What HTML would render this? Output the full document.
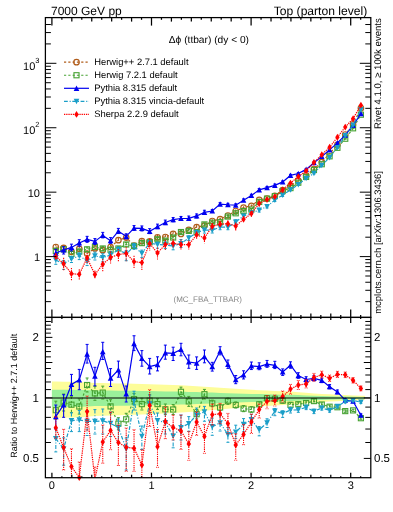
<!DOCTYPE html>
<html><head><meta charset="utf-8"><style>
html,body{margin:0;padding:0;background:#fff;width:393px;height:512px;overflow:hidden;}
svg{position:absolute;left:0;top:0;will-change:transform;}
svg text{font-family:"Liberation Sans", sans-serif;text-rendering:geometricPrecision;}
</style></head><body>
<svg width="393" height="512" viewBox="0 0 393 512"><defs><clipPath id="cm"><rect x="45.4" y="17.6" width="325.40000000000003" height="299.79999999999995"/></clipPath><clipPath id="cr"><rect x="45.4" y="317.4" width="325.40000000000003" height="160.3"/></clipPath></defs><g clip-path="url(#cr)"><polygon points="51.9,381.5 55.8,381.5 63.6,381.7 71.5,381.8 79.3,382.0 87.1,382.5 94.9,383.0 102.7,383.1 110.6,383.3 118.4,383.5 126.2,383.6 134.0,383.8 141.9,384.0 149.7,384.2 157.5,384.5 165.3,384.8 173.1,385.1 181.0,385.3 188.8,385.8 196.6,386.2 204.4,386.7 212.3,387.2 220.1,387.8 227.9,388.3 235.7,388.8 243.6,389.3 251.4,389.8 259.2,390.2 267.0,390.6 274.8,390.9 282.7,391.3 290.5,391.6 298.3,392.2 306.1,392.8 314.0,393.5 321.8,393.9 329.6,394.3 337.4,394.8 345.2,395.1 353.1,395.4 360.9,395.7 364.8,395.7 364.8,400.1 360.9,400.1 353.1,400.5 345.2,400.8 337.4,401.2 329.6,401.6 321.8,402.1 314.0,402.5 306.1,403.3 298.3,404.1 290.5,404.6 282.7,405.1 274.8,405.5 267.0,405.9 259.2,406.3 251.4,406.8 243.6,407.4 235.7,408.1 227.9,408.7 220.1,409.4 212.3,410.0 204.4,410.7 196.6,411.4 188.8,412.0 181.0,412.6 173.1,413.0 165.3,413.4 157.5,413.8 149.7,414.2 141.9,414.5 134.0,414.7 126.2,415.0 118.4,415.2 110.6,415.5 102.7,415.7 94.9,415.9 87.1,416.7 79.3,417.4 71.5,417.6 63.6,417.8 55.8,418.1 51.9,418.1" fill="#fdfd9a" stroke="none"/><polygon points="51.9,389.7 55.8,389.7 63.6,389.7 71.5,389.8 79.3,389.9 87.1,390.1 94.9,390.4 102.7,390.5 110.6,390.6 118.4,390.7 126.2,390.8 134.0,390.8 141.9,390.9 149.7,391.1 157.5,391.2 165.3,391.4 173.1,391.5 181.0,391.6 188.8,391.9 196.6,392.1 204.4,392.4 212.3,392.6 220.1,392.9 227.9,393.2 235.7,393.4 243.6,393.7 251.4,393.9 259.2,394.1 267.0,394.3 274.8,394.5 282.7,394.7 290.5,394.8 298.3,395.1 306.1,395.4 314.0,395.8 321.8,396.0 329.6,396.2 337.4,396.4 345.2,396.5 353.1,396.7 360.9,396.9 364.8,396.9 364.8,399.0 360.9,399.0 353.1,399.1 345.2,399.3 337.4,399.4 329.6,399.7 321.8,399.9 314.0,400.1 306.1,400.4 298.3,400.8 290.5,401.1 282.7,401.3 274.8,401.4 267.0,401.6 259.2,401.8 251.4,402.1 243.6,402.3 235.7,402.6 227.9,402.9 220.1,403.2 212.3,403.5 204.4,403.8 196.6,404.1 188.8,404.4 181.0,404.6 173.1,404.8 165.3,405.0 157.5,405.2 149.7,405.3 141.9,405.5 134.0,405.6 126.2,405.7 118.4,405.8 110.6,405.9 102.7,406.0 94.9,406.1 87.1,406.4 79.3,406.7 71.5,406.8 63.6,406.9 55.8,407.0 51.9,407.0" fill="#9af09a" stroke="none"/></g><g id="main"><g clip-path="url(#cm)"><polyline points="55.81,247.00 63.63,247.80 71.46,251.70 79.28,248.80 87.10,253.50 94.92,248.40 102.75,250.20 110.57,247.00 118.39,240.20 126.21,237.60 134.04,245.50 141.86,241.10 149.68,241.30 157.50,237.30 165.33,237.00 173.15,233.80 180.97,234.00 188.79,229.80 196.62,227.10 204.44,225.60 212.26,221.00 220.09,219.10 227.91,215.50 235.73,211.00 243.55,207.60 251.38,205.80 259.20,199.90 267.02,198.50 274.84,195.80 282.67,190.20 290.49,185.90 298.31,180.70 306.13,175.30 313.96,169.00 321.78,162.10 329.60,153.50 337.42,144.80 345.25,134.50 353.07,124.30 360.89,108.20" fill="none" stroke="#b05c1a" stroke-width="1.2" stroke-dasharray="2.2,2.1"/><line x1="55.81" y1="244.12" x2="55.81" y2="249.88" stroke="#b05c1a" stroke-width="1.1" stroke-dasharray="2.2,2.1"/><line x1="63.63" y1="244.95" x2="63.63" y2="250.65" stroke="#b05c1a" stroke-width="1.1" stroke-dasharray="2.2,2.1"/><line x1="71.46" y1="248.87" x2="71.46" y2="254.53" stroke="#b05c1a" stroke-width="1.1" stroke-dasharray="2.2,2.1"/><line x1="79.28" y1="246.00" x2="79.28" y2="251.60" stroke="#b05c1a" stroke-width="1.1" stroke-dasharray="2.2,2.1"/><line x1="87.10" y1="250.80" x2="87.10" y2="256.20" stroke="#b05c1a" stroke-width="1.1" stroke-dasharray="2.2,2.1"/><line x1="94.92" y1="245.79" x2="94.92" y2="251.01" stroke="#b05c1a" stroke-width="1.1" stroke-dasharray="2.2,2.1"/><line x1="102.75" y1="247.62" x2="102.75" y2="252.78" stroke="#b05c1a" stroke-width="1.1" stroke-dasharray="2.2,2.1"/><line x1="110.57" y1="244.46" x2="110.57" y2="249.54" stroke="#b05c1a" stroke-width="1.1" stroke-dasharray="2.2,2.1"/><line x1="118.39" y1="237.69" x2="118.39" y2="242.71" stroke="#b05c1a" stroke-width="1.1" stroke-dasharray="2.2,2.1"/><line x1="126.21" y1="235.12" x2="126.21" y2="240.08" stroke="#b05c1a" stroke-width="1.1" stroke-dasharray="2.2,2.1"/><line x1="134.04" y1="243.05" x2="134.04" y2="247.95" stroke="#b05c1a" stroke-width="1.1" stroke-dasharray="2.2,2.1"/><line x1="141.86" y1="238.68" x2="141.86" y2="243.52" stroke="#b05c1a" stroke-width="1.1" stroke-dasharray="2.2,2.1"/><line x1="149.68" y1="238.93" x2="149.68" y2="243.67" stroke="#b05c1a" stroke-width="1.1" stroke-dasharray="2.2,2.1"/><line x1="157.50" y1="234.98" x2="157.50" y2="239.62" stroke="#b05c1a" stroke-width="1.1" stroke-dasharray="2.2,2.1"/><line x1="165.33" y1="234.73" x2="165.33" y2="239.27" stroke="#b05c1a" stroke-width="1.1" stroke-dasharray="2.2,2.1"/><line x1="173.15" y1="231.59" x2="173.15" y2="236.01" stroke="#b05c1a" stroke-width="1.1" stroke-dasharray="2.2,2.1"/><line x1="180.97" y1="231.84" x2="180.97" y2="236.16" stroke="#b05c1a" stroke-width="1.1" stroke-dasharray="2.2,2.1"/><line x1="188.79" y1="227.72" x2="188.79" y2="231.88" stroke="#b05c1a" stroke-width="1.1" stroke-dasharray="2.2,2.1"/><line x1="196.62" y1="225.10" x2="196.62" y2="229.10" stroke="#b05c1a" stroke-width="1.1" stroke-dasharray="2.2,2.1"/><line x1="204.44" y1="223.69" x2="204.44" y2="227.51" stroke="#b05c1a" stroke-width="1.1" stroke-dasharray="2.2,2.1"/><line x1="212.26" y1="219.19" x2="212.26" y2="222.81" stroke="#b05c1a" stroke-width="1.1" stroke-dasharray="2.2,2.1"/><line x1="220.09" y1="217.38" x2="220.09" y2="220.82" stroke="#b05c1a" stroke-width="1.1" stroke-dasharray="2.2,2.1"/><line x1="227.91" y1="213.87" x2="227.91" y2="217.13" stroke="#b05c1a" stroke-width="1.1" stroke-dasharray="2.2,2.1"/><line x1="235.73" y1="209.47" x2="235.73" y2="212.53" stroke="#b05c1a" stroke-width="1.1" stroke-dasharray="2.2,2.1"/><line x1="243.55" y1="206.16" x2="243.55" y2="209.04" stroke="#b05c1a" stroke-width="1.1" stroke-dasharray="2.2,2.1"/><line x1="251.38" y1="204.44" x2="251.38" y2="207.16" stroke="#b05c1a" stroke-width="1.1" stroke-dasharray="2.2,2.1"/><line x1="259.20" y1="198.62" x2="259.20" y2="201.18" stroke="#b05c1a" stroke-width="1.1" stroke-dasharray="2.2,2.1"/><line x1="267.02" y1="197.28" x2="267.02" y2="199.72" stroke="#b05c1a" stroke-width="1.1" stroke-dasharray="2.2,2.1"/><line x1="274.84" y1="194.64" x2="274.84" y2="196.96" stroke="#b05c1a" stroke-width="1.1" stroke-dasharray="2.2,2.1"/><line x1="282.67" y1="189.10" x2="282.67" y2="191.30" stroke="#b05c1a" stroke-width="1.1" stroke-dasharray="2.2,2.1"/><line x1="290.49" y1="184.86" x2="290.49" y2="186.94" stroke="#b05c1a" stroke-width="1.1" stroke-dasharray="2.2,2.1"/><line x1="298.31" y1="179.75" x2="298.31" y2="181.65" stroke="#b05c1a" stroke-width="1.1" stroke-dasharray="2.2,2.1"/><line x1="306.13" y1="174.46" x2="306.13" y2="176.14" stroke="#b05c1a" stroke-width="1.1" stroke-dasharray="2.2,2.1"/><line x1="313.96" y1="168.28" x2="313.96" y2="169.72" stroke="#b05c1a" stroke-width="1.1" stroke-dasharray="2.2,2.1"/><line x1="321.78" y1="161.45" x2="321.78" y2="162.75" stroke="#b05c1a" stroke-width="1.1" stroke-dasharray="2.2,2.1"/><line x1="329.60" y1="152.92" x2="329.60" y2="154.08" stroke="#b05c1a" stroke-width="1.1" stroke-dasharray="2.2,2.1"/><line x1="337.42" y1="144.29" x2="337.42" y2="145.31" stroke="#b05c1a" stroke-width="1.1" stroke-dasharray="2.2,2.1"/><line x1="345.25" y1="134.04" x2="345.25" y2="134.96" stroke="#b05c1a" stroke-width="1.1" stroke-dasharray="2.2,2.1"/><line x1="353.07" y1="123.89" x2="353.07" y2="124.71" stroke="#b05c1a" stroke-width="1.1" stroke-dasharray="2.2,2.1"/><line x1="360.89" y1="107.85" x2="360.89" y2="108.55" stroke="#b05c1a" stroke-width="1.1" stroke-dasharray="2.2,2.1"/></g><circle cx="55.81" cy="247.00" r="2.75" fill="none" stroke="#b05c1a" stroke-width="1.2"/><circle cx="63.63" cy="247.80" r="2.75" fill="none" stroke="#b05c1a" stroke-width="1.2"/><circle cx="71.46" cy="251.70" r="2.75" fill="none" stroke="#b05c1a" stroke-width="1.2"/><circle cx="79.28" cy="248.80" r="2.75" fill="none" stroke="#b05c1a" stroke-width="1.2"/><circle cx="87.10" cy="253.50" r="2.75" fill="none" stroke="#b05c1a" stroke-width="1.2"/><circle cx="94.92" cy="248.40" r="2.75" fill="none" stroke="#b05c1a" stroke-width="1.2"/><circle cx="102.75" cy="250.20" r="2.75" fill="none" stroke="#b05c1a" stroke-width="1.2"/><circle cx="110.57" cy="247.00" r="2.75" fill="none" stroke="#b05c1a" stroke-width="1.2"/><circle cx="118.39" cy="240.20" r="2.75" fill="none" stroke="#b05c1a" stroke-width="1.2"/><circle cx="126.21" cy="237.60" r="2.75" fill="none" stroke="#b05c1a" stroke-width="1.2"/><circle cx="134.04" cy="245.50" r="2.75" fill="none" stroke="#b05c1a" stroke-width="1.2"/><circle cx="141.86" cy="241.10" r="2.75" fill="none" stroke="#b05c1a" stroke-width="1.2"/><circle cx="149.68" cy="241.30" r="2.75" fill="none" stroke="#b05c1a" stroke-width="1.2"/><circle cx="157.50" cy="237.30" r="2.75" fill="none" stroke="#b05c1a" stroke-width="1.2"/><circle cx="165.33" cy="237.00" r="2.75" fill="none" stroke="#b05c1a" stroke-width="1.2"/><circle cx="173.15" cy="233.80" r="2.75" fill="none" stroke="#b05c1a" stroke-width="1.2"/><circle cx="180.97" cy="234.00" r="2.75" fill="none" stroke="#b05c1a" stroke-width="1.2"/><circle cx="188.79" cy="229.80" r="2.75" fill="none" stroke="#b05c1a" stroke-width="1.2"/><circle cx="196.62" cy="227.10" r="2.75" fill="none" stroke="#b05c1a" stroke-width="1.2"/><circle cx="204.44" cy="225.60" r="2.75" fill="none" stroke="#b05c1a" stroke-width="1.2"/><circle cx="212.26" cy="221.00" r="2.75" fill="none" stroke="#b05c1a" stroke-width="1.2"/><circle cx="220.09" cy="219.10" r="2.75" fill="none" stroke="#b05c1a" stroke-width="1.2"/><circle cx="227.91" cy="215.50" r="2.75" fill="none" stroke="#b05c1a" stroke-width="1.2"/><circle cx="235.73" cy="211.00" r="2.75" fill="none" stroke="#b05c1a" stroke-width="1.2"/><circle cx="243.55" cy="207.60" r="2.75" fill="none" stroke="#b05c1a" stroke-width="1.2"/><circle cx="251.38" cy="205.80" r="2.75" fill="none" stroke="#b05c1a" stroke-width="1.2"/><circle cx="259.20" cy="199.90" r="2.75" fill="none" stroke="#b05c1a" stroke-width="1.2"/><circle cx="267.02" cy="198.50" r="2.75" fill="none" stroke="#b05c1a" stroke-width="1.2"/><circle cx="274.84" cy="195.80" r="2.75" fill="none" stroke="#b05c1a" stroke-width="1.2"/><circle cx="282.67" cy="190.20" r="2.75" fill="none" stroke="#b05c1a" stroke-width="1.2"/><circle cx="290.49" cy="185.90" r="2.75" fill="none" stroke="#b05c1a" stroke-width="1.2"/><circle cx="298.31" cy="180.70" r="2.75" fill="none" stroke="#b05c1a" stroke-width="1.2"/><circle cx="306.13" cy="175.30" r="2.75" fill="none" stroke="#b05c1a" stroke-width="1.2"/><circle cx="313.96" cy="169.00" r="2.75" fill="none" stroke="#b05c1a" stroke-width="1.2"/><circle cx="321.78" cy="162.10" r="2.75" fill="none" stroke="#b05c1a" stroke-width="1.2"/><circle cx="329.60" cy="153.50" r="2.75" fill="none" stroke="#b05c1a" stroke-width="1.2"/><circle cx="337.42" cy="144.80" r="2.75" fill="none" stroke="#b05c1a" stroke-width="1.2"/><circle cx="345.25" cy="134.50" r="2.75" fill="none" stroke="#b05c1a" stroke-width="1.2"/><circle cx="353.07" cy="124.30" r="2.75" fill="none" stroke="#b05c1a" stroke-width="1.2"/><circle cx="360.89" cy="108.20" r="2.75" fill="none" stroke="#b05c1a" stroke-width="1.2"/><g clip-path="url(#cm)"><polyline points="55.81,250.94 63.63,249.27 71.46,253.88 79.28,251.56 87.10,249.36 94.92,246.96 102.75,248.50 110.57,249.72 118.39,248.47 126.21,244.46 134.04,245.88 141.86,243.09 149.68,242.17 157.50,239.29 165.33,240.65 173.15,237.52 180.97,232.04 188.79,230.92 196.62,232.32 204.44,224.41 212.26,222.76 220.09,222.18 227.91,216.56 235.73,213.28 243.55,211.03 251.38,209.52 259.20,201.95 267.02,198.60 274.84,196.09 282.67,191.10 290.49,188.11 298.31,182.72 306.13,176.93 313.96,170.03 321.78,164.22 329.60,156.32 337.42,147.80 345.25,138.73 353.07,128.31 360.89,114.71" fill="none" stroke="#46a232" stroke-width="1.2" stroke-dasharray="2.2,2.1"/><line x1="55.81" y1="248.06" x2="55.81" y2="253.83" stroke="#46a232" stroke-width="1.1" stroke-dasharray="2.2,2.1"/><line x1="54.31" y1="248.06" x2="57.31" y2="248.06" stroke="#46a232" stroke-width="1"/><line x1="54.31" y1="253.83" x2="57.31" y2="253.83" stroke="#46a232" stroke-width="1"/><line x1="63.63" y1="246.56" x2="63.63" y2="251.99" stroke="#46a232" stroke-width="1.1" stroke-dasharray="2.2,2.1"/><line x1="62.13" y1="246.56" x2="65.13" y2="246.56" stroke="#46a232" stroke-width="1"/><line x1="62.13" y1="251.99" x2="65.13" y2="251.99" stroke="#46a232" stroke-width="1"/><line x1="71.46" y1="251.34" x2="71.46" y2="256.42" stroke="#46a232" stroke-width="1.1" stroke-dasharray="2.2,2.1"/><line x1="69.96" y1="251.34" x2="72.96" y2="251.34" stroke="#46a232" stroke-width="1"/><line x1="69.96" y1="256.42" x2="72.96" y2="256.42" stroke="#46a232" stroke-width="1"/><line x1="79.28" y1="249.12" x2="79.28" y2="254.00" stroke="#46a232" stroke-width="1.1" stroke-dasharray="2.2,2.1"/><line x1="77.78" y1="249.12" x2="80.78" y2="249.12" stroke="#46a232" stroke-width="1"/><line x1="77.78" y1="254.00" x2="80.78" y2="254.00" stroke="#46a232" stroke-width="1"/><line x1="87.10" y1="247.12" x2="87.10" y2="251.61" stroke="#46a232" stroke-width="1.1" stroke-dasharray="2.2,2.1"/><line x1="85.60" y1="247.12" x2="88.60" y2="247.12" stroke="#46a232" stroke-width="1"/><line x1="85.60" y1="251.61" x2="88.60" y2="251.61" stroke="#46a232" stroke-width="1"/><line x1="94.92" y1="244.74" x2="94.92" y2="249.18" stroke="#46a232" stroke-width="1.1" stroke-dasharray="2.2,2.1"/><line x1="93.42" y1="244.74" x2="96.42" y2="244.74" stroke="#46a232" stroke-width="1"/><line x1="93.42" y1="249.18" x2="96.42" y2="249.18" stroke="#46a232" stroke-width="1"/><line x1="102.75" y1="246.43" x2="102.75" y2="250.57" stroke="#46a232" stroke-width="1.1" stroke-dasharray="2.2,2.1"/><line x1="101.25" y1="246.43" x2="104.25" y2="246.43" stroke="#46a232" stroke-width="1"/><line x1="101.25" y1="250.57" x2="104.25" y2="250.57" stroke="#46a232" stroke-width="1"/><line x1="110.57" y1="247.57" x2="110.57" y2="251.88" stroke="#46a232" stroke-width="1.1" stroke-dasharray="2.2,2.1"/><line x1="109.07" y1="247.57" x2="112.07" y2="247.57" stroke="#46a232" stroke-width="1"/><line x1="109.07" y1="251.88" x2="112.07" y2="251.88" stroke="#46a232" stroke-width="1"/><line x1="118.39" y1="246.53" x2="118.39" y2="250.41" stroke="#46a232" stroke-width="1.1" stroke-dasharray="2.2,2.1"/><line x1="116.89" y1="246.53" x2="119.89" y2="246.53" stroke="#46a232" stroke-width="1"/><line x1="116.89" y1="250.41" x2="119.89" y2="250.41" stroke="#46a232" stroke-width="1"/><line x1="126.21" y1="242.54" x2="126.21" y2="246.38" stroke="#46a232" stroke-width="1.1" stroke-dasharray="2.2,2.1"/><line x1="124.71" y1="242.54" x2="127.71" y2="242.54" stroke="#46a232" stroke-width="1"/><line x1="124.71" y1="246.38" x2="127.71" y2="246.38" stroke="#46a232" stroke-width="1"/><line x1="134.04" y1="244.10" x2="134.04" y2="247.67" stroke="#46a232" stroke-width="1.1" stroke-dasharray="2.2,2.1"/><line x1="132.54" y1="244.10" x2="135.54" y2="244.10" stroke="#46a232" stroke-width="1"/><line x1="132.54" y1="247.67" x2="135.54" y2="247.67" stroke="#46a232" stroke-width="1"/><line x1="141.86" y1="241.21" x2="141.86" y2="244.96" stroke="#46a232" stroke-width="1.1" stroke-dasharray="2.2,2.1"/><line x1="140.36" y1="241.21" x2="143.36" y2="241.21" stroke="#46a232" stroke-width="1"/><line x1="140.36" y1="244.96" x2="143.36" y2="244.96" stroke="#46a232" stroke-width="1"/><line x1="149.68" y1="240.29" x2="149.68" y2="244.04" stroke="#46a232" stroke-width="1.1" stroke-dasharray="2.2,2.1"/><line x1="148.18" y1="240.29" x2="151.18" y2="240.29" stroke="#46a232" stroke-width="1"/><line x1="148.18" y1="244.04" x2="151.18" y2="244.04" stroke="#46a232" stroke-width="1"/><line x1="157.50" y1="237.59" x2="157.50" y2="240.98" stroke="#46a232" stroke-width="1.1" stroke-dasharray="2.2,2.1"/><line x1="156.00" y1="237.59" x2="159.00" y2="237.59" stroke="#46a232" stroke-width="1"/><line x1="156.00" y1="240.98" x2="159.00" y2="240.98" stroke="#46a232" stroke-width="1"/><line x1="165.33" y1="238.96" x2="165.33" y2="242.35" stroke="#46a232" stroke-width="1.1" stroke-dasharray="2.2,2.1"/><line x1="163.83" y1="238.96" x2="166.83" y2="238.96" stroke="#46a232" stroke-width="1"/><line x1="163.83" y1="242.35" x2="166.83" y2="242.35" stroke="#46a232" stroke-width="1"/><line x1="173.15" y1="235.92" x2="173.15" y2="239.12" stroke="#46a232" stroke-width="1.1" stroke-dasharray="2.2,2.1"/><line x1="171.65" y1="235.92" x2="174.65" y2="235.92" stroke="#46a232" stroke-width="1"/><line x1="171.65" y1="239.12" x2="174.65" y2="239.12" stroke="#46a232" stroke-width="1"/><line x1="180.97" y1="230.54" x2="180.97" y2="233.55" stroke="#46a232" stroke-width="1.1" stroke-dasharray="2.2,2.1"/><line x1="179.47" y1="230.54" x2="182.47" y2="230.54" stroke="#46a232" stroke-width="1"/><line x1="179.47" y1="233.55" x2="182.47" y2="233.55" stroke="#46a232" stroke-width="1"/><line x1="188.79" y1="229.32" x2="188.79" y2="232.52" stroke="#46a232" stroke-width="1.1" stroke-dasharray="2.2,2.1"/><line x1="187.29" y1="229.32" x2="190.29" y2="229.32" stroke="#46a232" stroke-width="1"/><line x1="187.29" y1="232.52" x2="190.29" y2="232.52" stroke="#46a232" stroke-width="1"/><line x1="196.62" y1="230.82" x2="196.62" y2="233.83" stroke="#46a232" stroke-width="1.1" stroke-dasharray="2.2,2.1"/><line x1="195.12" y1="230.82" x2="198.12" y2="230.82" stroke="#46a232" stroke-width="1"/><line x1="195.12" y1="233.83" x2="198.12" y2="233.83" stroke="#46a232" stroke-width="1"/><line x1="204.44" y1="222.88" x2="204.44" y2="225.95" stroke="#46a232" stroke-width="1.1" stroke-dasharray="2.2,2.1"/><line x1="202.94" y1="222.88" x2="205.94" y2="222.88" stroke="#46a232" stroke-width="1"/><line x1="202.94" y1="225.95" x2="205.94" y2="225.95" stroke="#46a232" stroke-width="1"/><line x1="212.26" y1="221.71" x2="212.26" y2="223.82" stroke="#46a232" stroke-width="1.1" stroke-dasharray="2.2,2.1"/><line x1="210.76" y1="221.71" x2="213.76" y2="221.71" stroke="#46a232" stroke-width="1"/><line x1="210.76" y1="223.82" x2="213.76" y2="223.82" stroke="#46a232" stroke-width="1"/><line x1="220.09" y1="221.20" x2="220.09" y2="223.16" stroke="#46a232" stroke-width="1.1" stroke-dasharray="2.2,2.1"/><line x1="218.59" y1="221.20" x2="221.59" y2="221.20" stroke="#46a232" stroke-width="1"/><line x1="218.59" y1="223.16" x2="221.59" y2="223.16" stroke="#46a232" stroke-width="1"/><line x1="227.91" y1="215.55" x2="227.91" y2="217.57" stroke="#46a232" stroke-width="1.1" stroke-dasharray="2.2,2.1"/><line x1="226.41" y1="215.55" x2="229.41" y2="215.55" stroke="#46a232" stroke-width="1"/><line x1="226.41" y1="217.57" x2="229.41" y2="217.57" stroke="#46a232" stroke-width="1"/><line x1="235.73" y1="212.30" x2="235.73" y2="214.26" stroke="#46a232" stroke-width="1.1" stroke-dasharray="2.2,2.1"/><line x1="234.23" y1="212.30" x2="237.23" y2="212.30" stroke="#46a232" stroke-width="1"/><line x1="234.23" y1="214.26" x2="237.23" y2="214.26" stroke="#46a232" stroke-width="1"/><line x1="243.55" y1="210.05" x2="243.55" y2="212.01" stroke="#46a232" stroke-width="1.1" stroke-dasharray="2.2,2.1"/><line x1="242.05" y1="210.05" x2="245.05" y2="210.05" stroke="#46a232" stroke-width="1"/><line x1="242.05" y1="212.01" x2="245.05" y2="212.01" stroke="#46a232" stroke-width="1"/><line x1="251.38" y1="208.61" x2="251.38" y2="210.42" stroke="#46a232" stroke-width="1.1" stroke-dasharray="2.2,2.1"/><line x1="249.88" y1="208.61" x2="252.88" y2="208.61" stroke="#46a232" stroke-width="1"/><line x1="249.88" y1="210.42" x2="252.88" y2="210.42" stroke="#46a232" stroke-width="1"/><line x1="259.20" y1="201.12" x2="259.20" y2="202.78" stroke="#46a232" stroke-width="1.1" stroke-dasharray="2.2,2.1"/><line x1="257.70" y1="201.12" x2="260.70" y2="201.12" stroke="#46a232" stroke-width="1"/><line x1="257.70" y1="202.78" x2="260.70" y2="202.78" stroke="#46a232" stroke-width="1"/><line x1="267.02" y1="197.77" x2="267.02" y2="199.42" stroke="#46a232" stroke-width="1.1" stroke-dasharray="2.2,2.1"/><line x1="265.52" y1="197.77" x2="268.52" y2="197.77" stroke="#46a232" stroke-width="1"/><line x1="265.52" y1="199.42" x2="268.52" y2="199.42" stroke="#46a232" stroke-width="1"/><line x1="274.84" y1="195.21" x2="274.84" y2="196.96" stroke="#46a232" stroke-width="1.1" stroke-dasharray="2.2,2.1"/><line x1="273.34" y1="195.21" x2="276.34" y2="195.21" stroke="#46a232" stroke-width="1"/><line x1="273.34" y1="196.96" x2="276.34" y2="196.96" stroke="#46a232" stroke-width="1"/><line x1="282.67" y1="190.31" x2="282.67" y2="191.88" stroke="#46a232" stroke-width="1.1" stroke-dasharray="2.2,2.1"/><line x1="281.17" y1="190.31" x2="284.17" y2="190.31" stroke="#46a232" stroke-width="1"/><line x1="281.17" y1="191.88" x2="284.17" y2="191.88" stroke="#46a232" stroke-width="1"/><line x1="290.49" y1="187.34" x2="290.49" y2="188.88" stroke="#46a232" stroke-width="1.1" stroke-dasharray="2.2,2.1"/><line x1="288.99" y1="187.34" x2="291.99" y2="187.34" stroke="#46a232" stroke-width="1"/><line x1="288.99" y1="188.88" x2="291.99" y2="188.88" stroke="#46a232" stroke-width="1"/><line x1="298.31" y1="182.05" x2="298.31" y2="183.39" stroke="#46a232" stroke-width="1.1" stroke-dasharray="2.2,2.1"/><line x1="296.81" y1="182.05" x2="299.81" y2="182.05" stroke="#46a232" stroke-width="1"/><line x1="296.81" y1="183.39" x2="299.81" y2="183.39" stroke="#46a232" stroke-width="1"/><line x1="306.13" y1="176.26" x2="306.13" y2="177.61" stroke="#46a232" stroke-width="1.1" stroke-dasharray="2.2,2.1"/><line x1="304.63" y1="176.26" x2="307.63" y2="176.26" stroke="#46a232" stroke-width="1"/><line x1="304.63" y1="177.61" x2="307.63" y2="177.61" stroke="#46a232" stroke-width="1"/><line x1="313.96" y1="169.40" x2="313.96" y2="170.65" stroke="#46a232" stroke-width="1.1" stroke-dasharray="2.2,2.1"/><line x1="312.46" y1="169.40" x2="315.46" y2="169.40" stroke="#46a232" stroke-width="1"/><line x1="312.46" y1="170.65" x2="315.46" y2="170.65" stroke="#46a232" stroke-width="1"/><line x1="321.78" y1="163.67" x2="321.78" y2="164.76" stroke="#46a232" stroke-width="1.1" stroke-dasharray="2.2,2.1"/><line x1="320.28" y1="163.67" x2="323.28" y2="163.67" stroke="#46a232" stroke-width="1"/><line x1="320.28" y1="164.76" x2="323.28" y2="164.76" stroke="#46a232" stroke-width="1"/><line x1="329.60" y1="155.80" x2="329.60" y2="156.84" stroke="#46a232" stroke-width="1.1" stroke-dasharray="2.2,2.1"/><line x1="328.10" y1="155.80" x2="331.10" y2="155.80" stroke="#46a232" stroke-width="1"/><line x1="328.10" y1="156.84" x2="331.10" y2="156.84" stroke="#46a232" stroke-width="1"/><line x1="337.42" y1="147.34" x2="337.42" y2="148.26" stroke="#46a232" stroke-width="1.1" stroke-dasharray="2.2,2.1"/><line x1="335.92" y1="147.34" x2="338.92" y2="147.34" stroke="#46a232" stroke-width="1"/><line x1="335.92" y1="148.26" x2="338.92" y2="148.26" stroke="#46a232" stroke-width="1"/><line x1="345.25" y1="138.33" x2="345.25" y2="139.14" stroke="#46a232" stroke-width="1.1" stroke-dasharray="2.2,2.1"/><line x1="343.75" y1="138.33" x2="346.75" y2="138.33" stroke="#46a232" stroke-width="1"/><line x1="343.75" y1="139.14" x2="346.75" y2="139.14" stroke="#46a232" stroke-width="1"/><line x1="353.07" y1="127.94" x2="353.07" y2="128.67" stroke="#46a232" stroke-width="1.1" stroke-dasharray="2.2,2.1"/><line x1="351.57" y1="127.94" x2="354.57" y2="127.94" stroke="#46a232" stroke-width="1"/><line x1="351.57" y1="128.67" x2="354.57" y2="128.67" stroke="#46a232" stroke-width="1"/><line x1="360.89" y1="114.37" x2="360.89" y2="115.04" stroke="#46a232" stroke-width="1.1" stroke-dasharray="2.2,2.1"/><line x1="359.39" y1="114.37" x2="362.39" y2="114.37" stroke="#46a232" stroke-width="1"/><line x1="359.39" y1="115.04" x2="362.39" y2="115.04" stroke="#46a232" stroke-width="1"/></g><rect x="53.26" y="248.39" width="5.1" height="5.1" fill="none" stroke="#46a232" stroke-width="1.1"/><rect x="61.08" y="246.72" width="5.1" height="5.1" fill="none" stroke="#46a232" stroke-width="1.1"/><rect x="68.91" y="251.33" width="5.1" height="5.1" fill="none" stroke="#46a232" stroke-width="1.1"/><rect x="76.73" y="249.01" width="5.1" height="5.1" fill="none" stroke="#46a232" stroke-width="1.1"/><rect x="84.55" y="246.81" width="5.1" height="5.1" fill="none" stroke="#46a232" stroke-width="1.1"/><rect x="92.37" y="244.41" width="5.1" height="5.1" fill="none" stroke="#46a232" stroke-width="1.1"/><rect x="100.20" y="245.95" width="5.1" height="5.1" fill="none" stroke="#46a232" stroke-width="1.1"/><rect x="108.02" y="247.17" width="5.1" height="5.1" fill="none" stroke="#46a232" stroke-width="1.1"/><rect x="115.84" y="245.92" width="5.1" height="5.1" fill="none" stroke="#46a232" stroke-width="1.1"/><rect x="123.66" y="241.91" width="5.1" height="5.1" fill="none" stroke="#46a232" stroke-width="1.1"/><rect x="131.49" y="243.33" width="5.1" height="5.1" fill="none" stroke="#46a232" stroke-width="1.1"/><rect x="139.31" y="240.54" width="5.1" height="5.1" fill="none" stroke="#46a232" stroke-width="1.1"/><rect x="147.13" y="239.62" width="5.1" height="5.1" fill="none" stroke="#46a232" stroke-width="1.1"/><rect x="154.95" y="236.74" width="5.1" height="5.1" fill="none" stroke="#46a232" stroke-width="1.1"/><rect x="162.78" y="238.10" width="5.1" height="5.1" fill="none" stroke="#46a232" stroke-width="1.1"/><rect x="170.60" y="234.97" width="5.1" height="5.1" fill="none" stroke="#46a232" stroke-width="1.1"/><rect x="178.42" y="229.49" width="5.1" height="5.1" fill="none" stroke="#46a232" stroke-width="1.1"/><rect x="186.24" y="228.37" width="5.1" height="5.1" fill="none" stroke="#46a232" stroke-width="1.1"/><rect x="194.07" y="229.77" width="5.1" height="5.1" fill="none" stroke="#46a232" stroke-width="1.1"/><rect x="201.89" y="221.86" width="5.1" height="5.1" fill="none" stroke="#46a232" stroke-width="1.1"/><rect x="209.71" y="220.21" width="5.1" height="5.1" fill="none" stroke="#46a232" stroke-width="1.1"/><rect x="217.54" y="219.63" width="5.1" height="5.1" fill="none" stroke="#46a232" stroke-width="1.1"/><rect x="225.36" y="214.01" width="5.1" height="5.1" fill="none" stroke="#46a232" stroke-width="1.1"/><rect x="233.18" y="210.73" width="5.1" height="5.1" fill="none" stroke="#46a232" stroke-width="1.1"/><rect x="241.00" y="208.48" width="5.1" height="5.1" fill="none" stroke="#46a232" stroke-width="1.1"/><rect x="248.83" y="206.97" width="5.1" height="5.1" fill="none" stroke="#46a232" stroke-width="1.1"/><rect x="256.65" y="199.40" width="5.1" height="5.1" fill="none" stroke="#46a232" stroke-width="1.1"/><rect x="264.47" y="196.05" width="5.1" height="5.1" fill="none" stroke="#46a232" stroke-width="1.1"/><rect x="272.29" y="193.54" width="5.1" height="5.1" fill="none" stroke="#46a232" stroke-width="1.1"/><rect x="280.12" y="188.55" width="5.1" height="5.1" fill="none" stroke="#46a232" stroke-width="1.1"/><rect x="287.94" y="185.56" width="5.1" height="5.1" fill="none" stroke="#46a232" stroke-width="1.1"/><rect x="295.76" y="180.17" width="5.1" height="5.1" fill="none" stroke="#46a232" stroke-width="1.1"/><rect x="303.58" y="174.38" width="5.1" height="5.1" fill="none" stroke="#46a232" stroke-width="1.1"/><rect x="311.41" y="167.48" width="5.1" height="5.1" fill="none" stroke="#46a232" stroke-width="1.1"/><rect x="319.23" y="161.67" width="5.1" height="5.1" fill="none" stroke="#46a232" stroke-width="1.1"/><rect x="327.05" y="153.77" width="5.1" height="5.1" fill="none" stroke="#46a232" stroke-width="1.1"/><rect x="334.87" y="145.25" width="5.1" height="5.1" fill="none" stroke="#46a232" stroke-width="1.1"/><rect x="342.70" y="136.18" width="5.1" height="5.1" fill="none" stroke="#46a232" stroke-width="1.1"/><rect x="350.52" y="125.76" width="5.1" height="5.1" fill="none" stroke="#46a232" stroke-width="1.1"/><rect x="358.34" y="112.16" width="5.1" height="5.1" fill="none" stroke="#46a232" stroke-width="1.1"/><g clip-path="url(#cm)"><polyline points="55.81,253.03 63.63,250.01 71.46,247.40 79.28,243.00 87.10,239.46 94.92,241.41 102.75,235.39 110.57,240.70 118.39,231.19 126.21,236.32 134.04,228.09 141.86,228.44 149.68,231.30 157.50,226.66 165.33,222.54 173.15,219.54 180.97,218.49 188.79,218.29 196.62,215.94 204.44,212.36 212.26,211.00 220.09,204.10 227.91,204.76 235.73,205.17 243.55,200.20 251.38,195.51 259.20,189.87 267.02,187.70 274.84,185.35 282.67,181.90 290.49,175.42 298.31,173.55 306.13,169.40 313.96,162.72 321.78,156.49 329.60,149.91 337.42,142.88 345.25,135.21 353.07,125.36 360.89,113.75" fill="none" stroke="#0000f0" stroke-width="1.2"/><line x1="55.81" y1="249.28" x2="55.81" y2="256.97" stroke="#0000f0" stroke-width="1.1"/><line x1="54.31" y1="249.28" x2="57.31" y2="249.28" stroke="#0000f0" stroke-width="1"/><line x1="54.31" y1="256.97" x2="57.31" y2="256.97" stroke="#0000f0" stroke-width="1"/><line x1="63.63" y1="246.77" x2="63.63" y2="254.02" stroke="#0000f0" stroke-width="1.1"/><line x1="62.13" y1="246.77" x2="65.13" y2="246.77" stroke="#0000f0" stroke-width="1"/><line x1="62.13" y1="254.02" x2="65.13" y2="254.02" stroke="#0000f0" stroke-width="1"/><line x1="71.46" y1="244.17" x2="71.46" y2="250.93" stroke="#0000f0" stroke-width="1.1"/><line x1="69.96" y1="244.17" x2="72.96" y2="244.17" stroke="#0000f0" stroke-width="1"/><line x1="69.96" y1="250.93" x2="72.96" y2="250.93" stroke="#0000f0" stroke-width="1"/><line x1="79.28" y1="239.66" x2="79.28" y2="246.17" stroke="#0000f0" stroke-width="1.1"/><line x1="77.78" y1="239.66" x2="80.78" y2="239.66" stroke="#0000f0" stroke-width="1"/><line x1="77.78" y1="246.17" x2="80.78" y2="246.17" stroke="#0000f0" stroke-width="1"/><line x1="87.10" y1="236.35" x2="87.10" y2="242.34" stroke="#0000f0" stroke-width="1.1"/><line x1="85.60" y1="236.35" x2="88.60" y2="236.35" stroke="#0000f0" stroke-width="1"/><line x1="85.60" y1="242.34" x2="88.60" y2="242.34" stroke="#0000f0" stroke-width="1"/><line x1="94.92" y1="238.59" x2="94.92" y2="244.51" stroke="#0000f0" stroke-width="1.1"/><line x1="93.42" y1="238.59" x2="96.42" y2="238.59" stroke="#0000f0" stroke-width="1"/><line x1="93.42" y1="244.51" x2="96.42" y2="244.51" stroke="#0000f0" stroke-width="1"/><line x1="102.75" y1="232.38" x2="102.75" y2="237.89" stroke="#0000f0" stroke-width="1.1"/><line x1="101.25" y1="232.38" x2="104.25" y2="232.38" stroke="#0000f0" stroke-width="1"/><line x1="101.25" y1="237.89" x2="104.25" y2="237.89" stroke="#0000f0" stroke-width="1"/><line x1="110.57" y1="237.61" x2="110.57" y2="243.35" stroke="#0000f0" stroke-width="1.1"/><line x1="109.07" y1="237.61" x2="112.07" y2="237.61" stroke="#0000f0" stroke-width="1"/><line x1="109.07" y1="243.35" x2="112.07" y2="243.35" stroke="#0000f0" stroke-width="1"/><line x1="118.39" y1="228.40" x2="118.39" y2="233.56" stroke="#0000f0" stroke-width="1.1"/><line x1="116.89" y1="228.40" x2="119.89" y2="228.40" stroke="#0000f0" stroke-width="1"/><line x1="116.89" y1="233.56" x2="119.89" y2="233.56" stroke="#0000f0" stroke-width="1"/><line x1="126.21" y1="233.79" x2="126.21" y2="238.91" stroke="#0000f0" stroke-width="1.1"/><line x1="124.71" y1="233.79" x2="127.71" y2="233.79" stroke="#0000f0" stroke-width="1"/><line x1="124.71" y1="238.91" x2="127.71" y2="238.91" stroke="#0000f0" stroke-width="1"/><line x1="134.04" y1="225.58" x2="134.04" y2="230.34" stroke="#0000f0" stroke-width="1.1"/><line x1="132.54" y1="225.58" x2="135.54" y2="225.58" stroke="#0000f0" stroke-width="1"/><line x1="132.54" y1="230.34" x2="135.54" y2="230.34" stroke="#0000f0" stroke-width="1"/><line x1="141.86" y1="225.94" x2="141.86" y2="230.94" stroke="#0000f0" stroke-width="1.1"/><line x1="140.36" y1="225.94" x2="143.36" y2="225.94" stroke="#0000f0" stroke-width="1"/><line x1="140.36" y1="230.94" x2="143.36" y2="230.94" stroke="#0000f0" stroke-width="1"/><line x1="149.68" y1="228.64" x2="149.68" y2="233.64" stroke="#0000f0" stroke-width="1.1"/><line x1="148.18" y1="228.64" x2="151.18" y2="228.64" stroke="#0000f0" stroke-width="1"/><line x1="148.18" y1="233.64" x2="151.18" y2="233.64" stroke="#0000f0" stroke-width="1"/><line x1="157.50" y1="224.13" x2="157.50" y2="228.65" stroke="#0000f0" stroke-width="1.1"/><line x1="156.00" y1="224.13" x2="159.00" y2="224.13" stroke="#0000f0" stroke-width="1"/><line x1="156.00" y1="228.65" x2="159.00" y2="228.65" stroke="#0000f0" stroke-width="1"/><line x1="165.33" y1="220.08" x2="165.33" y2="224.59" stroke="#0000f0" stroke-width="1.1"/><line x1="163.83" y1="220.08" x2="166.83" y2="220.08" stroke="#0000f0" stroke-width="1"/><line x1="163.83" y1="224.59" x2="166.83" y2="224.59" stroke="#0000f0" stroke-width="1"/><line x1="173.15" y1="217.55" x2="173.15" y2="221.81" stroke="#0000f0" stroke-width="1.1"/><line x1="171.65" y1="217.55" x2="174.65" y2="217.55" stroke="#0000f0" stroke-width="1"/><line x1="171.65" y1="221.81" x2="174.65" y2="221.81" stroke="#0000f0" stroke-width="1"/><line x1="180.97" y1="216.50" x2="180.97" y2="220.50" stroke="#0000f0" stroke-width="1.1"/><line x1="179.47" y1="216.50" x2="182.47" y2="216.50" stroke="#0000f0" stroke-width="1"/><line x1="179.47" y1="220.50" x2="182.47" y2="220.50" stroke="#0000f0" stroke-width="1"/><line x1="188.79" y1="216.05" x2="188.79" y2="220.31" stroke="#0000f0" stroke-width="1.1"/><line x1="187.29" y1="216.05" x2="190.29" y2="216.05" stroke="#0000f0" stroke-width="1"/><line x1="187.29" y1="220.31" x2="190.29" y2="220.31" stroke="#0000f0" stroke-width="1"/><line x1="196.62" y1="213.96" x2="196.62" y2="217.96" stroke="#0000f0" stroke-width="1.1"/><line x1="195.12" y1="213.96" x2="198.12" y2="213.96" stroke="#0000f0" stroke-width="1"/><line x1="195.12" y1="217.96" x2="198.12" y2="217.96" stroke="#0000f0" stroke-width="1"/><line x1="204.44" y1="210.25" x2="204.44" y2="214.35" stroke="#0000f0" stroke-width="1.1"/><line x1="202.94" y1="210.25" x2="205.94" y2="210.25" stroke="#0000f0" stroke-width="1"/><line x1="202.94" y1="214.35" x2="205.94" y2="214.35" stroke="#0000f0" stroke-width="1"/><line x1="212.26" y1="209.60" x2="212.26" y2="212.41" stroke="#0000f0" stroke-width="1.1"/><line x1="210.76" y1="209.60" x2="213.76" y2="209.60" stroke="#0000f0" stroke-width="1"/><line x1="210.76" y1="212.41" x2="213.76" y2="212.41" stroke="#0000f0" stroke-width="1"/><line x1="220.09" y1="202.69" x2="220.09" y2="205.30" stroke="#0000f0" stroke-width="1.1"/><line x1="218.59" y1="202.69" x2="221.59" y2="202.69" stroke="#0000f0" stroke-width="1"/><line x1="218.59" y1="205.30" x2="221.59" y2="205.30" stroke="#0000f0" stroke-width="1"/><line x1="227.91" y1="203.35" x2="227.91" y2="206.04" stroke="#0000f0" stroke-width="1.1"/><line x1="226.41" y1="203.35" x2="229.41" y2="203.35" stroke="#0000f0" stroke-width="1"/><line x1="226.41" y1="206.04" x2="229.41" y2="206.04" stroke="#0000f0" stroke-width="1"/><line x1="235.73" y1="203.83" x2="235.73" y2="206.45" stroke="#0000f0" stroke-width="1.1"/><line x1="234.23" y1="203.83" x2="237.23" y2="203.83" stroke="#0000f0" stroke-width="1"/><line x1="234.23" y1="206.45" x2="237.23" y2="206.45" stroke="#0000f0" stroke-width="1"/><line x1="243.55" y1="198.91" x2="243.55" y2="201.53" stroke="#0000f0" stroke-width="1.1"/><line x1="242.05" y1="198.91" x2="245.05" y2="198.91" stroke="#0000f0" stroke-width="1"/><line x1="242.05" y1="201.53" x2="245.05" y2="201.53" stroke="#0000f0" stroke-width="1"/><line x1="251.38" y1="194.31" x2="251.38" y2="196.72" stroke="#0000f0" stroke-width="1.1"/><line x1="249.88" y1="194.31" x2="252.88" y2="194.31" stroke="#0000f0" stroke-width="1"/><line x1="249.88" y1="196.72" x2="252.88" y2="196.72" stroke="#0000f0" stroke-width="1"/><line x1="259.20" y1="188.66" x2="259.20" y2="190.87" stroke="#0000f0" stroke-width="1.1"/><line x1="257.70" y1="188.66" x2="260.70" y2="188.66" stroke="#0000f0" stroke-width="1"/><line x1="257.70" y1="190.87" x2="260.70" y2="190.87" stroke="#0000f0" stroke-width="1"/><line x1="267.02" y1="186.49" x2="267.02" y2="188.70" stroke="#0000f0" stroke-width="1.1"/><line x1="265.52" y1="186.49" x2="268.52" y2="186.49" stroke="#0000f0" stroke-width="1"/><line x1="265.52" y1="188.70" x2="268.52" y2="188.70" stroke="#0000f0" stroke-width="1"/><line x1="274.84" y1="184.07" x2="274.84" y2="186.40" stroke="#0000f0" stroke-width="1.1"/><line x1="273.34" y1="184.07" x2="276.34" y2="184.07" stroke="#0000f0" stroke-width="1"/><line x1="273.34" y1="186.40" x2="276.34" y2="186.40" stroke="#0000f0" stroke-width="1"/><line x1="282.67" y1="180.90" x2="282.67" y2="182.99" stroke="#0000f0" stroke-width="1.1"/><line x1="281.17" y1="180.90" x2="284.17" y2="180.90" stroke="#0000f0" stroke-width="1"/><line x1="281.17" y1="182.99" x2="284.17" y2="182.99" stroke="#0000f0" stroke-width="1"/><line x1="290.49" y1="174.34" x2="290.49" y2="176.39" stroke="#0000f0" stroke-width="1.1"/><line x1="288.99" y1="174.34" x2="291.99" y2="174.34" stroke="#0000f0" stroke-width="1"/><line x1="288.99" y1="176.39" x2="291.99" y2="176.39" stroke="#0000f0" stroke-width="1"/><line x1="298.31" y1="172.63" x2="298.31" y2="174.42" stroke="#0000f0" stroke-width="1.1"/><line x1="296.81" y1="172.63" x2="299.81" y2="172.63" stroke="#0000f0" stroke-width="1"/><line x1="296.81" y1="174.42" x2="299.81" y2="174.42" stroke="#0000f0" stroke-width="1"/><line x1="306.13" y1="168.50" x2="306.13" y2="170.30" stroke="#0000f0" stroke-width="1.1"/><line x1="304.63" y1="168.50" x2="307.63" y2="168.50" stroke="#0000f0" stroke-width="1"/><line x1="304.63" y1="170.30" x2="307.63" y2="170.30" stroke="#0000f0" stroke-width="1"/><line x1="313.96" y1="161.87" x2="313.96" y2="163.54" stroke="#0000f0" stroke-width="1.1"/><line x1="312.46" y1="161.87" x2="315.46" y2="161.87" stroke="#0000f0" stroke-width="1"/><line x1="312.46" y1="163.54" x2="315.46" y2="163.54" stroke="#0000f0" stroke-width="1"/><line x1="321.78" y1="155.75" x2="321.78" y2="157.21" stroke="#0000f0" stroke-width="1.1"/><line x1="320.28" y1="155.75" x2="323.28" y2="155.75" stroke="#0000f0" stroke-width="1"/><line x1="320.28" y1="157.21" x2="323.28" y2="157.21" stroke="#0000f0" stroke-width="1"/><line x1="329.60" y1="149.22" x2="329.60" y2="150.60" stroke="#0000f0" stroke-width="1.1"/><line x1="328.10" y1="149.22" x2="331.10" y2="149.22" stroke="#0000f0" stroke-width="1"/><line x1="328.10" y1="150.60" x2="331.10" y2="150.60" stroke="#0000f0" stroke-width="1"/><line x1="337.42" y1="142.26" x2="337.42" y2="143.49" stroke="#0000f0" stroke-width="1.1"/><line x1="335.92" y1="142.26" x2="338.92" y2="142.26" stroke="#0000f0" stroke-width="1"/><line x1="335.92" y1="143.49" x2="338.92" y2="143.49" stroke="#0000f0" stroke-width="1"/><line x1="345.25" y1="134.67" x2="345.25" y2="135.74" stroke="#0000f0" stroke-width="1.1"/><line x1="343.75" y1="134.67" x2="346.75" y2="134.67" stroke="#0000f0" stroke-width="1"/><line x1="343.75" y1="135.74" x2="346.75" y2="135.74" stroke="#0000f0" stroke-width="1"/><line x1="353.07" y1="124.87" x2="353.07" y2="125.85" stroke="#0000f0" stroke-width="1.1"/><line x1="351.57" y1="124.87" x2="354.57" y2="124.87" stroke="#0000f0" stroke-width="1"/><line x1="351.57" y1="125.85" x2="354.57" y2="125.85" stroke="#0000f0" stroke-width="1"/><line x1="360.89" y1="113.31" x2="360.89" y2="114.21" stroke="#0000f0" stroke-width="1.1"/><line x1="359.39" y1="113.31" x2="362.39" y2="113.31" stroke="#0000f0" stroke-width="1"/><line x1="359.39" y1="114.21" x2="362.39" y2="114.21" stroke="#0000f0" stroke-width="1"/></g><path d="M55.81,250.13L58.61,255.63L53.01,255.63Z" fill="#0000f0"/><path d="M63.63,247.11L66.43,252.61L60.83,252.61Z" fill="#0000f0"/><path d="M71.46,244.50L74.26,250.00L68.66,250.00Z" fill="#0000f0"/><path d="M79.28,240.10L82.08,245.60L76.48,245.60Z" fill="#0000f0"/><path d="M87.10,236.56L89.90,242.06L84.30,242.06Z" fill="#0000f0"/><path d="M94.92,238.51L97.72,244.01L92.12,244.01Z" fill="#0000f0"/><path d="M102.75,232.49L105.55,237.99L99.95,237.99Z" fill="#0000f0"/><path d="M110.57,237.80L113.37,243.30L107.77,243.30Z" fill="#0000f0"/><path d="M118.39,228.29L121.19,233.79L115.59,233.79Z" fill="#0000f0"/><path d="M126.21,233.42L129.01,238.92L123.41,238.92Z" fill="#0000f0"/><path d="M134.04,225.19L136.84,230.69L131.24,230.69Z" fill="#0000f0"/><path d="M141.86,225.54L144.66,231.04L139.06,231.04Z" fill="#0000f0"/><path d="M149.68,228.40L152.48,233.90L146.88,233.90Z" fill="#0000f0"/><path d="M157.50,223.76L160.30,229.26L154.70,229.26Z" fill="#0000f0"/><path d="M165.33,219.64L168.13,225.14L162.53,225.14Z" fill="#0000f0"/><path d="M173.15,216.64L175.95,222.14L170.35,222.14Z" fill="#0000f0"/><path d="M180.97,215.59L183.77,221.09L178.17,221.09Z" fill="#0000f0"/><path d="M188.79,215.39L191.59,220.89L185.99,220.89Z" fill="#0000f0"/><path d="M196.62,213.04L199.42,218.54L193.82,218.54Z" fill="#0000f0"/><path d="M204.44,209.46L207.24,214.96L201.64,214.96Z" fill="#0000f0"/><path d="M212.26,208.10L215.06,213.60L209.46,213.60Z" fill="#0000f0"/><path d="M220.09,201.20L222.89,206.70L217.29,206.70Z" fill="#0000f0"/><path d="M227.91,201.86L230.71,207.36L225.11,207.36Z" fill="#0000f0"/><path d="M235.73,202.27L238.53,207.77L232.93,207.77Z" fill="#0000f0"/><path d="M243.55,197.30L246.35,202.80L240.75,202.80Z" fill="#0000f0"/><path d="M251.38,192.61L254.18,198.11L248.58,198.11Z" fill="#0000f0"/><path d="M259.20,186.97L262.00,192.47L256.40,192.47Z" fill="#0000f0"/><path d="M267.02,184.80L269.82,190.30L264.22,190.30Z" fill="#0000f0"/><path d="M274.84,182.45L277.64,187.95L272.04,187.95Z" fill="#0000f0"/><path d="M282.67,179.00L285.47,184.50L279.87,184.50Z" fill="#0000f0"/><path d="M290.49,172.52L293.29,178.02L287.69,178.02Z" fill="#0000f0"/><path d="M298.31,170.65L301.11,176.15L295.51,176.15Z" fill="#0000f0"/><path d="M306.13,166.50L308.93,172.00L303.33,172.00Z" fill="#0000f0"/><path d="M313.96,159.82L316.76,165.32L311.16,165.32Z" fill="#0000f0"/><path d="M321.78,153.59L324.58,159.09L318.98,159.09Z" fill="#0000f0"/><path d="M329.60,147.01L332.40,152.51L326.80,152.51Z" fill="#0000f0"/><path d="M337.42,139.98L340.22,145.48L334.62,145.48Z" fill="#0000f0"/><path d="M345.25,132.31L348.05,137.81L342.45,137.81Z" fill="#0000f0"/><path d="M353.07,122.46L355.87,127.96L350.27,127.96Z" fill="#0000f0"/><path d="M360.89,110.85L363.69,116.35L358.09,116.35Z" fill="#0000f0"/><g clip-path="url(#cm)"><polyline points="55.81,260.05 63.63,264.12 71.46,259.01 79.28,255.85 87.10,261.03 94.92,255.93 102.75,257.54 110.57,255.14 118.39,249.72 126.21,253.98 134.04,246.37 141.86,253.41 149.68,243.18 157.50,244.54 165.33,244.92 173.15,246.04 180.97,243.49 188.79,238.04 196.62,232.58 204.44,230.09 212.26,230.23 220.09,227.08 227.91,227.23 235.73,221.99 243.55,216.09 251.38,212.79 259.20,210.13 267.02,206.48 274.84,200.06 282.67,195.17 290.49,189.81 298.31,184.51 306.13,178.35 313.96,173.30 321.78,165.34 329.60,157.51 337.42,147.49 345.25,135.65 353.07,125.13 360.89,109.58" fill="none" stroke="#1a9ec8" stroke-width="1.2" stroke-dasharray="3.8,1.8,1.1,1.6"/><line x1="55.81" y1="256.81" x2="55.81" y2="264.31" stroke="#1a9ec8" stroke-width="1.1" stroke-dasharray="3.8,1.8,1.1,1.6"/><line x1="54.31" y1="256.81" x2="57.31" y2="256.81" stroke="#1a9ec8" stroke-width="1"/><line x1="54.31" y1="264.31" x2="57.31" y2="264.31" stroke="#1a9ec8" stroke-width="1"/><line x1="63.63" y1="260.59" x2="63.63" y2="269.37" stroke="#1a9ec8" stroke-width="1.1" stroke-dasharray="3.8,1.8,1.1,1.6"/><line x1="62.13" y1="260.59" x2="65.13" y2="260.59" stroke="#1a9ec8" stroke-width="1"/><line x1="62.13" y1="269.37" x2="65.13" y2="269.37" stroke="#1a9ec8" stroke-width="1"/><line x1="71.46" y1="256.48" x2="71.46" y2="262.50" stroke="#1a9ec8" stroke-width="1.1" stroke-dasharray="3.8,1.8,1.1,1.6"/><line x1="69.96" y1="256.48" x2="72.96" y2="256.48" stroke="#1a9ec8" stroke-width="1"/><line x1="69.96" y1="262.50" x2="72.96" y2="262.50" stroke="#1a9ec8" stroke-width="1"/><line x1="79.28" y1="252.84" x2="79.28" y2="259.60" stroke="#1a9ec8" stroke-width="1.1" stroke-dasharray="3.8,1.8,1.1,1.6"/><line x1="77.78" y1="252.84" x2="80.78" y2="252.84" stroke="#1a9ec8" stroke-width="1"/><line x1="77.78" y1="259.60" x2="80.78" y2="259.60" stroke="#1a9ec8" stroke-width="1"/><line x1="87.10" y1="257.54" x2="87.10" y2="265.55" stroke="#1a9ec8" stroke-width="1.1" stroke-dasharray="3.8,1.8,1.1,1.6"/><line x1="85.60" y1="257.54" x2="88.60" y2="257.54" stroke="#1a9ec8" stroke-width="1"/><line x1="85.60" y1="265.55" x2="88.60" y2="265.55" stroke="#1a9ec8" stroke-width="1"/><line x1="94.92" y1="252.15" x2="94.92" y2="259.97" stroke="#1a9ec8" stroke-width="1.1" stroke-dasharray="3.8,1.8,1.1,1.6"/><line x1="93.42" y1="252.15" x2="96.42" y2="252.15" stroke="#1a9ec8" stroke-width="1"/><line x1="93.42" y1="259.97" x2="96.42" y2="259.97" stroke="#1a9ec8" stroke-width="1"/><line x1="102.75" y1="253.76" x2="102.75" y2="261.77" stroke="#1a9ec8" stroke-width="1.1" stroke-dasharray="3.8,1.8,1.1,1.6"/><line x1="101.25" y1="253.76" x2="104.25" y2="253.76" stroke="#1a9ec8" stroke-width="1"/><line x1="101.25" y1="261.77" x2="104.25" y2="261.77" stroke="#1a9ec8" stroke-width="1"/><line x1="110.57" y1="251.52" x2="110.57" y2="259.37" stroke="#1a9ec8" stroke-width="1.1" stroke-dasharray="3.8,1.8,1.1,1.6"/><line x1="109.07" y1="251.52" x2="112.07" y2="251.52" stroke="#1a9ec8" stroke-width="1"/><line x1="109.07" y1="259.37" x2="112.07" y2="259.37" stroke="#1a9ec8" stroke-width="1"/><line x1="118.39" y1="246.96" x2="118.39" y2="254.34" stroke="#1a9ec8" stroke-width="1.1" stroke-dasharray="3.8,1.8,1.1,1.6"/><line x1="116.89" y1="246.96" x2="119.89" y2="246.96" stroke="#1a9ec8" stroke-width="1"/><line x1="116.89" y1="254.34" x2="119.89" y2="254.34" stroke="#1a9ec8" stroke-width="1"/><line x1="126.21" y1="250.45" x2="126.21" y2="260.71" stroke="#1a9ec8" stroke-width="1.1" stroke-dasharray="3.8,1.8,1.1,1.6"/><line x1="124.71" y1="250.45" x2="127.71" y2="250.45" stroke="#1a9ec8" stroke-width="1"/><line x1="124.71" y1="260.71" x2="127.71" y2="260.71" stroke="#1a9ec8" stroke-width="1"/><line x1="134.04" y1="243.37" x2="134.04" y2="249.38" stroke="#1a9ec8" stroke-width="1.1" stroke-dasharray="3.8,1.8,1.1,1.6"/><line x1="132.54" y1="243.37" x2="135.54" y2="243.37" stroke="#1a9ec8" stroke-width="1"/><line x1="132.54" y1="249.38" x2="135.54" y2="249.38" stroke="#1a9ec8" stroke-width="1"/><line x1="141.86" y1="250.11" x2="141.86" y2="257.61" stroke="#1a9ec8" stroke-width="1.1" stroke-dasharray="3.8,1.8,1.1,1.6"/><line x1="140.36" y1="250.11" x2="143.36" y2="250.11" stroke="#1a9ec8" stroke-width="1"/><line x1="140.36" y1="257.61" x2="143.36" y2="257.61" stroke="#1a9ec8" stroke-width="1"/><line x1="149.68" y1="240.37" x2="149.68" y2="246.14" stroke="#1a9ec8" stroke-width="1.1" stroke-dasharray="3.8,1.8,1.1,1.6"/><line x1="148.18" y1="240.37" x2="151.18" y2="240.37" stroke="#1a9ec8" stroke-width="1"/><line x1="148.18" y1="246.14" x2="151.18" y2="246.14" stroke="#1a9ec8" stroke-width="1"/><line x1="157.50" y1="242.14" x2="157.50" y2="248.23" stroke="#1a9ec8" stroke-width="1.1" stroke-dasharray="3.8,1.8,1.1,1.6"/><line x1="156.00" y1="242.14" x2="159.00" y2="242.14" stroke="#1a9ec8" stroke-width="1"/><line x1="156.00" y1="248.23" x2="159.00" y2="248.23" stroke="#1a9ec8" stroke-width="1"/><line x1="165.33" y1="241.84" x2="165.33" y2="248.57" stroke="#1a9ec8" stroke-width="1.1" stroke-dasharray="3.8,1.8,1.1,1.6"/><line x1="163.83" y1="241.84" x2="166.83" y2="241.84" stroke="#1a9ec8" stroke-width="1"/><line x1="163.83" y1="248.57" x2="166.83" y2="248.57" stroke="#1a9ec8" stroke-width="1"/><line x1="173.15" y1="242.81" x2="173.15" y2="249.80" stroke="#1a9ec8" stroke-width="1.1" stroke-dasharray="3.8,1.8,1.1,1.6"/><line x1="171.65" y1="242.81" x2="174.65" y2="242.81" stroke="#1a9ec8" stroke-width="1"/><line x1="171.65" y1="249.80" x2="174.65" y2="249.80" stroke="#1a9ec8" stroke-width="1"/><line x1="180.97" y1="239.48" x2="180.97" y2="247.50" stroke="#1a9ec8" stroke-width="1.1" stroke-dasharray="3.8,1.8,1.1,1.6"/><line x1="179.47" y1="239.48" x2="182.47" y2="239.48" stroke="#1a9ec8" stroke-width="1"/><line x1="179.47" y1="247.50" x2="182.47" y2="247.50" stroke="#1a9ec8" stroke-width="1"/><line x1="188.79" y1="235.79" x2="188.79" y2="240.54" stroke="#1a9ec8" stroke-width="1.1" stroke-dasharray="3.8,1.8,1.1,1.6"/><line x1="187.29" y1="235.79" x2="190.29" y2="235.79" stroke="#1a9ec8" stroke-width="1"/><line x1="187.29" y1="240.54" x2="190.29" y2="240.54" stroke="#1a9ec8" stroke-width="1"/><line x1="196.62" y1="230.34" x2="196.62" y2="234.83" stroke="#1a9ec8" stroke-width="1.1" stroke-dasharray="3.8,1.8,1.1,1.6"/><line x1="195.12" y1="230.34" x2="198.12" y2="230.34" stroke="#1a9ec8" stroke-width="1"/><line x1="195.12" y1="234.83" x2="198.12" y2="234.83" stroke="#1a9ec8" stroke-width="1"/><line x1="204.44" y1="228.32" x2="204.44" y2="233.08" stroke="#1a9ec8" stroke-width="1.1" stroke-dasharray="3.8,1.8,1.1,1.6"/><line x1="202.94" y1="228.32" x2="205.94" y2="228.32" stroke="#1a9ec8" stroke-width="1"/><line x1="202.94" y1="233.08" x2="205.94" y2="233.08" stroke="#1a9ec8" stroke-width="1"/><line x1="212.26" y1="227.48" x2="212.26" y2="232.99" stroke="#1a9ec8" stroke-width="1.1" stroke-dasharray="3.8,1.8,1.1,1.6"/><line x1="210.76" y1="227.48" x2="213.76" y2="227.48" stroke="#1a9ec8" stroke-width="1"/><line x1="210.76" y1="232.99" x2="213.76" y2="232.99" stroke="#1a9ec8" stroke-width="1"/><line x1="220.09" y1="224.58" x2="220.09" y2="229.71" stroke="#1a9ec8" stroke-width="1.1" stroke-dasharray="3.8,1.8,1.1,1.6"/><line x1="218.59" y1="224.58" x2="221.59" y2="224.58" stroke="#1a9ec8" stroke-width="1"/><line x1="218.59" y1="229.71" x2="221.59" y2="229.71" stroke="#1a9ec8" stroke-width="1"/><line x1="227.91" y1="224.99" x2="227.91" y2="229.73" stroke="#1a9ec8" stroke-width="1.1" stroke-dasharray="3.8,1.8,1.1,1.6"/><line x1="226.41" y1="224.99" x2="229.41" y2="224.99" stroke="#1a9ec8" stroke-width="1"/><line x1="226.41" y1="229.73" x2="229.41" y2="229.73" stroke="#1a9ec8" stroke-width="1"/><line x1="235.73" y1="219.75" x2="235.73" y2="223.98" stroke="#1a9ec8" stroke-width="1.1" stroke-dasharray="3.8,1.8,1.1,1.6"/><line x1="234.23" y1="219.75" x2="237.23" y2="219.75" stroke="#1a9ec8" stroke-width="1"/><line x1="234.23" y1="223.98" x2="237.23" y2="223.98" stroke="#1a9ec8" stroke-width="1"/><line x1="243.55" y1="214.24" x2="243.55" y2="218.47" stroke="#1a9ec8" stroke-width="1.1" stroke-dasharray="3.8,1.8,1.1,1.6"/><line x1="242.05" y1="214.24" x2="245.05" y2="214.24" stroke="#1a9ec8" stroke-width="1"/><line x1="242.05" y1="218.47" x2="245.05" y2="218.47" stroke="#1a9ec8" stroke-width="1"/><line x1="251.38" y1="211.07" x2="251.38" y2="214.50" stroke="#1a9ec8" stroke-width="1.1" stroke-dasharray="3.8,1.8,1.1,1.6"/><line x1="249.88" y1="211.07" x2="252.88" y2="211.07" stroke="#1a9ec8" stroke-width="1"/><line x1="249.88" y1="214.50" x2="252.88" y2="214.50" stroke="#1a9ec8" stroke-width="1"/><line x1="259.20" y1="209.09" x2="259.20" y2="212.06" stroke="#1a9ec8" stroke-width="1.1" stroke-dasharray="3.8,1.8,1.1,1.6"/><line x1="257.70" y1="209.09" x2="260.70" y2="209.09" stroke="#1a9ec8" stroke-width="1"/><line x1="257.70" y1="212.06" x2="260.70" y2="212.06" stroke="#1a9ec8" stroke-width="1"/><line x1="267.02" y1="205.20" x2="267.02" y2="207.98" stroke="#1a9ec8" stroke-width="1.1" stroke-dasharray="3.8,1.8,1.1,1.6"/><line x1="265.52" y1="205.20" x2="268.52" y2="205.20" stroke="#1a9ec8" stroke-width="1"/><line x1="265.52" y1="207.98" x2="268.52" y2="207.98" stroke="#1a9ec8" stroke-width="1"/><line x1="274.84" y1="199.19" x2="274.84" y2="201.51" stroke="#1a9ec8" stroke-width="1.1" stroke-dasharray="3.8,1.8,1.1,1.6"/><line x1="273.34" y1="199.19" x2="276.34" y2="199.19" stroke="#1a9ec8" stroke-width="1"/><line x1="273.34" y1="201.51" x2="276.34" y2="201.51" stroke="#1a9ec8" stroke-width="1"/><line x1="282.67" y1="194.32" x2="282.67" y2="196.45" stroke="#1a9ec8" stroke-width="1.1" stroke-dasharray="3.8,1.8,1.1,1.6"/><line x1="281.17" y1="194.32" x2="284.17" y2="194.32" stroke="#1a9ec8" stroke-width="1"/><line x1="281.17" y1="196.45" x2="284.17" y2="196.45" stroke="#1a9ec8" stroke-width="1"/><line x1="290.49" y1="188.97" x2="290.49" y2="190.74" stroke="#1a9ec8" stroke-width="1.1" stroke-dasharray="3.8,1.8,1.1,1.6"/><line x1="288.99" y1="188.97" x2="291.99" y2="188.97" stroke="#1a9ec8" stroke-width="1"/><line x1="288.99" y1="190.74" x2="291.99" y2="190.74" stroke="#1a9ec8" stroke-width="1"/><line x1="298.31" y1="183.75" x2="298.31" y2="185.33" stroke="#1a9ec8" stroke-width="1.1" stroke-dasharray="3.8,1.8,1.1,1.6"/><line x1="296.81" y1="183.75" x2="299.81" y2="183.75" stroke="#1a9ec8" stroke-width="1"/><line x1="296.81" y1="185.33" x2="299.81" y2="185.33" stroke="#1a9ec8" stroke-width="1"/><line x1="306.13" y1="177.64" x2="306.13" y2="179.05" stroke="#1a9ec8" stroke-width="1.1" stroke-dasharray="3.8,1.8,1.1,1.6"/><line x1="304.63" y1="177.64" x2="307.63" y2="177.64" stroke="#1a9ec8" stroke-width="1"/><line x1="304.63" y1="179.05" x2="307.63" y2="179.05" stroke="#1a9ec8" stroke-width="1"/><line x1="313.96" y1="172.61" x2="313.96" y2="174.03" stroke="#1a9ec8" stroke-width="1.1" stroke-dasharray="3.8,1.8,1.1,1.6"/><line x1="312.46" y1="172.61" x2="315.46" y2="172.61" stroke="#1a9ec8" stroke-width="1"/><line x1="312.46" y1="174.03" x2="315.46" y2="174.03" stroke="#1a9ec8" stroke-width="1"/><line x1="321.78" y1="164.71" x2="321.78" y2="166.02" stroke="#1a9ec8" stroke-width="1.1" stroke-dasharray="3.8,1.8,1.1,1.6"/><line x1="320.28" y1="164.71" x2="323.28" y2="164.71" stroke="#1a9ec8" stroke-width="1"/><line x1="320.28" y1="166.02" x2="323.28" y2="166.02" stroke="#1a9ec8" stroke-width="1"/><line x1="329.60" y1="156.93" x2="329.60" y2="158.08" stroke="#1a9ec8" stroke-width="1.1" stroke-dasharray="3.8,1.8,1.1,1.6"/><line x1="328.10" y1="156.93" x2="331.10" y2="156.93" stroke="#1a9ec8" stroke-width="1"/><line x1="328.10" y1="158.08" x2="331.10" y2="158.08" stroke="#1a9ec8" stroke-width="1"/><line x1="337.42" y1="147.00" x2="337.42" y2="148.01" stroke="#1a9ec8" stroke-width="1.1" stroke-dasharray="3.8,1.8,1.1,1.6"/><line x1="335.92" y1="147.00" x2="338.92" y2="147.00" stroke="#1a9ec8" stroke-width="1"/><line x1="335.92" y1="148.01" x2="338.92" y2="148.01" stroke="#1a9ec8" stroke-width="1"/><line x1="345.25" y1="135.19" x2="345.25" y2="136.12" stroke="#1a9ec8" stroke-width="1.1" stroke-dasharray="3.8,1.8,1.1,1.6"/><line x1="343.75" y1="135.19" x2="346.75" y2="135.19" stroke="#1a9ec8" stroke-width="1"/><line x1="343.75" y1="136.12" x2="346.75" y2="136.12" stroke="#1a9ec8" stroke-width="1"/><line x1="353.07" y1="124.72" x2="353.07" y2="125.54" stroke="#1a9ec8" stroke-width="1.1" stroke-dasharray="3.8,1.8,1.1,1.6"/><line x1="351.57" y1="124.72" x2="354.57" y2="124.72" stroke="#1a9ec8" stroke-width="1"/><line x1="351.57" y1="125.54" x2="354.57" y2="125.54" stroke="#1a9ec8" stroke-width="1"/><line x1="360.89" y1="109.20" x2="360.89" y2="109.96" stroke="#1a9ec8" stroke-width="1.1" stroke-dasharray="3.8,1.8,1.1,1.6"/><line x1="359.39" y1="109.20" x2="362.39" y2="109.20" stroke="#1a9ec8" stroke-width="1"/><line x1="359.39" y1="109.96" x2="362.39" y2="109.96" stroke="#1a9ec8" stroke-width="1"/></g><path d="M55.81,262.95L58.61,257.45L53.01,257.45Z" fill="#1a9ec8"/><path d="M63.63,267.02L66.43,261.52L60.83,261.52Z" fill="#1a9ec8"/><path d="M71.46,261.91L74.26,256.41L68.66,256.41Z" fill="#1a9ec8"/><path d="M79.28,258.75L82.08,253.25L76.48,253.25Z" fill="#1a9ec8"/><path d="M87.10,263.93L89.90,258.43L84.30,258.43Z" fill="#1a9ec8"/><path d="M94.92,258.83L97.72,253.33L92.12,253.33Z" fill="#1a9ec8"/><path d="M102.75,260.44L105.55,254.94L99.95,254.94Z" fill="#1a9ec8"/><path d="M110.57,258.04L113.37,252.54L107.77,252.54Z" fill="#1a9ec8"/><path d="M118.39,252.62L121.19,247.12L115.59,247.12Z" fill="#1a9ec8"/><path d="M126.21,256.88L129.01,251.38L123.41,251.38Z" fill="#1a9ec8"/><path d="M134.04,249.27L136.84,243.77L131.24,243.77Z" fill="#1a9ec8"/><path d="M141.86,256.31L144.66,250.81L139.06,250.81Z" fill="#1a9ec8"/><path d="M149.68,246.08L152.48,240.58L146.88,240.58Z" fill="#1a9ec8"/><path d="M157.50,247.44L160.30,241.94L154.70,241.94Z" fill="#1a9ec8"/><path d="M165.33,247.82L168.13,242.32L162.53,242.32Z" fill="#1a9ec8"/><path d="M173.15,248.94L175.95,243.44L170.35,243.44Z" fill="#1a9ec8"/><path d="M180.97,246.39L183.77,240.89L178.17,240.89Z" fill="#1a9ec8"/><path d="M188.79,240.94L191.59,235.44L185.99,235.44Z" fill="#1a9ec8"/><path d="M196.62,235.48L199.42,229.98L193.82,229.98Z" fill="#1a9ec8"/><path d="M204.44,232.99L207.24,227.49L201.64,227.49Z" fill="#1a9ec8"/><path d="M212.26,233.13L215.06,227.63L209.46,227.63Z" fill="#1a9ec8"/><path d="M220.09,229.98L222.89,224.48L217.29,224.48Z" fill="#1a9ec8"/><path d="M227.91,230.13L230.71,224.63L225.11,224.63Z" fill="#1a9ec8"/><path d="M235.73,224.89L238.53,219.39L232.93,219.39Z" fill="#1a9ec8"/><path d="M243.55,218.99L246.35,213.49L240.75,213.49Z" fill="#1a9ec8"/><path d="M251.38,215.69L254.18,210.19L248.58,210.19Z" fill="#1a9ec8"/><path d="M259.20,213.03L262.00,207.53L256.40,207.53Z" fill="#1a9ec8"/><path d="M267.02,209.38L269.82,203.88L264.22,203.88Z" fill="#1a9ec8"/><path d="M274.84,202.96L277.64,197.46L272.04,197.46Z" fill="#1a9ec8"/><path d="M282.67,198.07L285.47,192.57L279.87,192.57Z" fill="#1a9ec8"/><path d="M290.49,192.71L293.29,187.21L287.69,187.21Z" fill="#1a9ec8"/><path d="M298.31,187.41L301.11,181.91L295.51,181.91Z" fill="#1a9ec8"/><path d="M306.13,181.25L308.93,175.75L303.33,175.75Z" fill="#1a9ec8"/><path d="M313.96,176.20L316.76,170.70L311.16,170.70Z" fill="#1a9ec8"/><path d="M321.78,168.24L324.58,162.74L318.98,162.74Z" fill="#1a9ec8"/><path d="M329.60,160.41L332.40,154.91L326.80,154.91Z" fill="#1a9ec8"/><path d="M337.42,150.39L340.22,144.89L334.62,144.89Z" fill="#1a9ec8"/><path d="M345.25,138.55L348.05,133.05L342.45,133.05Z" fill="#1a9ec8"/><path d="M353.07,128.03L355.87,122.53L350.27,122.53Z" fill="#1a9ec8"/><path d="M360.89,112.48L363.69,106.98L358.09,106.98Z" fill="#1a9ec8"/><g clip-path="url(#cm)"><polyline points="55.81,256.55 63.63,263.73 71.46,273.72 79.28,274.32 87.10,257.89 94.92,274.49 102.75,264.34 110.57,257.45 118.39,254.53 126.21,253.44 134.04,261.66 141.86,262.61 149.68,243.67 157.50,252.94 165.33,244.60 173.15,243.29 180.97,244.58 188.79,244.55 196.62,234.83 204.44,237.97 212.26,226.39 220.09,224.18 227.91,223.74 235.73,226.10 243.55,219.33 251.38,213.53 259.20,203.62 267.02,199.59 274.84,196.67 282.67,189.78 290.49,183.08 298.31,176.56 306.13,170.84 313.96,162.46 321.78,154.70 329.60,147.20 337.42,137.27 345.25,127.10 353.07,118.66 360.89,105.15" fill="none" stroke="#ff0000" stroke-width="1.2" stroke-dasharray="1.3,0.9"/><line x1="55.81" y1="253.04" x2="55.81" y2="260.05" stroke="#ff0000" stroke-width="1.1" stroke-dasharray="1.3,0.9"/><line x1="63.63" y1="257.87" x2="63.63" y2="270.88" stroke="#ff0000" stroke-width="1.1" stroke-dasharray="1.3,0.9"/><line x1="71.46" y1="268.02" x2="71.46" y2="281.22" stroke="#ff0000" stroke-width="1.1" stroke-dasharray="1.3,0.9"/><line x1="79.28" y1="269.35" x2="79.28" y2="279.93" stroke="#ff0000" stroke-width="1.1" stroke-dasharray="1.3,0.9"/><line x1="87.10" y1="252.89" x2="87.10" y2="264.11" stroke="#ff0000" stroke-width="1.1" stroke-dasharray="1.3,0.9"/><line x1="94.92" y1="270.52" x2="94.92" y2="278.24" stroke="#ff0000" stroke-width="1.1" stroke-dasharray="1.3,0.9"/><line x1="102.75" y1="258.89" x2="102.75" y2="271.13" stroke="#ff0000" stroke-width="1.1" stroke-dasharray="1.3,0.9"/><line x1="110.57" y1="251.52" x2="110.57" y2="263.60" stroke="#ff0000" stroke-width="1.1" stroke-dasharray="1.3,0.9"/><line x1="118.39" y1="248.89" x2="118.39" y2="261.87" stroke="#ff0000" stroke-width="1.1" stroke-dasharray="1.3,0.9"/><line x1="126.21" y1="247.25" x2="126.21" y2="261.16" stroke="#ff0000" stroke-width="1.1" stroke-dasharray="1.3,0.9"/><line x1="134.04" y1="255.69" x2="134.04" y2="269.06" stroke="#ff0000" stroke-width="1.1" stroke-dasharray="1.3,0.9"/><line x1="141.86" y1="257.70" x2="141.86" y2="270.62" stroke="#ff0000" stroke-width="1.1" stroke-dasharray="1.3,0.9"/><line x1="149.68" y1="238.67" x2="149.68" y2="250.44" stroke="#ff0000" stroke-width="1.1" stroke-dasharray="1.3,0.9"/><line x1="157.50" y1="247.43" x2="157.50" y2="259.55" stroke="#ff0000" stroke-width="1.1" stroke-dasharray="1.3,0.9"/><line x1="165.33" y1="239.88" x2="165.33" y2="250.08" stroke="#ff0000" stroke-width="1.1" stroke-dasharray="1.3,0.9"/><line x1="173.15" y1="239.28" x2="173.15" y2="247.30" stroke="#ff0000" stroke-width="1.1" stroke-dasharray="1.3,0.9"/><line x1="180.97" y1="239.48" x2="180.97" y2="250.51" stroke="#ff0000" stroke-width="1.1" stroke-dasharray="1.3,0.9"/><line x1="188.79" y1="240.54" x2="188.79" y2="249.80" stroke="#ff0000" stroke-width="1.1" stroke-dasharray="1.3,0.9"/><line x1="196.62" y1="231.59" x2="196.62" y2="239.09" stroke="#ff0000" stroke-width="1.1" stroke-dasharray="1.3,0.9"/><line x1="204.44" y1="234.09" x2="204.44" y2="243.36" stroke="#ff0000" stroke-width="1.1" stroke-dasharray="1.3,0.9"/><line x1="212.26" y1="222.96" x2="212.26" y2="229.75" stroke="#ff0000" stroke-width="1.1" stroke-dasharray="1.3,0.9"/><line x1="220.09" y1="220.83" x2="220.09" y2="227.34" stroke="#ff0000" stroke-width="1.1" stroke-dasharray="1.3,0.9"/><line x1="227.91" y1="220.47" x2="227.91" y2="226.99" stroke="#ff0000" stroke-width="1.1" stroke-dasharray="1.3,0.9"/><line x1="235.73" y1="222.49" x2="235.73" y2="231.00" stroke="#ff0000" stroke-width="1.1" stroke-dasharray="1.3,0.9"/><line x1="243.55" y1="216.09" x2="243.55" y2="222.60" stroke="#ff0000" stroke-width="1.1" stroke-dasharray="1.3,0.9"/><line x1="251.38" y1="210.96" x2="251.38" y2="217.21" stroke="#ff0000" stroke-width="1.1" stroke-dasharray="1.3,0.9"/><line x1="259.20" y1="201.86" x2="259.20" y2="206.38" stroke="#ff0000" stroke-width="1.1" stroke-dasharray="1.3,0.9"/><line x1="267.02" y1="197.73" x2="267.02" y2="201.98" stroke="#ff0000" stroke-width="1.1" stroke-dasharray="1.3,0.9"/><line x1="274.84" y1="194.87" x2="274.84" y2="198.40" stroke="#ff0000" stroke-width="1.1" stroke-dasharray="1.3,0.9"/><line x1="282.67" y1="187.99" x2="282.67" y2="191.51" stroke="#ff0000" stroke-width="1.1" stroke-dasharray="1.3,0.9"/><line x1="290.49" y1="181.57" x2="290.49" y2="184.68" stroke="#ff0000" stroke-width="1.1" stroke-dasharray="1.3,0.9"/><line x1="298.31" y1="175.09" x2="298.31" y2="178.01" stroke="#ff0000" stroke-width="1.1" stroke-dasharray="1.3,0.9"/><line x1="306.13" y1="169.40" x2="306.13" y2="172.13" stroke="#ff0000" stroke-width="1.1" stroke-dasharray="1.3,0.9"/><line x1="313.96" y1="161.15" x2="313.96" y2="163.66" stroke="#ff0000" stroke-width="1.1" stroke-dasharray="1.3,0.9"/><line x1="321.78" y1="153.51" x2="321.78" y2="155.75" stroke="#ff0000" stroke-width="1.1" stroke-dasharray="1.3,0.9"/><line x1="329.60" y1="146.16" x2="329.60" y2="148.24" stroke="#ff0000" stroke-width="1.1" stroke-dasharray="1.3,0.9"/><line x1="337.42" y1="136.27" x2="337.42" y2="138.26" stroke="#ff0000" stroke-width="1.1" stroke-dasharray="1.3,0.9"/><line x1="345.25" y1="126.20" x2="345.25" y2="127.99" stroke="#ff0000" stroke-width="1.1" stroke-dasharray="1.3,0.9"/><line x1="353.07" y1="117.79" x2="353.07" y2="119.52" stroke="#ff0000" stroke-width="1.1" stroke-dasharray="1.3,0.9"/><line x1="360.89" y1="104.39" x2="360.89" y2="105.92" stroke="#ff0000" stroke-width="1.1" stroke-dasharray="1.3,0.9"/></g><path d="M55.81,253.15L58.01,256.55L55.81,259.95L53.61,256.55Z" fill="#ff0000"/><path d="M63.63,260.33L65.83,263.73L63.63,267.13L61.43,263.73Z" fill="#ff0000"/><path d="M71.46,270.32L73.66,273.72L71.46,277.12L69.26,273.72Z" fill="#ff0000"/><path d="M79.28,270.92L81.48,274.32L79.28,277.72L77.08,274.32Z" fill="#ff0000"/><path d="M87.10,254.49L89.30,257.89L87.10,261.29L84.90,257.89Z" fill="#ff0000"/><path d="M94.92,271.09L97.12,274.49L94.92,277.89L92.72,274.49Z" fill="#ff0000"/><path d="M102.75,260.94L104.95,264.34L102.75,267.74L100.55,264.34Z" fill="#ff0000"/><path d="M110.57,254.05L112.77,257.45L110.57,260.85L108.37,257.45Z" fill="#ff0000"/><path d="M118.39,251.13L120.59,254.53L118.39,257.93L116.19,254.53Z" fill="#ff0000"/><path d="M126.21,250.04L128.41,253.44L126.21,256.84L124.01,253.44Z" fill="#ff0000"/><path d="M134.04,258.26L136.24,261.66L134.04,265.06L131.84,261.66Z" fill="#ff0000"/><path d="M141.86,259.21L144.06,262.61L141.86,266.01L139.66,262.61Z" fill="#ff0000"/><path d="M149.68,240.27L151.88,243.67L149.68,247.07L147.48,243.67Z" fill="#ff0000"/><path d="M157.50,249.54L159.70,252.94L157.50,256.34L155.30,252.94Z" fill="#ff0000"/><path d="M165.33,241.20L167.53,244.60L165.33,248.00L163.13,244.60Z" fill="#ff0000"/><path d="M173.15,239.89L175.35,243.29L173.15,246.69L170.95,243.29Z" fill="#ff0000"/><path d="M180.97,241.18L183.17,244.58L180.97,247.98L178.77,244.58Z" fill="#ff0000"/><path d="M188.79,241.15L190.99,244.55L188.79,247.95L186.59,244.55Z" fill="#ff0000"/><path d="M196.62,231.43L198.82,234.83L196.62,238.23L194.42,234.83Z" fill="#ff0000"/><path d="M204.44,234.57L206.64,237.97L204.44,241.37L202.24,237.97Z" fill="#ff0000"/><path d="M212.26,222.99L214.46,226.39L212.26,229.79L210.06,226.39Z" fill="#ff0000"/><path d="M220.09,220.78L222.29,224.18L220.09,227.58L217.89,224.18Z" fill="#ff0000"/><path d="M227.91,220.34L230.11,223.74L227.91,227.14L225.71,223.74Z" fill="#ff0000"/><path d="M235.73,222.70L237.93,226.10L235.73,229.50L233.53,226.10Z" fill="#ff0000"/><path d="M243.55,215.93L245.75,219.33L243.55,222.73L241.35,219.33Z" fill="#ff0000"/><path d="M251.38,210.13L253.58,213.53L251.38,216.93L249.18,213.53Z" fill="#ff0000"/><path d="M259.20,200.22L261.40,203.62L259.20,207.02L257.00,203.62Z" fill="#ff0000"/><path d="M267.02,196.19L269.22,199.59L267.02,202.99L264.82,199.59Z" fill="#ff0000"/><path d="M274.84,193.27L277.04,196.67L274.84,200.07L272.64,196.67Z" fill="#ff0000"/><path d="M282.67,186.38L284.87,189.78L282.67,193.18L280.47,189.78Z" fill="#ff0000"/><path d="M290.49,179.68L292.69,183.08L290.49,186.48L288.29,183.08Z" fill="#ff0000"/><path d="M298.31,173.16L300.51,176.56L298.31,179.96L296.11,176.56Z" fill="#ff0000"/><path d="M306.13,167.44L308.33,170.84L306.13,174.24L303.93,170.84Z" fill="#ff0000"/><path d="M313.96,159.06L316.16,162.46L313.96,165.86L311.76,162.46Z" fill="#ff0000"/><path d="M321.78,151.30L323.98,154.70L321.78,158.10L319.58,154.70Z" fill="#ff0000"/><path d="M329.60,143.80L331.80,147.20L329.60,150.60L327.40,147.20Z" fill="#ff0000"/><path d="M337.42,133.87L339.62,137.27L337.42,140.67L335.22,137.27Z" fill="#ff0000"/><path d="M345.25,123.70L347.45,127.10L345.25,130.50L343.05,127.10Z" fill="#ff0000"/><path d="M353.07,115.26L355.27,118.66L353.07,122.06L350.87,118.66Z" fill="#ff0000"/><path d="M360.89,101.75L363.09,105.15L360.89,108.55L358.69,105.15Z" fill="#ff0000"/></g><g id="ratio"><g clip-path="url(#cr)"><polyline points="55.81,410.20 63.63,402.50 71.46,404.70 79.28,406.50 87.10,385.00 94.92,393.40 102.75,392.60 110.57,406.40 118.39,423.70 126.21,419.30 134.04,399.10 141.86,404.10 149.68,400.60 157.50,404.10 165.33,409.30 173.15,409.50 180.97,391.80 188.79,401.40 196.62,414.20 204.44,394.20 212.26,403.40 220.09,407.50 227.91,401.20 235.73,405.00 243.55,408.60 251.38,409.50 259.20,404.30 267.02,398.20 274.84,398.80 282.67,400.70 290.49,404.80 298.31,404.20 306.13,403.00 313.96,401.10 321.78,404.50 329.60,406.70 337.42,407.25 345.25,411.10 353.07,410.40 360.89,418.20" fill="none" stroke="#46a232" stroke-width="1.2" stroke-dasharray="2.2,2.1"/><line x1="55.81" y1="401.20" x2="55.81" y2="419.20" stroke="#46a232" stroke-width="1.1" stroke-dasharray="2.2,2.1"/><line x1="54.31" y1="401.20" x2="57.31" y2="401.20" stroke="#46a232" stroke-width="1"/><line x1="54.31" y1="419.20" x2="57.31" y2="419.20" stroke="#46a232" stroke-width="1"/><line x1="63.63" y1="394.02" x2="63.63" y2="410.98" stroke="#46a232" stroke-width="1.1" stroke-dasharray="2.2,2.1"/><line x1="62.13" y1="394.02" x2="65.13" y2="394.02" stroke="#46a232" stroke-width="1"/><line x1="62.13" y1="410.98" x2="65.13" y2="410.98" stroke="#46a232" stroke-width="1"/><line x1="71.46" y1="396.79" x2="71.46" y2="412.61" stroke="#46a232" stroke-width="1.1" stroke-dasharray="2.2,2.1"/><line x1="69.96" y1="396.79" x2="72.96" y2="396.79" stroke="#46a232" stroke-width="1"/><line x1="69.96" y1="412.61" x2="72.96" y2="412.61" stroke="#46a232" stroke-width="1"/><line x1="79.28" y1="398.89" x2="79.28" y2="414.11" stroke="#46a232" stroke-width="1.1" stroke-dasharray="2.2,2.1"/><line x1="77.78" y1="398.89" x2="80.78" y2="398.89" stroke="#46a232" stroke-width="1"/><line x1="77.78" y1="414.11" x2="80.78" y2="414.11" stroke="#46a232" stroke-width="1"/><line x1="87.10" y1="377.99" x2="87.10" y2="392.01" stroke="#46a232" stroke-width="1.1" stroke-dasharray="2.2,2.1"/><line x1="85.60" y1="377.99" x2="88.60" y2="377.99" stroke="#46a232" stroke-width="1"/><line x1="85.60" y1="392.01" x2="88.60" y2="392.01" stroke="#46a232" stroke-width="1"/><line x1="94.92" y1="386.48" x2="94.92" y2="400.32" stroke="#46a232" stroke-width="1.1" stroke-dasharray="2.2,2.1"/><line x1="93.42" y1="386.48" x2="96.42" y2="386.48" stroke="#46a232" stroke-width="1"/><line x1="93.42" y1="400.32" x2="96.42" y2="400.32" stroke="#46a232" stroke-width="1"/><line x1="102.75" y1="386.15" x2="102.75" y2="399.05" stroke="#46a232" stroke-width="1.1" stroke-dasharray="2.2,2.1"/><line x1="101.25" y1="386.15" x2="104.25" y2="386.15" stroke="#46a232" stroke-width="1"/><line x1="101.25" y1="399.05" x2="104.25" y2="399.05" stroke="#46a232" stroke-width="1"/><line x1="110.57" y1="399.69" x2="110.57" y2="413.11" stroke="#46a232" stroke-width="1.1" stroke-dasharray="2.2,2.1"/><line x1="109.07" y1="399.69" x2="112.07" y2="399.69" stroke="#46a232" stroke-width="1"/><line x1="109.07" y1="413.11" x2="112.07" y2="413.11" stroke="#46a232" stroke-width="1"/><line x1="118.39" y1="417.66" x2="118.39" y2="429.74" stroke="#46a232" stroke-width="1.1" stroke-dasharray="2.2,2.1"/><line x1="116.89" y1="417.66" x2="119.89" y2="417.66" stroke="#46a232" stroke-width="1"/><line x1="116.89" y1="429.74" x2="119.89" y2="429.74" stroke="#46a232" stroke-width="1"/><line x1="126.21" y1="413.30" x2="126.21" y2="425.30" stroke="#46a232" stroke-width="1.1" stroke-dasharray="2.2,2.1"/><line x1="124.71" y1="413.30" x2="127.71" y2="413.30" stroke="#46a232" stroke-width="1"/><line x1="124.71" y1="425.30" x2="127.71" y2="425.30" stroke="#46a232" stroke-width="1"/><line x1="134.04" y1="393.53" x2="134.04" y2="404.67" stroke="#46a232" stroke-width="1.1" stroke-dasharray="2.2,2.1"/><line x1="132.54" y1="393.53" x2="135.54" y2="393.53" stroke="#46a232" stroke-width="1"/><line x1="132.54" y1="404.67" x2="135.54" y2="404.67" stroke="#46a232" stroke-width="1"/><line x1="141.86" y1="398.25" x2="141.86" y2="409.95" stroke="#46a232" stroke-width="1.1" stroke-dasharray="2.2,2.1"/><line x1="140.36" y1="398.25" x2="143.36" y2="398.25" stroke="#46a232" stroke-width="1"/><line x1="140.36" y1="409.95" x2="143.36" y2="409.95" stroke="#46a232" stroke-width="1"/><line x1="149.68" y1="394.75" x2="149.68" y2="406.45" stroke="#46a232" stroke-width="1.1" stroke-dasharray="2.2,2.1"/><line x1="148.18" y1="394.75" x2="151.18" y2="394.75" stroke="#46a232" stroke-width="1"/><line x1="148.18" y1="406.45" x2="151.18" y2="406.45" stroke="#46a232" stroke-width="1"/><line x1="157.50" y1="398.81" x2="157.50" y2="409.39" stroke="#46a232" stroke-width="1.1" stroke-dasharray="2.2,2.1"/><line x1="156.00" y1="398.81" x2="159.00" y2="398.81" stroke="#46a232" stroke-width="1"/><line x1="156.00" y1="409.39" x2="159.00" y2="409.39" stroke="#46a232" stroke-width="1"/><line x1="165.33" y1="404.01" x2="165.33" y2="414.59" stroke="#46a232" stroke-width="1.1" stroke-dasharray="2.2,2.1"/><line x1="163.83" y1="404.01" x2="166.83" y2="404.01" stroke="#46a232" stroke-width="1"/><line x1="163.83" y1="414.59" x2="166.83" y2="414.59" stroke="#46a232" stroke-width="1"/><line x1="173.15" y1="404.51" x2="173.15" y2="414.49" stroke="#46a232" stroke-width="1.1" stroke-dasharray="2.2,2.1"/><line x1="171.65" y1="404.51" x2="174.65" y2="404.51" stroke="#46a232" stroke-width="1"/><line x1="171.65" y1="414.49" x2="174.65" y2="414.49" stroke="#46a232" stroke-width="1"/><line x1="180.97" y1="387.11" x2="180.97" y2="396.49" stroke="#46a232" stroke-width="1.1" stroke-dasharray="2.2,2.1"/><line x1="179.47" y1="387.11" x2="182.47" y2="387.11" stroke="#46a232" stroke-width="1"/><line x1="179.47" y1="396.49" x2="182.47" y2="396.49" stroke="#46a232" stroke-width="1"/><line x1="188.79" y1="396.41" x2="188.79" y2="406.39" stroke="#46a232" stroke-width="1.1" stroke-dasharray="2.2,2.1"/><line x1="187.29" y1="396.41" x2="190.29" y2="396.41" stroke="#46a232" stroke-width="1"/><line x1="187.29" y1="406.39" x2="190.29" y2="406.39" stroke="#46a232" stroke-width="1"/><line x1="196.62" y1="409.51" x2="196.62" y2="418.89" stroke="#46a232" stroke-width="1.1" stroke-dasharray="2.2,2.1"/><line x1="195.12" y1="409.51" x2="198.12" y2="409.51" stroke="#46a232" stroke-width="1"/><line x1="195.12" y1="418.89" x2="198.12" y2="418.89" stroke="#46a232" stroke-width="1"/><line x1="204.44" y1="389.40" x2="204.44" y2="399.00" stroke="#46a232" stroke-width="1.1" stroke-dasharray="2.2,2.1"/><line x1="202.94" y1="389.40" x2="205.94" y2="389.40" stroke="#46a232" stroke-width="1"/><line x1="202.94" y1="399.00" x2="205.94" y2="399.00" stroke="#46a232" stroke-width="1"/><line x1="212.26" y1="400.12" x2="212.26" y2="406.68" stroke="#46a232" stroke-width="1.1" stroke-dasharray="2.2,2.1"/><line x1="210.76" y1="400.12" x2="213.76" y2="400.12" stroke="#46a232" stroke-width="1"/><line x1="210.76" y1="406.68" x2="213.76" y2="406.68" stroke="#46a232" stroke-width="1"/><line x1="220.09" y1="404.44" x2="220.09" y2="410.56" stroke="#46a232" stroke-width="1.1" stroke-dasharray="2.2,2.1"/><line x1="218.59" y1="404.44" x2="221.59" y2="404.44" stroke="#46a232" stroke-width="1"/><line x1="218.59" y1="410.56" x2="221.59" y2="410.56" stroke="#46a232" stroke-width="1"/><line x1="227.91" y1="398.05" x2="227.91" y2="404.35" stroke="#46a232" stroke-width="1.1" stroke-dasharray="2.2,2.1"/><line x1="226.41" y1="398.05" x2="229.41" y2="398.05" stroke="#46a232" stroke-width="1"/><line x1="226.41" y1="404.35" x2="229.41" y2="404.35" stroke="#46a232" stroke-width="1"/><line x1="235.73" y1="401.94" x2="235.73" y2="408.06" stroke="#46a232" stroke-width="1.1" stroke-dasharray="2.2,2.1"/><line x1="234.23" y1="401.94" x2="237.23" y2="401.94" stroke="#46a232" stroke-width="1"/><line x1="234.23" y1="408.06" x2="237.23" y2="408.06" stroke="#46a232" stroke-width="1"/><line x1="243.55" y1="405.54" x2="243.55" y2="411.66" stroke="#46a232" stroke-width="1.1" stroke-dasharray="2.2,2.1"/><line x1="242.05" y1="405.54" x2="245.05" y2="405.54" stroke="#46a232" stroke-width="1"/><line x1="242.05" y1="411.66" x2="245.05" y2="411.66" stroke="#46a232" stroke-width="1"/><line x1="251.38" y1="406.68" x2="251.38" y2="412.32" stroke="#46a232" stroke-width="1.1" stroke-dasharray="2.2,2.1"/><line x1="249.88" y1="406.68" x2="252.88" y2="406.68" stroke="#46a232" stroke-width="1"/><line x1="249.88" y1="412.32" x2="252.88" y2="412.32" stroke="#46a232" stroke-width="1"/><line x1="259.20" y1="401.72" x2="259.20" y2="406.88" stroke="#46a232" stroke-width="1.1" stroke-dasharray="2.2,2.1"/><line x1="257.70" y1="401.72" x2="260.70" y2="401.72" stroke="#46a232" stroke-width="1"/><line x1="257.70" y1="406.88" x2="260.70" y2="406.88" stroke="#46a232" stroke-width="1"/><line x1="267.02" y1="395.62" x2="267.02" y2="400.78" stroke="#46a232" stroke-width="1.1" stroke-dasharray="2.2,2.1"/><line x1="265.52" y1="395.62" x2="268.52" y2="395.62" stroke="#46a232" stroke-width="1"/><line x1="265.52" y1="400.78" x2="268.52" y2="400.78" stroke="#46a232" stroke-width="1"/><line x1="274.84" y1="396.07" x2="274.84" y2="401.53" stroke="#46a232" stroke-width="1.1" stroke-dasharray="2.2,2.1"/><line x1="273.34" y1="396.07" x2="276.34" y2="396.07" stroke="#46a232" stroke-width="1"/><line x1="273.34" y1="401.53" x2="276.34" y2="401.53" stroke="#46a232" stroke-width="1"/><line x1="282.67" y1="398.25" x2="282.67" y2="403.14" stroke="#46a232" stroke-width="1.1" stroke-dasharray="2.2,2.1"/><line x1="281.17" y1="398.25" x2="284.17" y2="398.25" stroke="#46a232" stroke-width="1"/><line x1="281.17" y1="403.14" x2="284.17" y2="403.14" stroke="#46a232" stroke-width="1"/><line x1="290.49" y1="402.40" x2="290.49" y2="407.20" stroke="#46a232" stroke-width="1.1" stroke-dasharray="2.2,2.1"/><line x1="288.99" y1="402.40" x2="291.99" y2="402.40" stroke="#46a232" stroke-width="1"/><line x1="288.99" y1="407.20" x2="291.99" y2="407.20" stroke="#46a232" stroke-width="1"/><line x1="298.31" y1="402.10" x2="298.31" y2="406.30" stroke="#46a232" stroke-width="1.1" stroke-dasharray="2.2,2.1"/><line x1="296.81" y1="402.10" x2="299.81" y2="402.10" stroke="#46a232" stroke-width="1"/><line x1="296.81" y1="406.30" x2="299.81" y2="406.30" stroke="#46a232" stroke-width="1"/><line x1="306.13" y1="400.90" x2="306.13" y2="405.10" stroke="#46a232" stroke-width="1.1" stroke-dasharray="2.2,2.1"/><line x1="304.63" y1="400.90" x2="307.63" y2="400.90" stroke="#46a232" stroke-width="1"/><line x1="304.63" y1="405.10" x2="307.63" y2="405.10" stroke="#46a232" stroke-width="1"/><line x1="313.96" y1="399.15" x2="313.96" y2="403.05" stroke="#46a232" stroke-width="1.1" stroke-dasharray="2.2,2.1"/><line x1="312.46" y1="399.15" x2="315.46" y2="399.15" stroke="#46a232" stroke-width="1"/><line x1="312.46" y1="403.05" x2="315.46" y2="403.05" stroke="#46a232" stroke-width="1"/><line x1="321.78" y1="402.79" x2="321.78" y2="406.21" stroke="#46a232" stroke-width="1.1" stroke-dasharray="2.2,2.1"/><line x1="320.28" y1="402.79" x2="323.28" y2="402.79" stroke="#46a232" stroke-width="1"/><line x1="320.28" y1="406.21" x2="323.28" y2="406.21" stroke="#46a232" stroke-width="1"/><line x1="329.60" y1="405.08" x2="329.60" y2="408.32" stroke="#46a232" stroke-width="1.1" stroke-dasharray="2.2,2.1"/><line x1="328.10" y1="405.08" x2="331.10" y2="405.08" stroke="#46a232" stroke-width="1"/><line x1="328.10" y1="408.32" x2="331.10" y2="408.32" stroke="#46a232" stroke-width="1"/><line x1="337.42" y1="405.81" x2="337.42" y2="408.69" stroke="#46a232" stroke-width="1.1" stroke-dasharray="2.2,2.1"/><line x1="335.92" y1="405.81" x2="338.92" y2="405.81" stroke="#46a232" stroke-width="1"/><line x1="335.92" y1="408.69" x2="338.92" y2="408.69" stroke="#46a232" stroke-width="1"/><line x1="345.25" y1="409.84" x2="345.25" y2="412.36" stroke="#46a232" stroke-width="1.1" stroke-dasharray="2.2,2.1"/><line x1="343.75" y1="409.84" x2="346.75" y2="409.84" stroke="#46a232" stroke-width="1"/><line x1="343.75" y1="412.36" x2="346.75" y2="412.36" stroke="#46a232" stroke-width="1"/><line x1="353.07" y1="409.26" x2="353.07" y2="411.54" stroke="#46a232" stroke-width="1.1" stroke-dasharray="2.2,2.1"/><line x1="351.57" y1="409.26" x2="354.57" y2="409.26" stroke="#46a232" stroke-width="1"/><line x1="351.57" y1="411.54" x2="354.57" y2="411.54" stroke="#46a232" stroke-width="1"/><line x1="360.89" y1="417.15" x2="360.89" y2="419.25" stroke="#46a232" stroke-width="1.1" stroke-dasharray="2.2,2.1"/><line x1="359.39" y1="417.15" x2="362.39" y2="417.15" stroke="#46a232" stroke-width="1"/><line x1="359.39" y1="419.25" x2="362.39" y2="419.25" stroke="#46a232" stroke-width="1"/></g><rect x="53.26" y="407.65" width="5.1" height="5.1" fill="none" stroke="#46a232" stroke-width="1.1"/><rect x="61.08" y="399.95" width="5.1" height="5.1" fill="none" stroke="#46a232" stroke-width="1.1"/><rect x="68.91" y="402.15" width="5.1" height="5.1" fill="none" stroke="#46a232" stroke-width="1.1"/><rect x="76.73" y="403.95" width="5.1" height="5.1" fill="none" stroke="#46a232" stroke-width="1.1"/><rect x="84.55" y="382.45" width="5.1" height="5.1" fill="none" stroke="#46a232" stroke-width="1.1"/><rect x="92.37" y="390.85" width="5.1" height="5.1" fill="none" stroke="#46a232" stroke-width="1.1"/><rect x="100.20" y="390.05" width="5.1" height="5.1" fill="none" stroke="#46a232" stroke-width="1.1"/><rect x="108.02" y="403.85" width="5.1" height="5.1" fill="none" stroke="#46a232" stroke-width="1.1"/><rect x="115.84" y="421.15" width="5.1" height="5.1" fill="none" stroke="#46a232" stroke-width="1.1"/><rect x="123.66" y="416.75" width="5.1" height="5.1" fill="none" stroke="#46a232" stroke-width="1.1"/><rect x="131.49" y="396.55" width="5.1" height="5.1" fill="none" stroke="#46a232" stroke-width="1.1"/><rect x="139.31" y="401.55" width="5.1" height="5.1" fill="none" stroke="#46a232" stroke-width="1.1"/><rect x="147.13" y="398.05" width="5.1" height="5.1" fill="none" stroke="#46a232" stroke-width="1.1"/><rect x="154.95" y="401.55" width="5.1" height="5.1" fill="none" stroke="#46a232" stroke-width="1.1"/><rect x="162.78" y="406.75" width="5.1" height="5.1" fill="none" stroke="#46a232" stroke-width="1.1"/><rect x="170.60" y="406.95" width="5.1" height="5.1" fill="none" stroke="#46a232" stroke-width="1.1"/><rect x="178.42" y="389.25" width="5.1" height="5.1" fill="none" stroke="#46a232" stroke-width="1.1"/><rect x="186.24" y="398.85" width="5.1" height="5.1" fill="none" stroke="#46a232" stroke-width="1.1"/><rect x="194.07" y="411.65" width="5.1" height="5.1" fill="none" stroke="#46a232" stroke-width="1.1"/><rect x="201.89" y="391.65" width="5.1" height="5.1" fill="none" stroke="#46a232" stroke-width="1.1"/><rect x="209.71" y="400.85" width="5.1" height="5.1" fill="none" stroke="#46a232" stroke-width="1.1"/><rect x="217.54" y="404.95" width="5.1" height="5.1" fill="none" stroke="#46a232" stroke-width="1.1"/><rect x="225.36" y="398.65" width="5.1" height="5.1" fill="none" stroke="#46a232" stroke-width="1.1"/><rect x="233.18" y="402.45" width="5.1" height="5.1" fill="none" stroke="#46a232" stroke-width="1.1"/><rect x="241.00" y="406.05" width="5.1" height="5.1" fill="none" stroke="#46a232" stroke-width="1.1"/><rect x="248.83" y="406.95" width="5.1" height="5.1" fill="none" stroke="#46a232" stroke-width="1.1"/><rect x="256.65" y="401.75" width="5.1" height="5.1" fill="none" stroke="#46a232" stroke-width="1.1"/><rect x="264.47" y="395.65" width="5.1" height="5.1" fill="none" stroke="#46a232" stroke-width="1.1"/><rect x="272.29" y="396.25" width="5.1" height="5.1" fill="none" stroke="#46a232" stroke-width="1.1"/><rect x="280.12" y="398.15" width="5.1" height="5.1" fill="none" stroke="#46a232" stroke-width="1.1"/><rect x="287.94" y="402.25" width="5.1" height="5.1" fill="none" stroke="#46a232" stroke-width="1.1"/><rect x="295.76" y="401.65" width="5.1" height="5.1" fill="none" stroke="#46a232" stroke-width="1.1"/><rect x="303.58" y="400.45" width="5.1" height="5.1" fill="none" stroke="#46a232" stroke-width="1.1"/><rect x="311.41" y="398.55" width="5.1" height="5.1" fill="none" stroke="#46a232" stroke-width="1.1"/><rect x="319.23" y="401.95" width="5.1" height="5.1" fill="none" stroke="#46a232" stroke-width="1.1"/><rect x="327.05" y="404.15" width="5.1" height="5.1" fill="none" stroke="#46a232" stroke-width="1.1"/><rect x="334.87" y="404.70" width="5.1" height="5.1" fill="none" stroke="#46a232" stroke-width="1.1"/><rect x="342.70" y="408.55" width="5.1" height="5.1" fill="none" stroke="#46a232" stroke-width="1.1"/><rect x="350.52" y="407.85" width="5.1" height="5.1" fill="none" stroke="#46a232" stroke-width="1.1"/><rect x="358.34" y="415.65" width="5.1" height="5.1" fill="none" stroke="#46a232" stroke-width="1.1"/><g clip-path="url(#cr)"><polyline points="55.81,416.70 63.63,404.80 71.46,384.50 79.28,379.80 87.10,354.10 94.92,376.10 102.75,351.70 110.57,378.25 118.39,369.80 126.21,393.90 134.04,343.60 141.86,358.40 149.68,366.70 157.50,364.70 165.33,352.80 173.15,353.40 180.97,349.50 188.79,362.00 196.62,363.10 204.44,356.60 212.26,366.70 220.09,351.10 227.91,364.40 235.73,379.70 243.55,374.80 251.38,365.80 259.20,366.60 267.02,364.20 274.84,365.30 282.67,372.00 290.49,365.20 298.31,375.60 306.13,379.50 313.96,378.30 321.78,380.40 329.60,386.70 337.42,391.90 345.25,400.10 353.07,401.20 360.89,415.20" fill="none" stroke="#0000f0" stroke-width="1.2"/><line x1="55.81" y1="405.00" x2="55.81" y2="429.00" stroke="#0000f0" stroke-width="1.1"/><line x1="54.31" y1="405.00" x2="57.31" y2="405.00" stroke="#0000f0" stroke-width="1"/><line x1="54.31" y1="429.00" x2="57.31" y2="429.00" stroke="#0000f0" stroke-width="1"/><line x1="63.63" y1="394.70" x2="63.63" y2="417.30" stroke="#0000f0" stroke-width="1.1"/><line x1="62.13" y1="394.70" x2="65.13" y2="394.70" stroke="#0000f0" stroke-width="1"/><line x1="62.13" y1="417.30" x2="65.13" y2="417.30" stroke="#0000f0" stroke-width="1"/><line x1="71.46" y1="374.40" x2="71.46" y2="395.50" stroke="#0000f0" stroke-width="1.1"/><line x1="69.96" y1="374.40" x2="72.96" y2="374.40" stroke="#0000f0" stroke-width="1"/><line x1="69.96" y1="395.50" x2="72.96" y2="395.50" stroke="#0000f0" stroke-width="1"/><line x1="79.28" y1="369.40" x2="79.28" y2="389.70" stroke="#0000f0" stroke-width="1.1"/><line x1="77.78" y1="369.40" x2="80.78" y2="369.40" stroke="#0000f0" stroke-width="1"/><line x1="77.78" y1="389.70" x2="80.78" y2="389.70" stroke="#0000f0" stroke-width="1"/><line x1="87.10" y1="344.40" x2="87.10" y2="363.10" stroke="#0000f0" stroke-width="1.1"/><line x1="85.60" y1="344.40" x2="88.60" y2="344.40" stroke="#0000f0" stroke-width="1"/><line x1="85.60" y1="363.10" x2="88.60" y2="363.10" stroke="#0000f0" stroke-width="1"/><line x1="94.92" y1="367.30" x2="94.92" y2="385.75" stroke="#0000f0" stroke-width="1.1"/><line x1="93.42" y1="367.30" x2="96.42" y2="367.30" stroke="#0000f0" stroke-width="1"/><line x1="93.42" y1="385.75" x2="96.42" y2="385.75" stroke="#0000f0" stroke-width="1"/><line x1="102.75" y1="342.30" x2="102.75" y2="359.50" stroke="#0000f0" stroke-width="1.1"/><line x1="101.25" y1="342.30" x2="104.25" y2="342.30" stroke="#0000f0" stroke-width="1"/><line x1="101.25" y1="359.50" x2="104.25" y2="359.50" stroke="#0000f0" stroke-width="1"/><line x1="110.57" y1="368.60" x2="110.57" y2="386.50" stroke="#0000f0" stroke-width="1.1"/><line x1="109.07" y1="368.60" x2="112.07" y2="368.60" stroke="#0000f0" stroke-width="1"/><line x1="109.07" y1="386.50" x2="112.07" y2="386.50" stroke="#0000f0" stroke-width="1"/><line x1="118.39" y1="361.10" x2="118.39" y2="377.20" stroke="#0000f0" stroke-width="1.1"/><line x1="116.89" y1="361.10" x2="119.89" y2="361.10" stroke="#0000f0" stroke-width="1"/><line x1="116.89" y1="377.20" x2="119.89" y2="377.20" stroke="#0000f0" stroke-width="1"/><line x1="126.21" y1="386.00" x2="126.21" y2="402.00" stroke="#0000f0" stroke-width="1.1"/><line x1="124.71" y1="386.00" x2="127.71" y2="386.00" stroke="#0000f0" stroke-width="1"/><line x1="124.71" y1="402.00" x2="127.71" y2="402.00" stroke="#0000f0" stroke-width="1"/><line x1="134.04" y1="335.75" x2="134.04" y2="350.60" stroke="#0000f0" stroke-width="1.1"/><line x1="132.54" y1="335.75" x2="135.54" y2="335.75" stroke="#0000f0" stroke-width="1"/><line x1="132.54" y1="350.60" x2="135.54" y2="350.60" stroke="#0000f0" stroke-width="1"/><line x1="141.86" y1="350.60" x2="141.86" y2="366.20" stroke="#0000f0" stroke-width="1.1"/><line x1="140.36" y1="350.60" x2="143.36" y2="350.60" stroke="#0000f0" stroke-width="1"/><line x1="140.36" y1="366.20" x2="143.36" y2="366.20" stroke="#0000f0" stroke-width="1"/><line x1="149.68" y1="358.40" x2="149.68" y2="374.00" stroke="#0000f0" stroke-width="1.1"/><line x1="148.18" y1="358.40" x2="151.18" y2="358.40" stroke="#0000f0" stroke-width="1"/><line x1="148.18" y1="374.00" x2="151.18" y2="374.00" stroke="#0000f0" stroke-width="1"/><line x1="157.50" y1="356.80" x2="157.50" y2="370.90" stroke="#0000f0" stroke-width="1.1"/><line x1="156.00" y1="356.80" x2="159.00" y2="356.80" stroke="#0000f0" stroke-width="1"/><line x1="156.00" y1="370.90" x2="159.00" y2="370.90" stroke="#0000f0" stroke-width="1"/><line x1="165.33" y1="345.10" x2="165.33" y2="359.20" stroke="#0000f0" stroke-width="1.1"/><line x1="163.83" y1="345.10" x2="166.83" y2="345.10" stroke="#0000f0" stroke-width="1"/><line x1="163.83" y1="359.20" x2="166.83" y2="359.20" stroke="#0000f0" stroke-width="1"/><line x1="173.15" y1="347.20" x2="173.15" y2="360.50" stroke="#0000f0" stroke-width="1.1"/><line x1="171.65" y1="347.20" x2="174.65" y2="347.20" stroke="#0000f0" stroke-width="1"/><line x1="171.65" y1="360.50" x2="174.65" y2="360.50" stroke="#0000f0" stroke-width="1"/><line x1="180.97" y1="343.30" x2="180.97" y2="355.80" stroke="#0000f0" stroke-width="1.1"/><line x1="179.47" y1="343.30" x2="182.47" y2="343.30" stroke="#0000f0" stroke-width="1"/><line x1="179.47" y1="355.80" x2="182.47" y2="355.80" stroke="#0000f0" stroke-width="1"/><line x1="188.79" y1="355.00" x2="188.79" y2="368.30" stroke="#0000f0" stroke-width="1.1"/><line x1="187.29" y1="355.00" x2="190.29" y2="355.00" stroke="#0000f0" stroke-width="1"/><line x1="187.29" y1="368.30" x2="190.29" y2="368.30" stroke="#0000f0" stroke-width="1"/><line x1="196.62" y1="356.90" x2="196.62" y2="369.40" stroke="#0000f0" stroke-width="1.1"/><line x1="195.12" y1="356.90" x2="198.12" y2="356.90" stroke="#0000f0" stroke-width="1"/><line x1="195.12" y1="369.40" x2="198.12" y2="369.40" stroke="#0000f0" stroke-width="1"/><line x1="204.44" y1="350.00" x2="204.44" y2="362.80" stroke="#0000f0" stroke-width="1.1"/><line x1="202.94" y1="350.00" x2="205.94" y2="350.00" stroke="#0000f0" stroke-width="1"/><line x1="202.94" y1="362.80" x2="205.94" y2="362.80" stroke="#0000f0" stroke-width="1"/><line x1="212.26" y1="362.34" x2="212.26" y2="371.10" stroke="#0000f0" stroke-width="1.1"/><line x1="210.76" y1="362.34" x2="213.76" y2="362.34" stroke="#0000f0" stroke-width="1"/><line x1="210.76" y1="371.10" x2="213.76" y2="371.10" stroke="#0000f0" stroke-width="1"/><line x1="220.09" y1="346.70" x2="220.09" y2="354.86" stroke="#0000f0" stroke-width="1.1"/><line x1="218.59" y1="346.70" x2="221.59" y2="346.70" stroke="#0000f0" stroke-width="1"/><line x1="218.59" y1="354.86" x2="221.59" y2="354.86" stroke="#0000f0" stroke-width="1"/><line x1="227.91" y1="360.00" x2="227.91" y2="368.40" stroke="#0000f0" stroke-width="1.1"/><line x1="226.41" y1="360.00" x2="229.41" y2="360.00" stroke="#0000f0" stroke-width="1"/><line x1="226.41" y1="368.40" x2="229.41" y2="368.40" stroke="#0000f0" stroke-width="1"/><line x1="235.73" y1="375.54" x2="235.73" y2="383.70" stroke="#0000f0" stroke-width="1.1"/><line x1="234.23" y1="375.54" x2="237.23" y2="375.54" stroke="#0000f0" stroke-width="1"/><line x1="234.23" y1="383.70" x2="237.23" y2="383.70" stroke="#0000f0" stroke-width="1"/><line x1="243.55" y1="370.80" x2="243.55" y2="378.96" stroke="#0000f0" stroke-width="1.1"/><line x1="242.05" y1="370.80" x2="245.05" y2="370.80" stroke="#0000f0" stroke-width="1"/><line x1="242.05" y1="378.96" x2="245.05" y2="378.96" stroke="#0000f0" stroke-width="1"/><line x1="251.38" y1="362.04" x2="251.38" y2="369.56" stroke="#0000f0" stroke-width="1.1"/><line x1="249.88" y1="362.04" x2="252.88" y2="362.04" stroke="#0000f0" stroke-width="1"/><line x1="249.88" y1="369.56" x2="252.88" y2="369.56" stroke="#0000f0" stroke-width="1"/><line x1="259.20" y1="362.84" x2="259.20" y2="369.72" stroke="#0000f0" stroke-width="1.1"/><line x1="257.70" y1="362.84" x2="260.70" y2="362.84" stroke="#0000f0" stroke-width="1"/><line x1="257.70" y1="369.72" x2="260.70" y2="369.72" stroke="#0000f0" stroke-width="1"/><line x1="267.02" y1="360.44" x2="267.02" y2="367.32" stroke="#0000f0" stroke-width="1.1"/><line x1="265.52" y1="360.44" x2="268.52" y2="360.44" stroke="#0000f0" stroke-width="1"/><line x1="265.52" y1="367.32" x2="268.52" y2="367.32" stroke="#0000f0" stroke-width="1"/><line x1="274.84" y1="361.30" x2="274.84" y2="368.58" stroke="#0000f0" stroke-width="1.1"/><line x1="273.34" y1="361.30" x2="276.34" y2="361.30" stroke="#0000f0" stroke-width="1"/><line x1="273.34" y1="368.58" x2="276.34" y2="368.58" stroke="#0000f0" stroke-width="1"/><line x1="282.67" y1="368.88" x2="282.67" y2="375.40" stroke="#0000f0" stroke-width="1.1"/><line x1="281.17" y1="368.88" x2="284.17" y2="368.88" stroke="#0000f0" stroke-width="1"/><line x1="281.17" y1="375.40" x2="284.17" y2="375.40" stroke="#0000f0" stroke-width="1"/><line x1="290.49" y1="361.84" x2="290.49" y2="368.24" stroke="#0000f0" stroke-width="1.1"/><line x1="288.99" y1="361.84" x2="291.99" y2="361.84" stroke="#0000f0" stroke-width="1"/><line x1="288.99" y1="368.24" x2="291.99" y2="368.24" stroke="#0000f0" stroke-width="1"/><line x1="298.31" y1="372.72" x2="298.31" y2="378.32" stroke="#0000f0" stroke-width="1.1"/><line x1="296.81" y1="372.72" x2="299.81" y2="372.72" stroke="#0000f0" stroke-width="1"/><line x1="296.81" y1="378.32" x2="299.81" y2="378.32" stroke="#0000f0" stroke-width="1"/><line x1="306.13" y1="376.70" x2="306.13" y2="382.30" stroke="#0000f0" stroke-width="1.1"/><line x1="304.63" y1="376.70" x2="307.63" y2="376.70" stroke="#0000f0" stroke-width="1"/><line x1="304.63" y1="382.30" x2="307.63" y2="382.30" stroke="#0000f0" stroke-width="1"/><line x1="313.96" y1="375.66" x2="313.96" y2="380.86" stroke="#0000f0" stroke-width="1.1"/><line x1="312.46" y1="375.66" x2="315.46" y2="375.66" stroke="#0000f0" stroke-width="1"/><line x1="312.46" y1="380.86" x2="315.46" y2="380.86" stroke="#0000f0" stroke-width="1"/><line x1="321.78" y1="378.08" x2="321.78" y2="382.64" stroke="#0000f0" stroke-width="1.1"/><line x1="320.28" y1="378.08" x2="323.28" y2="378.08" stroke="#0000f0" stroke-width="1"/><line x1="320.28" y1="382.64" x2="323.28" y2="382.64" stroke="#0000f0" stroke-width="1"/><line x1="329.60" y1="384.54" x2="329.60" y2="388.86" stroke="#0000f0" stroke-width="1.1"/><line x1="328.10" y1="384.54" x2="331.10" y2="384.54" stroke="#0000f0" stroke-width="1"/><line x1="328.10" y1="388.86" x2="331.10" y2="388.86" stroke="#0000f0" stroke-width="1"/><line x1="337.42" y1="389.98" x2="337.42" y2="393.82" stroke="#0000f0" stroke-width="1.1"/><line x1="335.92" y1="389.98" x2="338.92" y2="389.98" stroke="#0000f0" stroke-width="1"/><line x1="335.92" y1="393.82" x2="338.92" y2="393.82" stroke="#0000f0" stroke-width="1"/><line x1="345.25" y1="398.42" x2="345.25" y2="401.78" stroke="#0000f0" stroke-width="1.1"/><line x1="343.75" y1="398.42" x2="346.75" y2="398.42" stroke="#0000f0" stroke-width="1"/><line x1="343.75" y1="401.78" x2="346.75" y2="401.78" stroke="#0000f0" stroke-width="1"/><line x1="353.07" y1="399.68" x2="353.07" y2="402.72" stroke="#0000f0" stroke-width="1.1"/><line x1="351.57" y1="399.68" x2="354.57" y2="399.68" stroke="#0000f0" stroke-width="1"/><line x1="351.57" y1="402.72" x2="354.57" y2="402.72" stroke="#0000f0" stroke-width="1"/><line x1="360.89" y1="413.84" x2="360.89" y2="416.64" stroke="#0000f0" stroke-width="1.1"/><line x1="359.39" y1="413.84" x2="362.39" y2="413.84" stroke="#0000f0" stroke-width="1"/><line x1="359.39" y1="416.64" x2="362.39" y2="416.64" stroke="#0000f0" stroke-width="1"/></g><path d="M55.81,413.80L58.61,419.30L53.01,419.30Z" fill="#0000f0"/><path d="M63.63,401.90L66.43,407.40L60.83,407.40Z" fill="#0000f0"/><path d="M71.46,381.60L74.26,387.10L68.66,387.10Z" fill="#0000f0"/><path d="M79.28,376.90L82.08,382.40L76.48,382.40Z" fill="#0000f0"/><path d="M87.10,351.20L89.90,356.70L84.30,356.70Z" fill="#0000f0"/><path d="M94.92,373.20L97.72,378.70L92.12,378.70Z" fill="#0000f0"/><path d="M102.75,348.80L105.55,354.30L99.95,354.30Z" fill="#0000f0"/><path d="M110.57,375.35L113.37,380.85L107.77,380.85Z" fill="#0000f0"/><path d="M118.39,366.90L121.19,372.40L115.59,372.40Z" fill="#0000f0"/><path d="M126.21,391.00L129.01,396.50L123.41,396.50Z" fill="#0000f0"/><path d="M134.04,340.70L136.84,346.20L131.24,346.20Z" fill="#0000f0"/><path d="M141.86,355.50L144.66,361.00L139.06,361.00Z" fill="#0000f0"/><path d="M149.68,363.80L152.48,369.30L146.88,369.30Z" fill="#0000f0"/><path d="M157.50,361.80L160.30,367.30L154.70,367.30Z" fill="#0000f0"/><path d="M165.33,349.90L168.13,355.40L162.53,355.40Z" fill="#0000f0"/><path d="M173.15,350.50L175.95,356.00L170.35,356.00Z" fill="#0000f0"/><path d="M180.97,346.60L183.77,352.10L178.17,352.10Z" fill="#0000f0"/><path d="M188.79,359.10L191.59,364.60L185.99,364.60Z" fill="#0000f0"/><path d="M196.62,360.20L199.42,365.70L193.82,365.70Z" fill="#0000f0"/><path d="M204.44,353.70L207.24,359.20L201.64,359.20Z" fill="#0000f0"/><path d="M212.26,363.80L215.06,369.30L209.46,369.30Z" fill="#0000f0"/><path d="M220.09,348.20L222.89,353.70L217.29,353.70Z" fill="#0000f0"/><path d="M227.91,361.50L230.71,367.00L225.11,367.00Z" fill="#0000f0"/><path d="M235.73,376.80L238.53,382.30L232.93,382.30Z" fill="#0000f0"/><path d="M243.55,371.90L246.35,377.40L240.75,377.40Z" fill="#0000f0"/><path d="M251.38,362.90L254.18,368.40L248.58,368.40Z" fill="#0000f0"/><path d="M259.20,363.70L262.00,369.20L256.40,369.20Z" fill="#0000f0"/><path d="M267.02,361.30L269.82,366.80L264.22,366.80Z" fill="#0000f0"/><path d="M274.84,362.40L277.64,367.90L272.04,367.90Z" fill="#0000f0"/><path d="M282.67,369.10L285.47,374.60L279.87,374.60Z" fill="#0000f0"/><path d="M290.49,362.30L293.29,367.80L287.69,367.80Z" fill="#0000f0"/><path d="M298.31,372.70L301.11,378.20L295.51,378.20Z" fill="#0000f0"/><path d="M306.13,376.60L308.93,382.10L303.33,382.10Z" fill="#0000f0"/><path d="M313.96,375.40L316.76,380.90L311.16,380.90Z" fill="#0000f0"/><path d="M321.78,377.50L324.58,383.00L318.98,383.00Z" fill="#0000f0"/><path d="M329.60,383.80L332.40,389.30L326.80,389.30Z" fill="#0000f0"/><path d="M337.42,389.00L340.22,394.50L334.62,394.50Z" fill="#0000f0"/><path d="M345.25,397.20L348.05,402.70L342.45,402.70Z" fill="#0000f0"/><path d="M353.07,398.30L355.87,403.80L350.27,403.80Z" fill="#0000f0"/><path d="M360.89,412.30L363.69,417.80L358.09,417.80Z" fill="#0000f0"/><g clip-path="url(#cr)"><polyline points="55.81,438.60 63.63,448.80 71.46,420.70 79.28,419.90 87.10,421.40 94.92,421.40 102.75,420.80 110.57,423.30 118.39,427.60 126.21,449.00 134.04,400.60 141.86,436.30 149.68,403.75 157.50,420.50 165.33,422.60 173.15,436.10 180.97,427.50 188.79,423.60 196.62,415.00 204.44,411.90 212.26,426.70 220.09,422.80 227.91,434.50 235.73,432.20 243.55,424.40 251.38,419.70 259.20,429.80 267.02,422.80 274.84,411.20 282.67,413.40 290.49,410.10 298.31,409.80 306.13,407.40 313.96,411.30 321.78,408.00 329.60,410.40 337.42,406.30 345.25,401.50 353.07,400.50 360.89,402.20" fill="none" stroke="#1a9ec8" stroke-width="1.2" stroke-dasharray="3.8,1.8,1.1,1.6"/><line x1="55.81" y1="428.50" x2="55.81" y2="451.90" stroke="#1a9ec8" stroke-width="1.1" stroke-dasharray="3.8,1.8,1.1,1.6"/><line x1="54.31" y1="428.50" x2="57.31" y2="428.50" stroke="#1a9ec8" stroke-width="1"/><line x1="54.31" y1="451.90" x2="57.31" y2="451.90" stroke="#1a9ec8" stroke-width="1"/><line x1="63.63" y1="437.80" x2="63.63" y2="465.20" stroke="#1a9ec8" stroke-width="1.1" stroke-dasharray="3.8,1.8,1.1,1.6"/><line x1="62.13" y1="437.80" x2="65.13" y2="437.80" stroke="#1a9ec8" stroke-width="1"/><line x1="62.13" y1="465.20" x2="65.13" y2="465.20" stroke="#1a9ec8" stroke-width="1"/><line x1="71.46" y1="412.80" x2="71.46" y2="431.60" stroke="#1a9ec8" stroke-width="1.1" stroke-dasharray="3.8,1.8,1.1,1.6"/><line x1="69.96" y1="412.80" x2="72.96" y2="412.80" stroke="#1a9ec8" stroke-width="1"/><line x1="69.96" y1="431.60" x2="72.96" y2="431.60" stroke="#1a9ec8" stroke-width="1"/><line x1="79.28" y1="410.50" x2="79.28" y2="431.60" stroke="#1a9ec8" stroke-width="1.1" stroke-dasharray="3.8,1.8,1.1,1.6"/><line x1="77.78" y1="410.50" x2="80.78" y2="410.50" stroke="#1a9ec8" stroke-width="1"/><line x1="77.78" y1="431.60" x2="80.78" y2="431.60" stroke="#1a9ec8" stroke-width="1"/><line x1="87.10" y1="410.50" x2="87.10" y2="435.50" stroke="#1a9ec8" stroke-width="1.1" stroke-dasharray="3.8,1.8,1.1,1.6"/><line x1="85.60" y1="410.50" x2="88.60" y2="410.50" stroke="#1a9ec8" stroke-width="1"/><line x1="85.60" y1="435.50" x2="88.60" y2="435.50" stroke="#1a9ec8" stroke-width="1"/><line x1="94.92" y1="409.60" x2="94.92" y2="434.00" stroke="#1a9ec8" stroke-width="1.1" stroke-dasharray="3.8,1.8,1.1,1.6"/><line x1="93.42" y1="409.60" x2="96.42" y2="409.60" stroke="#1a9ec8" stroke-width="1"/><line x1="93.42" y1="434.00" x2="96.42" y2="434.00" stroke="#1a9ec8" stroke-width="1"/><line x1="102.75" y1="409.00" x2="102.75" y2="434.00" stroke="#1a9ec8" stroke-width="1.1" stroke-dasharray="3.8,1.8,1.1,1.6"/><line x1="101.25" y1="409.00" x2="104.25" y2="409.00" stroke="#1a9ec8" stroke-width="1"/><line x1="101.25" y1="434.00" x2="104.25" y2="434.00" stroke="#1a9ec8" stroke-width="1"/><line x1="110.57" y1="412.00" x2="110.57" y2="436.50" stroke="#1a9ec8" stroke-width="1.1" stroke-dasharray="3.8,1.8,1.1,1.6"/><line x1="109.07" y1="412.00" x2="112.07" y2="412.00" stroke="#1a9ec8" stroke-width="1"/><line x1="109.07" y1="436.50" x2="112.07" y2="436.50" stroke="#1a9ec8" stroke-width="1"/><line x1="118.39" y1="419.00" x2="118.39" y2="442.00" stroke="#1a9ec8" stroke-width="1.1" stroke-dasharray="3.8,1.8,1.1,1.6"/><line x1="116.89" y1="419.00" x2="119.89" y2="419.00" stroke="#1a9ec8" stroke-width="1"/><line x1="116.89" y1="442.00" x2="119.89" y2="442.00" stroke="#1a9ec8" stroke-width="1"/><line x1="126.21" y1="438.00" x2="126.21" y2="470.00" stroke="#1a9ec8" stroke-width="1.1" stroke-dasharray="3.8,1.8,1.1,1.6"/><line x1="124.71" y1="438.00" x2="127.71" y2="438.00" stroke="#1a9ec8" stroke-width="1"/><line x1="124.71" y1="470.00" x2="127.71" y2="470.00" stroke="#1a9ec8" stroke-width="1"/><line x1="134.04" y1="391.25" x2="134.04" y2="410.00" stroke="#1a9ec8" stroke-width="1.1" stroke-dasharray="3.8,1.8,1.1,1.6"/><line x1="132.54" y1="391.25" x2="135.54" y2="391.25" stroke="#1a9ec8" stroke-width="1"/><line x1="132.54" y1="410.00" x2="135.54" y2="410.00" stroke="#1a9ec8" stroke-width="1"/><line x1="141.86" y1="426.00" x2="141.86" y2="449.40" stroke="#1a9ec8" stroke-width="1.1" stroke-dasharray="3.8,1.8,1.1,1.6"/><line x1="140.36" y1="426.00" x2="143.36" y2="426.00" stroke="#1a9ec8" stroke-width="1"/><line x1="140.36" y1="449.40" x2="143.36" y2="449.40" stroke="#1a9ec8" stroke-width="1"/><line x1="149.68" y1="395.00" x2="149.68" y2="413.00" stroke="#1a9ec8" stroke-width="1.1" stroke-dasharray="3.8,1.8,1.1,1.6"/><line x1="148.18" y1="395.00" x2="151.18" y2="395.00" stroke="#1a9ec8" stroke-width="1"/><line x1="148.18" y1="413.00" x2="151.18" y2="413.00" stroke="#1a9ec8" stroke-width="1"/><line x1="157.50" y1="413.00" x2="157.50" y2="432.00" stroke="#1a9ec8" stroke-width="1.1" stroke-dasharray="3.8,1.8,1.1,1.6"/><line x1="156.00" y1="413.00" x2="159.00" y2="413.00" stroke="#1a9ec8" stroke-width="1"/><line x1="156.00" y1="432.00" x2="159.00" y2="432.00" stroke="#1a9ec8" stroke-width="1"/><line x1="165.33" y1="413.00" x2="165.33" y2="434.00" stroke="#1a9ec8" stroke-width="1.1" stroke-dasharray="3.8,1.8,1.1,1.6"/><line x1="163.83" y1="413.00" x2="166.83" y2="413.00" stroke="#1a9ec8" stroke-width="1"/><line x1="163.83" y1="434.00" x2="166.83" y2="434.00" stroke="#1a9ec8" stroke-width="1"/><line x1="173.15" y1="426.00" x2="173.15" y2="447.80" stroke="#1a9ec8" stroke-width="1.1" stroke-dasharray="3.8,1.8,1.1,1.6"/><line x1="171.65" y1="426.00" x2="174.65" y2="426.00" stroke="#1a9ec8" stroke-width="1"/><line x1="171.65" y1="447.80" x2="174.65" y2="447.80" stroke="#1a9ec8" stroke-width="1"/><line x1="180.97" y1="415.00" x2="180.97" y2="440.00" stroke="#1a9ec8" stroke-width="1.1" stroke-dasharray="3.8,1.8,1.1,1.6"/><line x1="179.47" y1="415.00" x2="182.47" y2="415.00" stroke="#1a9ec8" stroke-width="1"/><line x1="179.47" y1="440.00" x2="182.47" y2="440.00" stroke="#1a9ec8" stroke-width="1"/><line x1="188.79" y1="416.60" x2="188.79" y2="431.40" stroke="#1a9ec8" stroke-width="1.1" stroke-dasharray="3.8,1.8,1.1,1.6"/><line x1="187.29" y1="416.60" x2="190.29" y2="416.60" stroke="#1a9ec8" stroke-width="1"/><line x1="187.29" y1="431.40" x2="190.29" y2="431.40" stroke="#1a9ec8" stroke-width="1"/><line x1="196.62" y1="408.00" x2="196.62" y2="422.00" stroke="#1a9ec8" stroke-width="1.1" stroke-dasharray="3.8,1.8,1.1,1.6"/><line x1="195.12" y1="408.00" x2="198.12" y2="408.00" stroke="#1a9ec8" stroke-width="1"/><line x1="195.12" y1="422.00" x2="198.12" y2="422.00" stroke="#1a9ec8" stroke-width="1"/><line x1="204.44" y1="406.40" x2="204.44" y2="421.25" stroke="#1a9ec8" stroke-width="1.1" stroke-dasharray="3.8,1.8,1.1,1.6"/><line x1="202.94" y1="406.40" x2="205.94" y2="406.40" stroke="#1a9ec8" stroke-width="1"/><line x1="202.94" y1="421.25" x2="205.94" y2="421.25" stroke="#1a9ec8" stroke-width="1"/><line x1="212.26" y1="418.10" x2="212.26" y2="435.30" stroke="#1a9ec8" stroke-width="1.1" stroke-dasharray="3.8,1.8,1.1,1.6"/><line x1="210.76" y1="418.10" x2="213.76" y2="418.10" stroke="#1a9ec8" stroke-width="1"/><line x1="210.76" y1="435.30" x2="213.76" y2="435.30" stroke="#1a9ec8" stroke-width="1"/><line x1="220.09" y1="415.00" x2="220.09" y2="431.00" stroke="#1a9ec8" stroke-width="1.1" stroke-dasharray="3.8,1.8,1.1,1.6"/><line x1="218.59" y1="415.00" x2="221.59" y2="415.00" stroke="#1a9ec8" stroke-width="1"/><line x1="218.59" y1="431.00" x2="221.59" y2="431.00" stroke="#1a9ec8" stroke-width="1"/><line x1="227.91" y1="427.50" x2="227.91" y2="442.30" stroke="#1a9ec8" stroke-width="1.1" stroke-dasharray="3.8,1.8,1.1,1.6"/><line x1="226.41" y1="427.50" x2="229.41" y2="427.50" stroke="#1a9ec8" stroke-width="1"/><line x1="226.41" y1="442.30" x2="229.41" y2="442.30" stroke="#1a9ec8" stroke-width="1"/><line x1="235.73" y1="425.20" x2="235.73" y2="438.40" stroke="#1a9ec8" stroke-width="1.1" stroke-dasharray="3.8,1.8,1.1,1.6"/><line x1="234.23" y1="425.20" x2="237.23" y2="425.20" stroke="#1a9ec8" stroke-width="1"/><line x1="234.23" y1="438.40" x2="237.23" y2="438.40" stroke="#1a9ec8" stroke-width="1"/><line x1="243.55" y1="418.60" x2="243.55" y2="431.80" stroke="#1a9ec8" stroke-width="1.1" stroke-dasharray="3.8,1.8,1.1,1.6"/><line x1="242.05" y1="418.60" x2="245.05" y2="418.60" stroke="#1a9ec8" stroke-width="1"/><line x1="242.05" y1="431.80" x2="245.05" y2="431.80" stroke="#1a9ec8" stroke-width="1"/><line x1="251.38" y1="414.34" x2="251.38" y2="425.06" stroke="#1a9ec8" stroke-width="1.1" stroke-dasharray="3.8,1.8,1.1,1.6"/><line x1="249.88" y1="414.34" x2="252.88" y2="414.34" stroke="#1a9ec8" stroke-width="1"/><line x1="249.88" y1="425.06" x2="252.88" y2="425.06" stroke="#1a9ec8" stroke-width="1"/><line x1="259.20" y1="426.57" x2="259.20" y2="435.83" stroke="#1a9ec8" stroke-width="1.1" stroke-dasharray="3.8,1.8,1.1,1.6"/><line x1="257.70" y1="426.57" x2="260.70" y2="426.57" stroke="#1a9ec8" stroke-width="1"/><line x1="257.70" y1="435.83" x2="260.70" y2="435.83" stroke="#1a9ec8" stroke-width="1"/><line x1="267.02" y1="418.81" x2="267.02" y2="427.48" stroke="#1a9ec8" stroke-width="1.1" stroke-dasharray="3.8,1.8,1.1,1.6"/><line x1="265.52" y1="418.81" x2="268.52" y2="418.81" stroke="#1a9ec8" stroke-width="1"/><line x1="265.52" y1="427.48" x2="268.52" y2="427.48" stroke="#1a9ec8" stroke-width="1"/><line x1="274.84" y1="408.48" x2="274.84" y2="415.70" stroke="#1a9ec8" stroke-width="1.1" stroke-dasharray="3.8,1.8,1.1,1.6"/><line x1="273.34" y1="408.48" x2="276.34" y2="408.48" stroke="#1a9ec8" stroke-width="1"/><line x1="273.34" y1="415.70" x2="276.34" y2="415.70" stroke="#1a9ec8" stroke-width="1"/><line x1="282.67" y1="410.76" x2="282.67" y2="417.40" stroke="#1a9ec8" stroke-width="1.1" stroke-dasharray="3.8,1.8,1.1,1.6"/><line x1="281.17" y1="410.76" x2="284.17" y2="410.76" stroke="#1a9ec8" stroke-width="1"/><line x1="281.17" y1="417.40" x2="284.17" y2="417.40" stroke="#1a9ec8" stroke-width="1"/><line x1="290.49" y1="407.47" x2="290.49" y2="412.99" stroke="#1a9ec8" stroke-width="1.1" stroke-dasharray="3.8,1.8,1.1,1.6"/><line x1="288.99" y1="407.47" x2="291.99" y2="407.47" stroke="#1a9ec8" stroke-width="1"/><line x1="288.99" y1="412.99" x2="291.99" y2="412.99" stroke="#1a9ec8" stroke-width="1"/><line x1="298.31" y1="407.42" x2="298.31" y2="412.35" stroke="#1a9ec8" stroke-width="1.1" stroke-dasharray="3.8,1.8,1.1,1.6"/><line x1="296.81" y1="407.42" x2="299.81" y2="407.42" stroke="#1a9ec8" stroke-width="1"/><line x1="296.81" y1="412.35" x2="299.81" y2="412.35" stroke="#1a9ec8" stroke-width="1"/><line x1="306.13" y1="405.19" x2="306.13" y2="409.61" stroke="#1a9ec8" stroke-width="1.1" stroke-dasharray="3.8,1.8,1.1,1.6"/><line x1="304.63" y1="405.19" x2="307.63" y2="405.19" stroke="#1a9ec8" stroke-width="1"/><line x1="304.63" y1="409.61" x2="307.63" y2="409.61" stroke="#1a9ec8" stroke-width="1"/><line x1="313.96" y1="409.18" x2="313.96" y2="413.60" stroke="#1a9ec8" stroke-width="1.1" stroke-dasharray="3.8,1.8,1.1,1.6"/><line x1="312.46" y1="409.18" x2="315.46" y2="409.18" stroke="#1a9ec8" stroke-width="1"/><line x1="312.46" y1="413.60" x2="315.46" y2="413.60" stroke="#1a9ec8" stroke-width="1"/><line x1="321.78" y1="406.05" x2="321.78" y2="410.12" stroke="#1a9ec8" stroke-width="1.1" stroke-dasharray="3.8,1.8,1.1,1.6"/><line x1="320.28" y1="406.05" x2="323.28" y2="406.05" stroke="#1a9ec8" stroke-width="1"/><line x1="320.28" y1="410.12" x2="323.28" y2="410.12" stroke="#1a9ec8" stroke-width="1"/><line x1="329.60" y1="408.62" x2="329.60" y2="412.19" stroke="#1a9ec8" stroke-width="1.1" stroke-dasharray="3.8,1.8,1.1,1.6"/><line x1="328.10" y1="408.62" x2="331.10" y2="408.62" stroke="#1a9ec8" stroke-width="1"/><line x1="328.10" y1="412.19" x2="331.10" y2="412.19" stroke="#1a9ec8" stroke-width="1"/><line x1="337.42" y1="404.77" x2="337.42" y2="407.91" stroke="#1a9ec8" stroke-width="1.1" stroke-dasharray="3.8,1.8,1.1,1.6"/><line x1="335.92" y1="404.77" x2="338.92" y2="404.77" stroke="#1a9ec8" stroke-width="1"/><line x1="335.92" y1="407.91" x2="338.92" y2="407.91" stroke="#1a9ec8" stroke-width="1"/><line x1="345.25" y1="400.06" x2="345.25" y2="402.94" stroke="#1a9ec8" stroke-width="1.1" stroke-dasharray="3.8,1.8,1.1,1.6"/><line x1="343.75" y1="400.06" x2="346.75" y2="400.06" stroke="#1a9ec8" stroke-width="1"/><line x1="343.75" y1="402.94" x2="346.75" y2="402.94" stroke="#1a9ec8" stroke-width="1"/><line x1="353.07" y1="399.23" x2="353.07" y2="401.77" stroke="#1a9ec8" stroke-width="1.1" stroke-dasharray="3.8,1.8,1.1,1.6"/><line x1="351.57" y1="399.23" x2="354.57" y2="399.23" stroke="#1a9ec8" stroke-width="1"/><line x1="351.57" y1="401.77" x2="354.57" y2="401.77" stroke="#1a9ec8" stroke-width="1"/><line x1="360.89" y1="401.01" x2="360.89" y2="403.39" stroke="#1a9ec8" stroke-width="1.1" stroke-dasharray="3.8,1.8,1.1,1.6"/><line x1="359.39" y1="401.01" x2="362.39" y2="401.01" stroke="#1a9ec8" stroke-width="1"/><line x1="359.39" y1="403.39" x2="362.39" y2="403.39" stroke="#1a9ec8" stroke-width="1"/></g><path d="M55.81,441.50L58.61,436.00L53.01,436.00Z" fill="#1a9ec8"/><path d="M63.63,451.70L66.43,446.20L60.83,446.20Z" fill="#1a9ec8"/><path d="M71.46,423.60L74.26,418.10L68.66,418.10Z" fill="#1a9ec8"/><path d="M79.28,422.80L82.08,417.30L76.48,417.30Z" fill="#1a9ec8"/><path d="M87.10,424.30L89.90,418.80L84.30,418.80Z" fill="#1a9ec8"/><path d="M94.92,424.30L97.72,418.80L92.12,418.80Z" fill="#1a9ec8"/><path d="M102.75,423.70L105.55,418.20L99.95,418.20Z" fill="#1a9ec8"/><path d="M110.57,426.20L113.37,420.70L107.77,420.70Z" fill="#1a9ec8"/><path d="M118.39,430.50L121.19,425.00L115.59,425.00Z" fill="#1a9ec8"/><path d="M126.21,451.90L129.01,446.40L123.41,446.40Z" fill="#1a9ec8"/><path d="M134.04,403.50L136.84,398.00L131.24,398.00Z" fill="#1a9ec8"/><path d="M141.86,439.20L144.66,433.70L139.06,433.70Z" fill="#1a9ec8"/><path d="M149.68,406.65L152.48,401.15L146.88,401.15Z" fill="#1a9ec8"/><path d="M157.50,423.40L160.30,417.90L154.70,417.90Z" fill="#1a9ec8"/><path d="M165.33,425.50L168.13,420.00L162.53,420.00Z" fill="#1a9ec8"/><path d="M173.15,439.00L175.95,433.50L170.35,433.50Z" fill="#1a9ec8"/><path d="M180.97,430.40L183.77,424.90L178.17,424.90Z" fill="#1a9ec8"/><path d="M188.79,426.50L191.59,421.00L185.99,421.00Z" fill="#1a9ec8"/><path d="M196.62,417.90L199.42,412.40L193.82,412.40Z" fill="#1a9ec8"/><path d="M204.44,414.80L207.24,409.30L201.64,409.30Z" fill="#1a9ec8"/><path d="M212.26,429.60L215.06,424.10L209.46,424.10Z" fill="#1a9ec8"/><path d="M220.09,425.70L222.89,420.20L217.29,420.20Z" fill="#1a9ec8"/><path d="M227.91,437.40L230.71,431.90L225.11,431.90Z" fill="#1a9ec8"/><path d="M235.73,435.10L238.53,429.60L232.93,429.60Z" fill="#1a9ec8"/><path d="M243.55,427.30L246.35,421.80L240.75,421.80Z" fill="#1a9ec8"/><path d="M251.38,422.60L254.18,417.10L248.58,417.10Z" fill="#1a9ec8"/><path d="M259.20,432.70L262.00,427.20L256.40,427.20Z" fill="#1a9ec8"/><path d="M267.02,425.70L269.82,420.20L264.22,420.20Z" fill="#1a9ec8"/><path d="M274.84,414.10L277.64,408.60L272.04,408.60Z" fill="#1a9ec8"/><path d="M282.67,416.30L285.47,410.80L279.87,410.80Z" fill="#1a9ec8"/><path d="M290.49,413.00L293.29,407.50L287.69,407.50Z" fill="#1a9ec8"/><path d="M298.31,412.70L301.11,407.20L295.51,407.20Z" fill="#1a9ec8"/><path d="M306.13,410.30L308.93,404.80L303.33,404.80Z" fill="#1a9ec8"/><path d="M313.96,414.20L316.76,408.70L311.16,408.70Z" fill="#1a9ec8"/><path d="M321.78,410.90L324.58,405.40L318.98,405.40Z" fill="#1a9ec8"/><path d="M329.60,413.30L332.40,407.80L326.80,407.80Z" fill="#1a9ec8"/><path d="M337.42,409.20L340.22,403.70L334.62,403.70Z" fill="#1a9ec8"/><path d="M345.25,404.40L348.05,398.90L342.45,398.90Z" fill="#1a9ec8"/><path d="M353.07,403.40L355.87,397.90L350.27,397.90Z" fill="#1a9ec8"/><path d="M360.89,405.10L363.69,399.60L358.09,399.60Z" fill="#1a9ec8"/><g clip-path="url(#cr)"><polyline points="55.81,427.70 63.63,447.60 71.46,466.60 79.28,477.50 87.10,411.60 94.92,479.30 102.75,442.00 110.57,430.50 118.39,442.60 126.21,447.30 134.04,448.30 141.86,465.00 149.68,405.30 157.50,446.70 165.33,421.60 173.15,427.50 180.97,430.90 188.79,443.90 196.62,422.00 204.44,436.50 212.26,414.70 220.09,413.75 227.91,423.60 235.73,445.00 243.55,434.50 251.38,422.00 259.20,409.50 267.02,401.30 274.84,400.60 282.67,396.60 290.49,389.10 298.31,385.00 306.13,384.00 313.96,377.50 321.78,374.80 329.60,378.25 337.42,374.40 345.25,374.80 353.07,380.30 360.89,388.40" fill="none" stroke="#ff0000" stroke-width="1.2" stroke-dasharray="1.3,0.9"/><line x1="55.81" y1="416.75" x2="55.81" y2="438.60" stroke="#ff0000" stroke-width="1.1" stroke-dasharray="1.3,0.9"/><line x1="54.31" y1="416.75" x2="57.31" y2="416.75" stroke="#ff0000" stroke-width="1" stroke-dasharray="1,1" stroke-opacity="0.8"/><line x1="54.31" y1="438.60" x2="57.31" y2="438.60" stroke="#ff0000" stroke-width="1" stroke-dasharray="1,1" stroke-opacity="0.8"/><line x1="63.63" y1="429.30" x2="63.63" y2="469.90" stroke="#ff0000" stroke-width="1.1" stroke-dasharray="1.3,0.9"/><line x1="62.13" y1="429.30" x2="65.13" y2="429.30" stroke="#ff0000" stroke-width="1" stroke-dasharray="1,1" stroke-opacity="0.8"/><line x1="62.13" y1="469.90" x2="65.13" y2="469.90" stroke="#ff0000" stroke-width="1" stroke-dasharray="1,1" stroke-opacity="0.8"/><line x1="71.46" y1="448.80" x2="71.46" y2="490.00" stroke="#ff0000" stroke-width="1.1" stroke-dasharray="1.3,0.9"/><line x1="69.96" y1="448.80" x2="72.96" y2="448.80" stroke="#ff0000" stroke-width="1" stroke-dasharray="1,1" stroke-opacity="0.8"/><line x1="69.96" y1="490.00" x2="72.96" y2="490.00" stroke="#ff0000" stroke-width="1" stroke-dasharray="1,1" stroke-opacity="0.8"/><line x1="79.28" y1="462.00" x2="79.28" y2="495.00" stroke="#ff0000" stroke-width="1.1" stroke-dasharray="1.3,0.9"/><line x1="77.78" y1="462.00" x2="80.78" y2="462.00" stroke="#ff0000" stroke-width="1" stroke-dasharray="1,1" stroke-opacity="0.8"/><line x1="77.78" y1="495.00" x2="80.78" y2="495.00" stroke="#ff0000" stroke-width="1" stroke-dasharray="1,1" stroke-opacity="0.8"/><line x1="87.10" y1="396.00" x2="87.10" y2="431.00" stroke="#ff0000" stroke-width="1.1" stroke-dasharray="1.3,0.9"/><line x1="85.60" y1="396.00" x2="88.60" y2="396.00" stroke="#ff0000" stroke-width="1" stroke-dasharray="1,1" stroke-opacity="0.8"/><line x1="85.60" y1="431.00" x2="88.60" y2="431.00" stroke="#ff0000" stroke-width="1" stroke-dasharray="1,1" stroke-opacity="0.8"/><line x1="94.92" y1="466.90" x2="94.92" y2="491.00" stroke="#ff0000" stroke-width="1.1" stroke-dasharray="1.3,0.9"/><line x1="93.42" y1="466.90" x2="96.42" y2="466.90" stroke="#ff0000" stroke-width="1" stroke-dasharray="1,1" stroke-opacity="0.8"/><line x1="93.42" y1="491.00" x2="96.42" y2="491.00" stroke="#ff0000" stroke-width="1" stroke-dasharray="1,1" stroke-opacity="0.8"/><line x1="102.75" y1="425.00" x2="102.75" y2="463.20" stroke="#ff0000" stroke-width="1.1" stroke-dasharray="1.3,0.9"/><line x1="101.25" y1="425.00" x2="104.25" y2="425.00" stroke="#ff0000" stroke-width="1" stroke-dasharray="1,1" stroke-opacity="0.8"/><line x1="101.25" y1="463.20" x2="104.25" y2="463.20" stroke="#ff0000" stroke-width="1" stroke-dasharray="1,1" stroke-opacity="0.8"/><line x1="110.57" y1="412.00" x2="110.57" y2="449.70" stroke="#ff0000" stroke-width="1.1" stroke-dasharray="1.3,0.9"/><line x1="109.07" y1="412.00" x2="112.07" y2="412.00" stroke="#ff0000" stroke-width="1" stroke-dasharray="1,1" stroke-opacity="0.8"/><line x1="109.07" y1="449.70" x2="112.07" y2="449.70" stroke="#ff0000" stroke-width="1" stroke-dasharray="1,1" stroke-opacity="0.8"/><line x1="118.39" y1="425.00" x2="118.39" y2="465.50" stroke="#ff0000" stroke-width="1.1" stroke-dasharray="1.3,0.9"/><line x1="116.89" y1="425.00" x2="119.89" y2="425.00" stroke="#ff0000" stroke-width="1" stroke-dasharray="1,1" stroke-opacity="0.8"/><line x1="116.89" y1="465.50" x2="119.89" y2="465.50" stroke="#ff0000" stroke-width="1" stroke-dasharray="1,1" stroke-opacity="0.8"/><line x1="126.21" y1="428.00" x2="126.21" y2="471.40" stroke="#ff0000" stroke-width="1.1" stroke-dasharray="1.3,0.9"/><line x1="124.71" y1="428.00" x2="127.71" y2="428.00" stroke="#ff0000" stroke-width="1" stroke-dasharray="1,1" stroke-opacity="0.8"/><line x1="124.71" y1="471.40" x2="127.71" y2="471.40" stroke="#ff0000" stroke-width="1" stroke-dasharray="1,1" stroke-opacity="0.8"/><line x1="134.04" y1="429.70" x2="134.04" y2="471.40" stroke="#ff0000" stroke-width="1.1" stroke-dasharray="1.3,0.9"/><line x1="132.54" y1="429.70" x2="135.54" y2="429.70" stroke="#ff0000" stroke-width="1" stroke-dasharray="1,1" stroke-opacity="0.8"/><line x1="132.54" y1="471.40" x2="135.54" y2="471.40" stroke="#ff0000" stroke-width="1" stroke-dasharray="1,1" stroke-opacity="0.8"/><line x1="141.86" y1="449.70" x2="141.86" y2="490.00" stroke="#ff0000" stroke-width="1.1" stroke-dasharray="1.3,0.9"/><line x1="140.36" y1="449.70" x2="143.36" y2="449.70" stroke="#ff0000" stroke-width="1" stroke-dasharray="1,1" stroke-opacity="0.8"/><line x1="140.36" y1="490.00" x2="143.36" y2="490.00" stroke="#ff0000" stroke-width="1" stroke-dasharray="1,1" stroke-opacity="0.8"/><line x1="149.68" y1="389.70" x2="149.68" y2="426.40" stroke="#ff0000" stroke-width="1.1" stroke-dasharray="1.3,0.9"/><line x1="148.18" y1="389.70" x2="151.18" y2="389.70" stroke="#ff0000" stroke-width="1" stroke-dasharray="1,1" stroke-opacity="0.8"/><line x1="148.18" y1="426.40" x2="151.18" y2="426.40" stroke="#ff0000" stroke-width="1" stroke-dasharray="1,1" stroke-opacity="0.8"/><line x1="157.50" y1="429.50" x2="157.50" y2="467.30" stroke="#ff0000" stroke-width="1.1" stroke-dasharray="1.3,0.9"/><line x1="156.00" y1="429.50" x2="159.00" y2="429.50" stroke="#ff0000" stroke-width="1" stroke-dasharray="1,1" stroke-opacity="0.8"/><line x1="156.00" y1="467.30" x2="159.00" y2="467.30" stroke="#ff0000" stroke-width="1" stroke-dasharray="1,1" stroke-opacity="0.8"/><line x1="165.33" y1="406.90" x2="165.33" y2="438.70" stroke="#ff0000" stroke-width="1.1" stroke-dasharray="1.3,0.9"/><line x1="163.83" y1="406.90" x2="166.83" y2="406.90" stroke="#ff0000" stroke-width="1" stroke-dasharray="1,1" stroke-opacity="0.8"/><line x1="163.83" y1="438.70" x2="166.83" y2="438.70" stroke="#ff0000" stroke-width="1" stroke-dasharray="1,1" stroke-opacity="0.8"/><line x1="173.15" y1="415.00" x2="173.15" y2="440.00" stroke="#ff0000" stroke-width="1.1" stroke-dasharray="1.3,0.9"/><line x1="171.65" y1="415.00" x2="174.65" y2="415.00" stroke="#ff0000" stroke-width="1" stroke-dasharray="1,1" stroke-opacity="0.8"/><line x1="171.65" y1="440.00" x2="174.65" y2="440.00" stroke="#ff0000" stroke-width="1" stroke-dasharray="1,1" stroke-opacity="0.8"/><line x1="180.97" y1="415.00" x2="180.97" y2="449.40" stroke="#ff0000" stroke-width="1.1" stroke-dasharray="1.3,0.9"/><line x1="179.47" y1="415.00" x2="182.47" y2="415.00" stroke="#ff0000" stroke-width="1" stroke-dasharray="1,1" stroke-opacity="0.8"/><line x1="179.47" y1="449.40" x2="182.47" y2="449.40" stroke="#ff0000" stroke-width="1" stroke-dasharray="1,1" stroke-opacity="0.8"/><line x1="188.79" y1="431.40" x2="188.79" y2="460.30" stroke="#ff0000" stroke-width="1.1" stroke-dasharray="1.3,0.9"/><line x1="187.29" y1="431.40" x2="190.29" y2="431.40" stroke="#ff0000" stroke-width="1" stroke-dasharray="1,1" stroke-opacity="0.8"/><line x1="187.29" y1="460.30" x2="190.29" y2="460.30" stroke="#ff0000" stroke-width="1" stroke-dasharray="1,1" stroke-opacity="0.8"/><line x1="196.62" y1="411.90" x2="196.62" y2="435.30" stroke="#ff0000" stroke-width="1.1" stroke-dasharray="1.3,0.9"/><line x1="195.12" y1="411.90" x2="198.12" y2="411.90" stroke="#ff0000" stroke-width="1" stroke-dasharray="1,1" stroke-opacity="0.8"/><line x1="195.12" y1="435.30" x2="198.12" y2="435.30" stroke="#ff0000" stroke-width="1" stroke-dasharray="1,1" stroke-opacity="0.8"/><line x1="204.44" y1="424.40" x2="204.44" y2="453.30" stroke="#ff0000" stroke-width="1.1" stroke-dasharray="1.3,0.9"/><line x1="202.94" y1="424.40" x2="205.94" y2="424.40" stroke="#ff0000" stroke-width="1" stroke-dasharray="1,1" stroke-opacity="0.8"/><line x1="202.94" y1="453.30" x2="205.94" y2="453.30" stroke="#ff0000" stroke-width="1" stroke-dasharray="1,1" stroke-opacity="0.8"/><line x1="212.26" y1="404.00" x2="212.26" y2="425.20" stroke="#ff0000" stroke-width="1.1" stroke-dasharray="1.3,0.9"/><line x1="210.76" y1="404.00" x2="213.76" y2="404.00" stroke="#ff0000" stroke-width="1" stroke-dasharray="1,1" stroke-opacity="0.8"/><line x1="210.76" y1="425.20" x2="213.76" y2="425.20" stroke="#ff0000" stroke-width="1" stroke-dasharray="1,1" stroke-opacity="0.8"/><line x1="220.09" y1="403.30" x2="220.09" y2="423.60" stroke="#ff0000" stroke-width="1.1" stroke-dasharray="1.3,0.9"/><line x1="218.59" y1="403.30" x2="221.59" y2="403.30" stroke="#ff0000" stroke-width="1" stroke-dasharray="1,1" stroke-opacity="0.8"/><line x1="218.59" y1="423.60" x2="221.59" y2="423.60" stroke="#ff0000" stroke-width="1" stroke-dasharray="1,1" stroke-opacity="0.8"/><line x1="227.91" y1="413.40" x2="227.91" y2="433.75" stroke="#ff0000" stroke-width="1.1" stroke-dasharray="1.3,0.9"/><line x1="226.41" y1="413.40" x2="229.41" y2="413.40" stroke="#ff0000" stroke-width="1" stroke-dasharray="1,1" stroke-opacity="0.8"/><line x1="226.41" y1="433.75" x2="229.41" y2="433.75" stroke="#ff0000" stroke-width="1" stroke-dasharray="1,1" stroke-opacity="0.8"/><line x1="235.73" y1="433.75" x2="235.73" y2="460.30" stroke="#ff0000" stroke-width="1.1" stroke-dasharray="1.3,0.9"/><line x1="234.23" y1="433.75" x2="237.23" y2="433.75" stroke="#ff0000" stroke-width="1" stroke-dasharray="1,1" stroke-opacity="0.8"/><line x1="234.23" y1="460.30" x2="237.23" y2="460.30" stroke="#ff0000" stroke-width="1" stroke-dasharray="1,1" stroke-opacity="0.8"/><line x1="243.55" y1="424.40" x2="243.55" y2="444.70" stroke="#ff0000" stroke-width="1.1" stroke-dasharray="1.3,0.9"/><line x1="242.05" y1="424.40" x2="245.05" y2="424.40" stroke="#ff0000" stroke-width="1" stroke-dasharray="1,1" stroke-opacity="0.8"/><line x1="242.05" y1="444.70" x2="245.05" y2="444.70" stroke="#ff0000" stroke-width="1" stroke-dasharray="1,1" stroke-opacity="0.8"/><line x1="251.38" y1="414.00" x2="251.38" y2="433.50" stroke="#ff0000" stroke-width="1.1" stroke-dasharray="1.3,0.9"/><line x1="249.88" y1="414.00" x2="252.88" y2="414.00" stroke="#ff0000" stroke-width="1" stroke-dasharray="1,1" stroke-opacity="0.8"/><line x1="249.88" y1="433.50" x2="252.88" y2="433.50" stroke="#ff0000" stroke-width="1" stroke-dasharray="1,1" stroke-opacity="0.8"/><line x1="259.20" y1="404.00" x2="259.20" y2="418.10" stroke="#ff0000" stroke-width="1.1" stroke-dasharray="1.3,0.9"/><line x1="257.70" y1="404.00" x2="260.70" y2="404.00" stroke="#ff0000" stroke-width="1" stroke-dasharray="1,1" stroke-opacity="0.8"/><line x1="257.70" y1="418.10" x2="260.70" y2="418.10" stroke="#ff0000" stroke-width="1" stroke-dasharray="1,1" stroke-opacity="0.8"/><line x1="267.02" y1="395.50" x2="267.02" y2="408.75" stroke="#ff0000" stroke-width="1.1" stroke-dasharray="1.3,0.9"/><line x1="265.52" y1="395.50" x2="268.52" y2="395.50" stroke="#ff0000" stroke-width="1" stroke-dasharray="1,1" stroke-opacity="0.8"/><line x1="265.52" y1="408.75" x2="268.52" y2="408.75" stroke="#ff0000" stroke-width="1" stroke-dasharray="1,1" stroke-opacity="0.8"/><line x1="274.84" y1="395.00" x2="274.84" y2="406.00" stroke="#ff0000" stroke-width="1.1" stroke-dasharray="1.3,0.9"/><line x1="273.34" y1="395.00" x2="276.34" y2="395.00" stroke="#ff0000" stroke-width="1" stroke-dasharray="1,1" stroke-opacity="0.8"/><line x1="273.34" y1="406.00" x2="276.34" y2="406.00" stroke="#ff0000" stroke-width="1" stroke-dasharray="1,1" stroke-opacity="0.8"/><line x1="282.67" y1="391.00" x2="282.67" y2="402.00" stroke="#ff0000" stroke-width="1.1" stroke-dasharray="1.3,0.9"/><line x1="281.17" y1="391.00" x2="284.17" y2="391.00" stroke="#ff0000" stroke-width="1" stroke-dasharray="1,1" stroke-opacity="0.8"/><line x1="281.17" y1="402.00" x2="284.17" y2="402.00" stroke="#ff0000" stroke-width="1" stroke-dasharray="1,1" stroke-opacity="0.8"/><line x1="290.49" y1="384.40" x2="290.49" y2="394.10" stroke="#ff0000" stroke-width="1.1" stroke-dasharray="1.3,0.9"/><line x1="288.99" y1="384.40" x2="291.99" y2="384.40" stroke="#ff0000" stroke-width="1" stroke-dasharray="1,1" stroke-opacity="0.8"/><line x1="288.99" y1="394.10" x2="291.99" y2="394.10" stroke="#ff0000" stroke-width="1" stroke-dasharray="1,1" stroke-opacity="0.8"/><line x1="298.31" y1="380.40" x2="298.31" y2="389.50" stroke="#ff0000" stroke-width="1.1" stroke-dasharray="1.3,0.9"/><line x1="296.81" y1="380.40" x2="299.81" y2="380.40" stroke="#ff0000" stroke-width="1" stroke-dasharray="1,1" stroke-opacity="0.8"/><line x1="296.81" y1="389.50" x2="299.81" y2="389.50" stroke="#ff0000" stroke-width="1" stroke-dasharray="1,1" stroke-opacity="0.8"/><line x1="306.13" y1="379.50" x2="306.13" y2="388.00" stroke="#ff0000" stroke-width="1.1" stroke-dasharray="1.3,0.9"/><line x1="304.63" y1="379.50" x2="307.63" y2="379.50" stroke="#ff0000" stroke-width="1" stroke-dasharray="1,1" stroke-opacity="0.8"/><line x1="304.63" y1="388.00" x2="307.63" y2="388.00" stroke="#ff0000" stroke-width="1" stroke-dasharray="1,1" stroke-opacity="0.8"/><line x1="313.96" y1="373.40" x2="313.96" y2="381.25" stroke="#ff0000" stroke-width="1.1" stroke-dasharray="1.3,0.9"/><line x1="312.46" y1="373.40" x2="315.46" y2="373.40" stroke="#ff0000" stroke-width="1" stroke-dasharray="1,1" stroke-opacity="0.8"/><line x1="312.46" y1="381.25" x2="315.46" y2="381.25" stroke="#ff0000" stroke-width="1" stroke-dasharray="1,1" stroke-opacity="0.8"/><line x1="321.78" y1="371.10" x2="321.78" y2="378.10" stroke="#ff0000" stroke-width="1.1" stroke-dasharray="1.3,0.9"/><line x1="320.28" y1="371.10" x2="323.28" y2="371.10" stroke="#ff0000" stroke-width="1" stroke-dasharray="1,1" stroke-opacity="0.8"/><line x1="320.28" y1="378.10" x2="323.28" y2="378.10" stroke="#ff0000" stroke-width="1" stroke-dasharray="1,1" stroke-opacity="0.8"/><line x1="329.60" y1="375.00" x2="329.60" y2="381.50" stroke="#ff0000" stroke-width="1.1" stroke-dasharray="1.3,0.9"/><line x1="328.10" y1="375.00" x2="331.10" y2="375.00" stroke="#ff0000" stroke-width="1" stroke-dasharray="1,1" stroke-opacity="0.8"/><line x1="328.10" y1="381.50" x2="331.10" y2="381.50" stroke="#ff0000" stroke-width="1" stroke-dasharray="1,1" stroke-opacity="0.8"/><line x1="337.42" y1="371.30" x2="337.42" y2="377.50" stroke="#ff0000" stroke-width="1.1" stroke-dasharray="1.3,0.9"/><line x1="335.92" y1="371.30" x2="338.92" y2="371.30" stroke="#ff0000" stroke-width="1" stroke-dasharray="1,1" stroke-opacity="0.8"/><line x1="335.92" y1="377.50" x2="338.92" y2="377.50" stroke="#ff0000" stroke-width="1" stroke-dasharray="1,1" stroke-opacity="0.8"/><line x1="345.25" y1="372.00" x2="345.25" y2="377.60" stroke="#ff0000" stroke-width="1.1" stroke-dasharray="1.3,0.9"/><line x1="343.75" y1="372.00" x2="346.75" y2="372.00" stroke="#ff0000" stroke-width="1" stroke-dasharray="1,1" stroke-opacity="0.8"/><line x1="343.75" y1="377.60" x2="346.75" y2="377.60" stroke="#ff0000" stroke-width="1" stroke-dasharray="1,1" stroke-opacity="0.8"/><line x1="353.07" y1="377.60" x2="353.07" y2="383.00" stroke="#ff0000" stroke-width="1.1" stroke-dasharray="1.3,0.9"/><line x1="351.57" y1="377.60" x2="354.57" y2="377.60" stroke="#ff0000" stroke-width="1" stroke-dasharray="1,1" stroke-opacity="0.8"/><line x1="351.57" y1="383.00" x2="354.57" y2="383.00" stroke="#ff0000" stroke-width="1" stroke-dasharray="1,1" stroke-opacity="0.8"/><line x1="360.89" y1="386.00" x2="360.89" y2="390.80" stroke="#ff0000" stroke-width="1.1" stroke-dasharray="1.3,0.9"/><line x1="359.39" y1="386.00" x2="362.39" y2="386.00" stroke="#ff0000" stroke-width="1" stroke-dasharray="1,1" stroke-opacity="0.8"/><line x1="359.39" y1="390.80" x2="362.39" y2="390.80" stroke="#ff0000" stroke-width="1" stroke-dasharray="1,1" stroke-opacity="0.8"/></g><path d="M55.81,424.30L58.01,427.70L55.81,431.10L53.61,427.70Z" fill="#ff0000"/><path d="M63.63,444.20L65.83,447.60L63.63,451.00L61.43,447.60Z" fill="#ff0000"/><path d="M71.46,463.20L73.66,466.60L71.46,470.00L69.26,466.60Z" fill="#ff0000"/><path d="M79.28,474.10L81.48,477.50L79.28,480.90L77.08,477.50Z" fill="#ff0000"/><path d="M87.10,408.20L89.30,411.60L87.10,415.00L84.90,411.60Z" fill="#ff0000"/><path d="M102.75,438.60L104.95,442.00L102.75,445.40L100.55,442.00Z" fill="#ff0000"/><path d="M110.57,427.10L112.77,430.50L110.57,433.90L108.37,430.50Z" fill="#ff0000"/><path d="M118.39,439.20L120.59,442.60L118.39,446.00L116.19,442.60Z" fill="#ff0000"/><path d="M126.21,443.90L128.41,447.30L126.21,450.70L124.01,447.30Z" fill="#ff0000"/><path d="M134.04,444.90L136.24,448.30L134.04,451.70L131.84,448.30Z" fill="#ff0000"/><path d="M141.86,461.60L144.06,465.00L141.86,468.40L139.66,465.00Z" fill="#ff0000"/><path d="M149.68,401.90L151.88,405.30L149.68,408.70L147.48,405.30Z" fill="#ff0000"/><path d="M157.50,443.30L159.70,446.70L157.50,450.10L155.30,446.70Z" fill="#ff0000"/><path d="M165.33,418.20L167.53,421.60L165.33,425.00L163.13,421.60Z" fill="#ff0000"/><path d="M173.15,424.10L175.35,427.50L173.15,430.90L170.95,427.50Z" fill="#ff0000"/><path d="M180.97,427.50L183.17,430.90L180.97,434.30L178.77,430.90Z" fill="#ff0000"/><path d="M188.79,440.50L190.99,443.90L188.79,447.30L186.59,443.90Z" fill="#ff0000"/><path d="M196.62,418.60L198.82,422.00L196.62,425.40L194.42,422.00Z" fill="#ff0000"/><path d="M204.44,433.10L206.64,436.50L204.44,439.90L202.24,436.50Z" fill="#ff0000"/><path d="M212.26,411.30L214.46,414.70L212.26,418.10L210.06,414.70Z" fill="#ff0000"/><path d="M220.09,410.35L222.29,413.75L220.09,417.15L217.89,413.75Z" fill="#ff0000"/><path d="M227.91,420.20L230.11,423.60L227.91,427.00L225.71,423.60Z" fill="#ff0000"/><path d="M235.73,441.60L237.93,445.00L235.73,448.40L233.53,445.00Z" fill="#ff0000"/><path d="M243.55,431.10L245.75,434.50L243.55,437.90L241.35,434.50Z" fill="#ff0000"/><path d="M251.38,418.60L253.58,422.00L251.38,425.40L249.18,422.00Z" fill="#ff0000"/><path d="M259.20,406.10L261.40,409.50L259.20,412.90L257.00,409.50Z" fill="#ff0000"/><path d="M267.02,397.90L269.22,401.30L267.02,404.70L264.82,401.30Z" fill="#ff0000"/><path d="M274.84,397.20L277.04,400.60L274.84,404.00L272.64,400.60Z" fill="#ff0000"/><path d="M282.67,393.20L284.87,396.60L282.67,400.00L280.47,396.60Z" fill="#ff0000"/><path d="M290.49,385.70L292.69,389.10L290.49,392.50L288.29,389.10Z" fill="#ff0000"/><path d="M298.31,381.60L300.51,385.00L298.31,388.40L296.11,385.00Z" fill="#ff0000"/><path d="M306.13,380.60L308.33,384.00L306.13,387.40L303.93,384.00Z" fill="#ff0000"/><path d="M313.96,374.10L316.16,377.50L313.96,380.90L311.76,377.50Z" fill="#ff0000"/><path d="M321.78,371.40L323.98,374.80L321.78,378.20L319.58,374.80Z" fill="#ff0000"/><path d="M329.60,374.85L331.80,378.25L329.60,381.65L327.40,378.25Z" fill="#ff0000"/><path d="M337.42,371.00L339.62,374.40L337.42,377.80L335.22,374.40Z" fill="#ff0000"/><path d="M345.25,371.40L347.45,374.80L345.25,378.20L343.05,374.80Z" fill="#ff0000"/><path d="M353.07,376.90L355.27,380.30L353.07,383.70L350.87,380.30Z" fill="#ff0000"/><path d="M360.89,385.00L363.09,388.40L360.89,391.80L358.69,388.40Z" fill="#ff0000"/></g><line x1="45.40" y1="301.63" x2="50.90" y2="301.63" stroke="#000" stroke-width="1.0"/><line x1="370.80" y1="301.63" x2="365.30" y2="301.63" stroke="#000" stroke-width="1.0"/><line x1="45.40" y1="290.29" x2="50.90" y2="290.29" stroke="#000" stroke-width="1.0"/><line x1="370.80" y1="290.29" x2="365.30" y2="290.29" stroke="#000" stroke-width="1.0"/><line x1="45.40" y1="282.24" x2="50.90" y2="282.24" stroke="#000" stroke-width="1.0"/><line x1="370.80" y1="282.24" x2="365.30" y2="282.24" stroke="#000" stroke-width="1.0"/><line x1="45.40" y1="276.00" x2="50.90" y2="276.00" stroke="#000" stroke-width="1.0"/><line x1="370.80" y1="276.00" x2="365.30" y2="276.00" stroke="#000" stroke-width="1.0"/><line x1="45.40" y1="270.89" x2="50.90" y2="270.89" stroke="#000" stroke-width="1.0"/><line x1="370.80" y1="270.89" x2="365.30" y2="270.89" stroke="#000" stroke-width="1.0"/><line x1="45.40" y1="266.58" x2="50.90" y2="266.58" stroke="#000" stroke-width="1.0"/><line x1="370.80" y1="266.58" x2="365.30" y2="266.58" stroke="#000" stroke-width="1.0"/><line x1="45.40" y1="262.84" x2="50.90" y2="262.84" stroke="#000" stroke-width="1.0"/><line x1="370.80" y1="262.84" x2="365.30" y2="262.84" stroke="#000" stroke-width="1.0"/><line x1="45.40" y1="259.55" x2="50.90" y2="259.55" stroke="#000" stroke-width="1.0"/><line x1="370.80" y1="259.55" x2="365.30" y2="259.55" stroke="#000" stroke-width="1.0"/><line x1="45.40" y1="256.60" x2="56.40" y2="256.60" stroke="#000" stroke-width="1.0"/><line x1="370.80" y1="256.60" x2="359.80" y2="256.60" stroke="#000" stroke-width="1.0"/><line x1="45.40" y1="237.20" x2="50.90" y2="237.20" stroke="#000" stroke-width="1.0"/><line x1="370.80" y1="237.20" x2="365.30" y2="237.20" stroke="#000" stroke-width="1.0"/><line x1="45.40" y1="225.86" x2="50.90" y2="225.86" stroke="#000" stroke-width="1.0"/><line x1="370.80" y1="225.86" x2="365.30" y2="225.86" stroke="#000" stroke-width="1.0"/><line x1="45.40" y1="217.81" x2="50.90" y2="217.81" stroke="#000" stroke-width="1.0"/><line x1="370.80" y1="217.81" x2="365.30" y2="217.81" stroke="#000" stroke-width="1.0"/><line x1="45.40" y1="211.57" x2="50.90" y2="211.57" stroke="#000" stroke-width="1.0"/><line x1="370.80" y1="211.57" x2="365.30" y2="211.57" stroke="#000" stroke-width="1.0"/><line x1="45.40" y1="206.46" x2="50.90" y2="206.46" stroke="#000" stroke-width="1.0"/><line x1="370.80" y1="206.46" x2="365.30" y2="206.46" stroke="#000" stroke-width="1.0"/><line x1="45.40" y1="202.15" x2="50.90" y2="202.15" stroke="#000" stroke-width="1.0"/><line x1="370.80" y1="202.15" x2="365.30" y2="202.15" stroke="#000" stroke-width="1.0"/><line x1="45.40" y1="198.41" x2="50.90" y2="198.41" stroke="#000" stroke-width="1.0"/><line x1="370.80" y1="198.41" x2="365.30" y2="198.41" stroke="#000" stroke-width="1.0"/><line x1="45.40" y1="195.12" x2="50.90" y2="195.12" stroke="#000" stroke-width="1.0"/><line x1="370.80" y1="195.12" x2="365.30" y2="195.12" stroke="#000" stroke-width="1.0"/><line x1="45.40" y1="192.17" x2="56.40" y2="192.17" stroke="#000" stroke-width="1.0"/><line x1="370.80" y1="192.17" x2="359.80" y2="192.17" stroke="#000" stroke-width="1.0"/><line x1="45.40" y1="172.77" x2="50.90" y2="172.77" stroke="#000" stroke-width="1.0"/><line x1="370.80" y1="172.77" x2="365.30" y2="172.77" stroke="#000" stroke-width="1.0"/><line x1="45.40" y1="161.43" x2="50.90" y2="161.43" stroke="#000" stroke-width="1.0"/><line x1="370.80" y1="161.43" x2="365.30" y2="161.43" stroke="#000" stroke-width="1.0"/><line x1="45.40" y1="153.38" x2="50.90" y2="153.38" stroke="#000" stroke-width="1.0"/><line x1="370.80" y1="153.38" x2="365.30" y2="153.38" stroke="#000" stroke-width="1.0"/><line x1="45.40" y1="147.14" x2="50.90" y2="147.14" stroke="#000" stroke-width="1.0"/><line x1="370.80" y1="147.14" x2="365.30" y2="147.14" stroke="#000" stroke-width="1.0"/><line x1="45.40" y1="142.03" x2="50.90" y2="142.03" stroke="#000" stroke-width="1.0"/><line x1="370.80" y1="142.03" x2="365.30" y2="142.03" stroke="#000" stroke-width="1.0"/><line x1="45.40" y1="137.72" x2="50.90" y2="137.72" stroke="#000" stroke-width="1.0"/><line x1="370.80" y1="137.72" x2="365.30" y2="137.72" stroke="#000" stroke-width="1.0"/><line x1="45.40" y1="133.98" x2="50.90" y2="133.98" stroke="#000" stroke-width="1.0"/><line x1="370.80" y1="133.98" x2="365.30" y2="133.98" stroke="#000" stroke-width="1.0"/><line x1="45.40" y1="130.69" x2="50.90" y2="130.69" stroke="#000" stroke-width="1.0"/><line x1="370.80" y1="130.69" x2="365.30" y2="130.69" stroke="#000" stroke-width="1.0"/><line x1="45.40" y1="127.74" x2="56.40" y2="127.74" stroke="#000" stroke-width="1.0"/><line x1="370.80" y1="127.74" x2="359.80" y2="127.74" stroke="#000" stroke-width="1.0"/><line x1="45.40" y1="108.34" x2="50.90" y2="108.34" stroke="#000" stroke-width="1.0"/><line x1="370.80" y1="108.34" x2="365.30" y2="108.34" stroke="#000" stroke-width="1.0"/><line x1="45.40" y1="97.00" x2="50.90" y2="97.00" stroke="#000" stroke-width="1.0"/><line x1="370.80" y1="97.00" x2="365.30" y2="97.00" stroke="#000" stroke-width="1.0"/><line x1="45.40" y1="88.95" x2="50.90" y2="88.95" stroke="#000" stroke-width="1.0"/><line x1="370.80" y1="88.95" x2="365.30" y2="88.95" stroke="#000" stroke-width="1.0"/><line x1="45.40" y1="82.71" x2="50.90" y2="82.71" stroke="#000" stroke-width="1.0"/><line x1="370.80" y1="82.71" x2="365.30" y2="82.71" stroke="#000" stroke-width="1.0"/><line x1="45.40" y1="77.60" x2="50.90" y2="77.60" stroke="#000" stroke-width="1.0"/><line x1="370.80" y1="77.60" x2="365.30" y2="77.60" stroke="#000" stroke-width="1.0"/><line x1="45.40" y1="73.29" x2="50.90" y2="73.29" stroke="#000" stroke-width="1.0"/><line x1="370.80" y1="73.29" x2="365.30" y2="73.29" stroke="#000" stroke-width="1.0"/><line x1="45.40" y1="69.55" x2="50.90" y2="69.55" stroke="#000" stroke-width="1.0"/><line x1="370.80" y1="69.55" x2="365.30" y2="69.55" stroke="#000" stroke-width="1.0"/><line x1="45.40" y1="66.26" x2="50.90" y2="66.26" stroke="#000" stroke-width="1.0"/><line x1="370.80" y1="66.26" x2="365.30" y2="66.26" stroke="#000" stroke-width="1.0"/><line x1="45.40" y1="63.31" x2="56.40" y2="63.31" stroke="#000" stroke-width="1.0"/><line x1="370.80" y1="63.31" x2="359.80" y2="63.31" stroke="#000" stroke-width="1.0"/><line x1="45.40" y1="43.91" x2="50.90" y2="43.91" stroke="#000" stroke-width="1.0"/><line x1="370.80" y1="43.91" x2="365.30" y2="43.91" stroke="#000" stroke-width="1.0"/><line x1="45.40" y1="32.57" x2="50.90" y2="32.57" stroke="#000" stroke-width="1.0"/><line x1="370.80" y1="32.57" x2="365.30" y2="32.57" stroke="#000" stroke-width="1.0"/><line x1="45.40" y1="24.52" x2="50.90" y2="24.52" stroke="#000" stroke-width="1.0"/><line x1="370.80" y1="24.52" x2="365.30" y2="24.52" stroke="#000" stroke-width="1.0"/><line x1="51.90" y1="17.60" x2="51.90" y2="25.60" stroke="#000" stroke-width="1.25"/><line x1="51.90" y1="317.40" x2="51.90" y2="309.40" stroke="#000" stroke-width="1.25"/><line x1="51.90" y1="317.40" x2="51.90" y2="322.90" stroke="#000" stroke-width="1.25"/><line x1="51.90" y1="477.70" x2="51.90" y2="472.70" stroke="#000" stroke-width="1.25"/><line x1="61.86" y1="17.60" x2="61.86" y2="19.80" stroke="#000" stroke-width="1.25"/><line x1="61.86" y1="317.40" x2="61.86" y2="314.90" stroke="#000" stroke-width="1.25"/><line x1="61.86" y1="317.40" x2="61.86" y2="318.90" stroke="#000" stroke-width="1.25"/><line x1="61.86" y1="477.70" x2="61.86" y2="476.20" stroke="#000" stroke-width="1.25"/><line x1="71.82" y1="17.60" x2="71.82" y2="21.60" stroke="#000" stroke-width="1.25"/><line x1="71.82" y1="317.40" x2="71.82" y2="313.40" stroke="#000" stroke-width="1.25"/><line x1="71.82" y1="317.40" x2="71.82" y2="319.90" stroke="#000" stroke-width="1.25"/><line x1="71.82" y1="477.70" x2="71.82" y2="474.70" stroke="#000" stroke-width="1.25"/><line x1="81.78" y1="17.60" x2="81.78" y2="19.80" stroke="#000" stroke-width="1.25"/><line x1="81.78" y1="317.40" x2="81.78" y2="314.90" stroke="#000" stroke-width="1.25"/><line x1="81.78" y1="317.40" x2="81.78" y2="318.90" stroke="#000" stroke-width="1.25"/><line x1="81.78" y1="477.70" x2="81.78" y2="476.20" stroke="#000" stroke-width="1.25"/><line x1="91.74" y1="17.60" x2="91.74" y2="21.60" stroke="#000" stroke-width="1.25"/><line x1="91.74" y1="317.40" x2="91.74" y2="313.40" stroke="#000" stroke-width="1.25"/><line x1="91.74" y1="317.40" x2="91.74" y2="319.90" stroke="#000" stroke-width="1.25"/><line x1="91.74" y1="477.70" x2="91.74" y2="474.70" stroke="#000" stroke-width="1.25"/><line x1="101.70" y1="17.60" x2="101.70" y2="19.80" stroke="#000" stroke-width="1.25"/><line x1="101.70" y1="317.40" x2="101.70" y2="314.90" stroke="#000" stroke-width="1.25"/><line x1="101.70" y1="317.40" x2="101.70" y2="318.90" stroke="#000" stroke-width="1.25"/><line x1="101.70" y1="477.70" x2="101.70" y2="476.20" stroke="#000" stroke-width="1.25"/><line x1="111.66" y1="17.60" x2="111.66" y2="21.60" stroke="#000" stroke-width="1.25"/><line x1="111.66" y1="317.40" x2="111.66" y2="313.40" stroke="#000" stroke-width="1.25"/><line x1="111.66" y1="317.40" x2="111.66" y2="319.90" stroke="#000" stroke-width="1.25"/><line x1="111.66" y1="477.70" x2="111.66" y2="474.70" stroke="#000" stroke-width="1.25"/><line x1="121.62" y1="17.60" x2="121.62" y2="19.80" stroke="#000" stroke-width="1.25"/><line x1="121.62" y1="317.40" x2="121.62" y2="314.90" stroke="#000" stroke-width="1.25"/><line x1="121.62" y1="317.40" x2="121.62" y2="318.90" stroke="#000" stroke-width="1.25"/><line x1="121.62" y1="477.70" x2="121.62" y2="476.20" stroke="#000" stroke-width="1.25"/><line x1="131.58" y1="17.60" x2="131.58" y2="21.60" stroke="#000" stroke-width="1.25"/><line x1="131.58" y1="317.40" x2="131.58" y2="313.40" stroke="#000" stroke-width="1.25"/><line x1="131.58" y1="317.40" x2="131.58" y2="319.90" stroke="#000" stroke-width="1.25"/><line x1="131.58" y1="477.70" x2="131.58" y2="474.70" stroke="#000" stroke-width="1.25"/><line x1="141.54" y1="17.60" x2="141.54" y2="19.80" stroke="#000" stroke-width="1.25"/><line x1="141.54" y1="317.40" x2="141.54" y2="314.90" stroke="#000" stroke-width="1.25"/><line x1="141.54" y1="317.40" x2="141.54" y2="318.90" stroke="#000" stroke-width="1.25"/><line x1="141.54" y1="477.70" x2="141.54" y2="476.20" stroke="#000" stroke-width="1.25"/><line x1="151.50" y1="17.60" x2="151.50" y2="25.60" stroke="#000" stroke-width="1.25"/><line x1="151.50" y1="317.40" x2="151.50" y2="309.40" stroke="#000" stroke-width="1.25"/><line x1="151.50" y1="317.40" x2="151.50" y2="322.90" stroke="#000" stroke-width="1.25"/><line x1="151.50" y1="477.70" x2="151.50" y2="472.70" stroke="#000" stroke-width="1.25"/><line x1="161.46" y1="17.60" x2="161.46" y2="19.80" stroke="#000" stroke-width="1.25"/><line x1="161.46" y1="317.40" x2="161.46" y2="314.90" stroke="#000" stroke-width="1.25"/><line x1="161.46" y1="317.40" x2="161.46" y2="318.90" stroke="#000" stroke-width="1.25"/><line x1="161.46" y1="477.70" x2="161.46" y2="476.20" stroke="#000" stroke-width="1.25"/><line x1="171.42" y1="17.60" x2="171.42" y2="21.60" stroke="#000" stroke-width="1.25"/><line x1="171.42" y1="317.40" x2="171.42" y2="313.40" stroke="#000" stroke-width="1.25"/><line x1="171.42" y1="317.40" x2="171.42" y2="319.90" stroke="#000" stroke-width="1.25"/><line x1="171.42" y1="477.70" x2="171.42" y2="474.70" stroke="#000" stroke-width="1.25"/><line x1="181.38" y1="17.60" x2="181.38" y2="19.80" stroke="#000" stroke-width="1.25"/><line x1="181.38" y1="317.40" x2="181.38" y2="314.90" stroke="#000" stroke-width="1.25"/><line x1="181.38" y1="317.40" x2="181.38" y2="318.90" stroke="#000" stroke-width="1.25"/><line x1="181.38" y1="477.70" x2="181.38" y2="476.20" stroke="#000" stroke-width="1.25"/><line x1="191.34" y1="17.60" x2="191.34" y2="21.60" stroke="#000" stroke-width="1.25"/><line x1="191.34" y1="317.40" x2="191.34" y2="313.40" stroke="#000" stroke-width="1.25"/><line x1="191.34" y1="317.40" x2="191.34" y2="319.90" stroke="#000" stroke-width="1.25"/><line x1="191.34" y1="477.70" x2="191.34" y2="474.70" stroke="#000" stroke-width="1.25"/><line x1="201.30" y1="17.60" x2="201.30" y2="19.80" stroke="#000" stroke-width="1.25"/><line x1="201.30" y1="317.40" x2="201.30" y2="314.90" stroke="#000" stroke-width="1.25"/><line x1="201.30" y1="317.40" x2="201.30" y2="318.90" stroke="#000" stroke-width="1.25"/><line x1="201.30" y1="477.70" x2="201.30" y2="476.20" stroke="#000" stroke-width="1.25"/><line x1="211.26" y1="17.60" x2="211.26" y2="21.60" stroke="#000" stroke-width="1.25"/><line x1="211.26" y1="317.40" x2="211.26" y2="313.40" stroke="#000" stroke-width="1.25"/><line x1="211.26" y1="317.40" x2="211.26" y2="319.90" stroke="#000" stroke-width="1.25"/><line x1="211.26" y1="477.70" x2="211.26" y2="474.70" stroke="#000" stroke-width="1.25"/><line x1="221.22" y1="17.60" x2="221.22" y2="19.80" stroke="#000" stroke-width="1.25"/><line x1="221.22" y1="317.40" x2="221.22" y2="314.90" stroke="#000" stroke-width="1.25"/><line x1="221.22" y1="317.40" x2="221.22" y2="318.90" stroke="#000" stroke-width="1.25"/><line x1="221.22" y1="477.70" x2="221.22" y2="476.20" stroke="#000" stroke-width="1.25"/><line x1="231.18" y1="17.60" x2="231.18" y2="21.60" stroke="#000" stroke-width="1.25"/><line x1="231.18" y1="317.40" x2="231.18" y2="313.40" stroke="#000" stroke-width="1.25"/><line x1="231.18" y1="317.40" x2="231.18" y2="319.90" stroke="#000" stroke-width="1.25"/><line x1="231.18" y1="477.70" x2="231.18" y2="474.70" stroke="#000" stroke-width="1.25"/><line x1="241.14" y1="17.60" x2="241.14" y2="19.80" stroke="#000" stroke-width="1.25"/><line x1="241.14" y1="317.40" x2="241.14" y2="314.90" stroke="#000" stroke-width="1.25"/><line x1="241.14" y1="317.40" x2="241.14" y2="318.90" stroke="#000" stroke-width="1.25"/><line x1="241.14" y1="477.70" x2="241.14" y2="476.20" stroke="#000" stroke-width="1.25"/><line x1="251.10" y1="17.60" x2="251.10" y2="25.60" stroke="#000" stroke-width="1.25"/><line x1="251.10" y1="317.40" x2="251.10" y2="309.40" stroke="#000" stroke-width="1.25"/><line x1="251.10" y1="317.40" x2="251.10" y2="322.90" stroke="#000" stroke-width="1.25"/><line x1="251.10" y1="477.70" x2="251.10" y2="472.70" stroke="#000" stroke-width="1.25"/><line x1="261.06" y1="17.60" x2="261.06" y2="19.80" stroke="#000" stroke-width="1.25"/><line x1="261.06" y1="317.40" x2="261.06" y2="314.90" stroke="#000" stroke-width="1.25"/><line x1="261.06" y1="317.40" x2="261.06" y2="318.90" stroke="#000" stroke-width="1.25"/><line x1="261.06" y1="477.70" x2="261.06" y2="476.20" stroke="#000" stroke-width="1.25"/><line x1="271.02" y1="17.60" x2="271.02" y2="21.60" stroke="#000" stroke-width="1.25"/><line x1="271.02" y1="317.40" x2="271.02" y2="313.40" stroke="#000" stroke-width="1.25"/><line x1="271.02" y1="317.40" x2="271.02" y2="319.90" stroke="#000" stroke-width="1.25"/><line x1="271.02" y1="477.70" x2="271.02" y2="474.70" stroke="#000" stroke-width="1.25"/><line x1="280.98" y1="17.60" x2="280.98" y2="19.80" stroke="#000" stroke-width="1.25"/><line x1="280.98" y1="317.40" x2="280.98" y2="314.90" stroke="#000" stroke-width="1.25"/><line x1="280.98" y1="317.40" x2="280.98" y2="318.90" stroke="#000" stroke-width="1.25"/><line x1="280.98" y1="477.70" x2="280.98" y2="476.20" stroke="#000" stroke-width="1.25"/><line x1="290.94" y1="17.60" x2="290.94" y2="21.60" stroke="#000" stroke-width="1.25"/><line x1="290.94" y1="317.40" x2="290.94" y2="313.40" stroke="#000" stroke-width="1.25"/><line x1="290.94" y1="317.40" x2="290.94" y2="319.90" stroke="#000" stroke-width="1.25"/><line x1="290.94" y1="477.70" x2="290.94" y2="474.70" stroke="#000" stroke-width="1.25"/><line x1="300.90" y1="17.60" x2="300.90" y2="19.80" stroke="#000" stroke-width="1.25"/><line x1="300.90" y1="317.40" x2="300.90" y2="314.90" stroke="#000" stroke-width="1.25"/><line x1="300.90" y1="317.40" x2="300.90" y2="318.90" stroke="#000" stroke-width="1.25"/><line x1="300.90" y1="477.70" x2="300.90" y2="476.20" stroke="#000" stroke-width="1.25"/><line x1="310.86" y1="17.60" x2="310.86" y2="21.60" stroke="#000" stroke-width="1.25"/><line x1="310.86" y1="317.40" x2="310.86" y2="313.40" stroke="#000" stroke-width="1.25"/><line x1="310.86" y1="317.40" x2="310.86" y2="319.90" stroke="#000" stroke-width="1.25"/><line x1="310.86" y1="477.70" x2="310.86" y2="474.70" stroke="#000" stroke-width="1.25"/><line x1="320.82" y1="17.60" x2="320.82" y2="19.80" stroke="#000" stroke-width="1.25"/><line x1="320.82" y1="317.40" x2="320.82" y2="314.90" stroke="#000" stroke-width="1.25"/><line x1="320.82" y1="317.40" x2="320.82" y2="318.90" stroke="#000" stroke-width="1.25"/><line x1="320.82" y1="477.70" x2="320.82" y2="476.20" stroke="#000" stroke-width="1.25"/><line x1="330.78" y1="17.60" x2="330.78" y2="21.60" stroke="#000" stroke-width="1.25"/><line x1="330.78" y1="317.40" x2="330.78" y2="313.40" stroke="#000" stroke-width="1.25"/><line x1="330.78" y1="317.40" x2="330.78" y2="319.90" stroke="#000" stroke-width="1.25"/><line x1="330.78" y1="477.70" x2="330.78" y2="474.70" stroke="#000" stroke-width="1.25"/><line x1="340.74" y1="17.60" x2="340.74" y2="19.80" stroke="#000" stroke-width="1.25"/><line x1="340.74" y1="317.40" x2="340.74" y2="314.90" stroke="#000" stroke-width="1.25"/><line x1="340.74" y1="317.40" x2="340.74" y2="318.90" stroke="#000" stroke-width="1.25"/><line x1="340.74" y1="477.70" x2="340.74" y2="476.20" stroke="#000" stroke-width="1.25"/><line x1="350.70" y1="17.60" x2="350.70" y2="25.60" stroke="#000" stroke-width="1.25"/><line x1="350.70" y1="317.40" x2="350.70" y2="309.40" stroke="#000" stroke-width="1.25"/><line x1="350.70" y1="317.40" x2="350.70" y2="322.90" stroke="#000" stroke-width="1.25"/><line x1="350.70" y1="477.70" x2="350.70" y2="472.70" stroke="#000" stroke-width="1.25"/><line x1="360.66" y1="17.60" x2="360.66" y2="19.80" stroke="#000" stroke-width="1.25"/><line x1="360.66" y1="317.40" x2="360.66" y2="314.90" stroke="#000" stroke-width="1.25"/><line x1="360.66" y1="317.40" x2="360.66" y2="318.90" stroke="#000" stroke-width="1.25"/><line x1="360.66" y1="477.70" x2="360.66" y2="476.20" stroke="#000" stroke-width="1.25"/><line x1="45.40" y1="458.41" x2="52.40" y2="458.41" stroke="#000" stroke-width="1.0"/><line x1="370.80" y1="458.41" x2="363.80" y2="458.41" stroke="#000" stroke-width="1.0"/><line x1="45.40" y1="442.49" x2="50.90" y2="442.49" stroke="#000" stroke-width="1.0"/><line x1="370.80" y1="442.49" x2="365.30" y2="442.49" stroke="#000" stroke-width="1.0"/><line x1="45.40" y1="429.04" x2="50.90" y2="429.04" stroke="#000" stroke-width="1.0"/><line x1="370.80" y1="429.04" x2="365.30" y2="429.04" stroke="#000" stroke-width="1.0"/><line x1="45.40" y1="417.38" x2="50.90" y2="417.38" stroke="#000" stroke-width="1.0"/><line x1="370.80" y1="417.38" x2="365.30" y2="417.38" stroke="#000" stroke-width="1.0"/><line x1="45.40" y1="407.10" x2="50.90" y2="407.10" stroke="#000" stroke-width="1.0"/><line x1="370.80" y1="407.10" x2="365.30" y2="407.10" stroke="#000" stroke-width="1.0"/><line x1="45.40" y1="397.90" x2="52.40" y2="397.90" stroke="#000" stroke-width="1.0"/><line x1="370.80" y1="397.90" x2="363.80" y2="397.90" stroke="#000" stroke-width="1.0"/><line x1="45.40" y1="389.58" x2="50.90" y2="389.58" stroke="#000" stroke-width="1.0"/><line x1="370.80" y1="389.58" x2="365.30" y2="389.58" stroke="#000" stroke-width="1.0"/><line x1="45.40" y1="381.98" x2="50.90" y2="381.98" stroke="#000" stroke-width="1.0"/><line x1="370.80" y1="381.98" x2="365.30" y2="381.98" stroke="#000" stroke-width="1.0"/><line x1="45.40" y1="375.00" x2="50.90" y2="375.00" stroke="#000" stroke-width="1.0"/><line x1="370.80" y1="375.00" x2="365.30" y2="375.00" stroke="#000" stroke-width="1.0"/><line x1="45.40" y1="368.53" x2="50.90" y2="368.53" stroke="#000" stroke-width="1.0"/><line x1="370.80" y1="368.53" x2="365.30" y2="368.53" stroke="#000" stroke-width="1.0"/><line x1="45.40" y1="362.51" x2="52.40" y2="362.51" stroke="#000" stroke-width="1.0"/><line x1="370.80" y1="362.51" x2="363.80" y2="362.51" stroke="#000" stroke-width="1.0"/><line x1="45.40" y1="356.87" x2="50.90" y2="356.87" stroke="#000" stroke-width="1.0"/><line x1="370.80" y1="356.87" x2="365.30" y2="356.87" stroke="#000" stroke-width="1.0"/><line x1="45.40" y1="351.58" x2="50.90" y2="351.58" stroke="#000" stroke-width="1.0"/><line x1="370.80" y1="351.58" x2="365.30" y2="351.58" stroke="#000" stroke-width="1.0"/><line x1="45.40" y1="346.59" x2="50.90" y2="346.59" stroke="#000" stroke-width="1.0"/><line x1="370.80" y1="346.59" x2="365.30" y2="346.59" stroke="#000" stroke-width="1.0"/><line x1="45.40" y1="341.87" x2="50.90" y2="341.87" stroke="#000" stroke-width="1.0"/><line x1="370.80" y1="341.87" x2="365.30" y2="341.87" stroke="#000" stroke-width="1.0"/><line x1="45.40" y1="337.39" x2="52.40" y2="337.39" stroke="#000" stroke-width="1.0"/><line x1="370.80" y1="337.39" x2="363.80" y2="337.39" stroke="#000" stroke-width="1.0"/><line x1="45.40" y1="333.13" x2="50.90" y2="333.13" stroke="#000" stroke-width="1.0"/><line x1="370.80" y1="333.13" x2="365.30" y2="333.13" stroke="#000" stroke-width="1.0"/><line x1="45.40" y1="329.07" x2="50.90" y2="329.07" stroke="#000" stroke-width="1.0"/><line x1="370.80" y1="329.07" x2="365.30" y2="329.07" stroke="#000" stroke-width="1.0"/><line x1="45.40" y1="325.19" x2="50.90" y2="325.19" stroke="#000" stroke-width="1.0"/><line x1="370.80" y1="325.19" x2="365.30" y2="325.19" stroke="#000" stroke-width="1.0"/><line x1="45.40" y1="321.48" x2="50.90" y2="321.48" stroke="#000" stroke-width="1.0"/><line x1="370.80" y1="321.48" x2="365.30" y2="321.48" stroke="#000" stroke-width="1.0"/><rect x="45.4" y="17.6" width="325.40" height="299.80" fill="none" stroke="#000" stroke-width="1.25"/><rect x="45.4" y="317.4" width="325.40" height="160.30" fill="none" stroke="#000" stroke-width="1.25"/><line x1="45.4" y1="397.90" x2="370.8" y2="397.90" stroke="#000" stroke-width="1.05"/><line x1="64" y1="62.20" x2="89" y2="62.20" stroke="#b05c1a" stroke-width="1.2" stroke-dasharray="2.2,2.1"/><circle cx="76.50" cy="62.20" r="2.75" fill="none" stroke="#b05c1a" stroke-width="1.2"/><text x="94.2" y="64.70" font-size="9.4">Herwig++ 2.7.1 default</text><line x1="64" y1="75.25" x2="89" y2="75.25" stroke="#46a232" stroke-width="1.2" stroke-dasharray="2.2,2.1"/><rect x="73.95" y="72.70" width="5.1" height="5.1" fill="none" stroke="#46a232" stroke-width="1.1"/><text x="94.2" y="77.75" font-size="9.4">Herwig 7.2.1 default</text><line x1="64" y1="88.30" x2="89" y2="88.30" stroke="#0000f0" stroke-width="1.2"/><path d="M76.50,85.40L79.30,90.90L73.70,90.90Z" fill="#0000f0"/><text x="94.2" y="90.80" font-size="9.4">Pythia 8.315 default</text><line x1="64" y1="101.35" x2="89" y2="101.35" stroke="#1a9ec8" stroke-width="1.2" stroke-dasharray="3.8,1.8,1.1,1.6"/><path d="M76.50,104.25L79.30,98.75L73.70,98.75Z" fill="#1a9ec8"/><text x="94.2" y="103.85" font-size="9.4">Pythia 8.315 vincia-default</text><line x1="64" y1="114.40" x2="89" y2="114.40" stroke="#ff0000" stroke-width="1.2" stroke-dasharray="1.3,0.9"/><path d="M76.50,111.00L78.70,114.40L76.50,117.80L74.30,114.40Z" fill="#ff0000"/><text x="94.2" y="116.90" font-size="9.4">Sherpa 2.2.9 default</text><text x="51" y="14.8" font-size="12" text-anchor="start" fill="#000" >7000 GeV pp</text><text x="367.2" y="14.8" font-size="12.1" text-anchor="end" fill="#000" >Top (parton level)</text><text x="208.9" y="42.8" font-size="10.2" text-anchor="middle" fill="#000" >Δϕ (ttbar) (dy &lt; 0)</text><text x="207.7" y="302.2" font-size="8" text-anchor="middle" fill="#888" >(MC_FBA_TTBAR)</text><text x="39.5" y="69.61" font-size="11" text-anchor="end"><tspan>10</tspan><tspan font-size="7.5" dy="-6.6">3</tspan></text><text x="39.5" y="134.04" font-size="11" text-anchor="end"><tspan>10</tspan><tspan font-size="7.5" dy="-6.6">2</tspan></text><text x="40" y="196.67" font-size="11" text-anchor="end" fill="#000" >10</text><text x="40" y="261.10" font-size="11" text-anchor="end" fill="#000" >1</text><text x="39" y="341.39" font-size="11.5" text-anchor="end" fill="#000" >2</text><text x="374" y="341.39" font-size="11.5" text-anchor="start" fill="#000" >2</text><text x="39" y="401.90" font-size="11.5" text-anchor="end" fill="#000" >1</text><text x="374" y="401.90" font-size="11.5" text-anchor="start" fill="#000" >1</text><text x="39" y="462.41" font-size="11.5" text-anchor="end" fill="#000" >0.5</text><text x="374" y="462.41" font-size="11.5" text-anchor="start" fill="#000" >0.5</text><text x="51.90" y="489" font-size="11" text-anchor="middle" fill="#000" >0</text><text x="151.50" y="489" font-size="11" text-anchor="middle" fill="#000" >1</text><text x="251.10" y="489" font-size="11" text-anchor="middle" fill="#000" >2</text><text x="350.70" y="489" font-size="11" text-anchor="middle" fill="#000" >3</text><text transform="translate(17.2,395.7) rotate(-90)" font-size="9" text-anchor="middle">Ratio to Herwig++ 2.7.1 default</text><text transform="translate(380.6,73.6) rotate(-90)" font-size="9.6" text-anchor="middle">Rivet 4.1.0, ≥ 100k events</text><text transform="translate(380.6,242.4) rotate(-90)" font-size="9.45" text-anchor="middle">mcplots.cern.ch [arXiv:1306.3436]</text></svg>
</body></html>
